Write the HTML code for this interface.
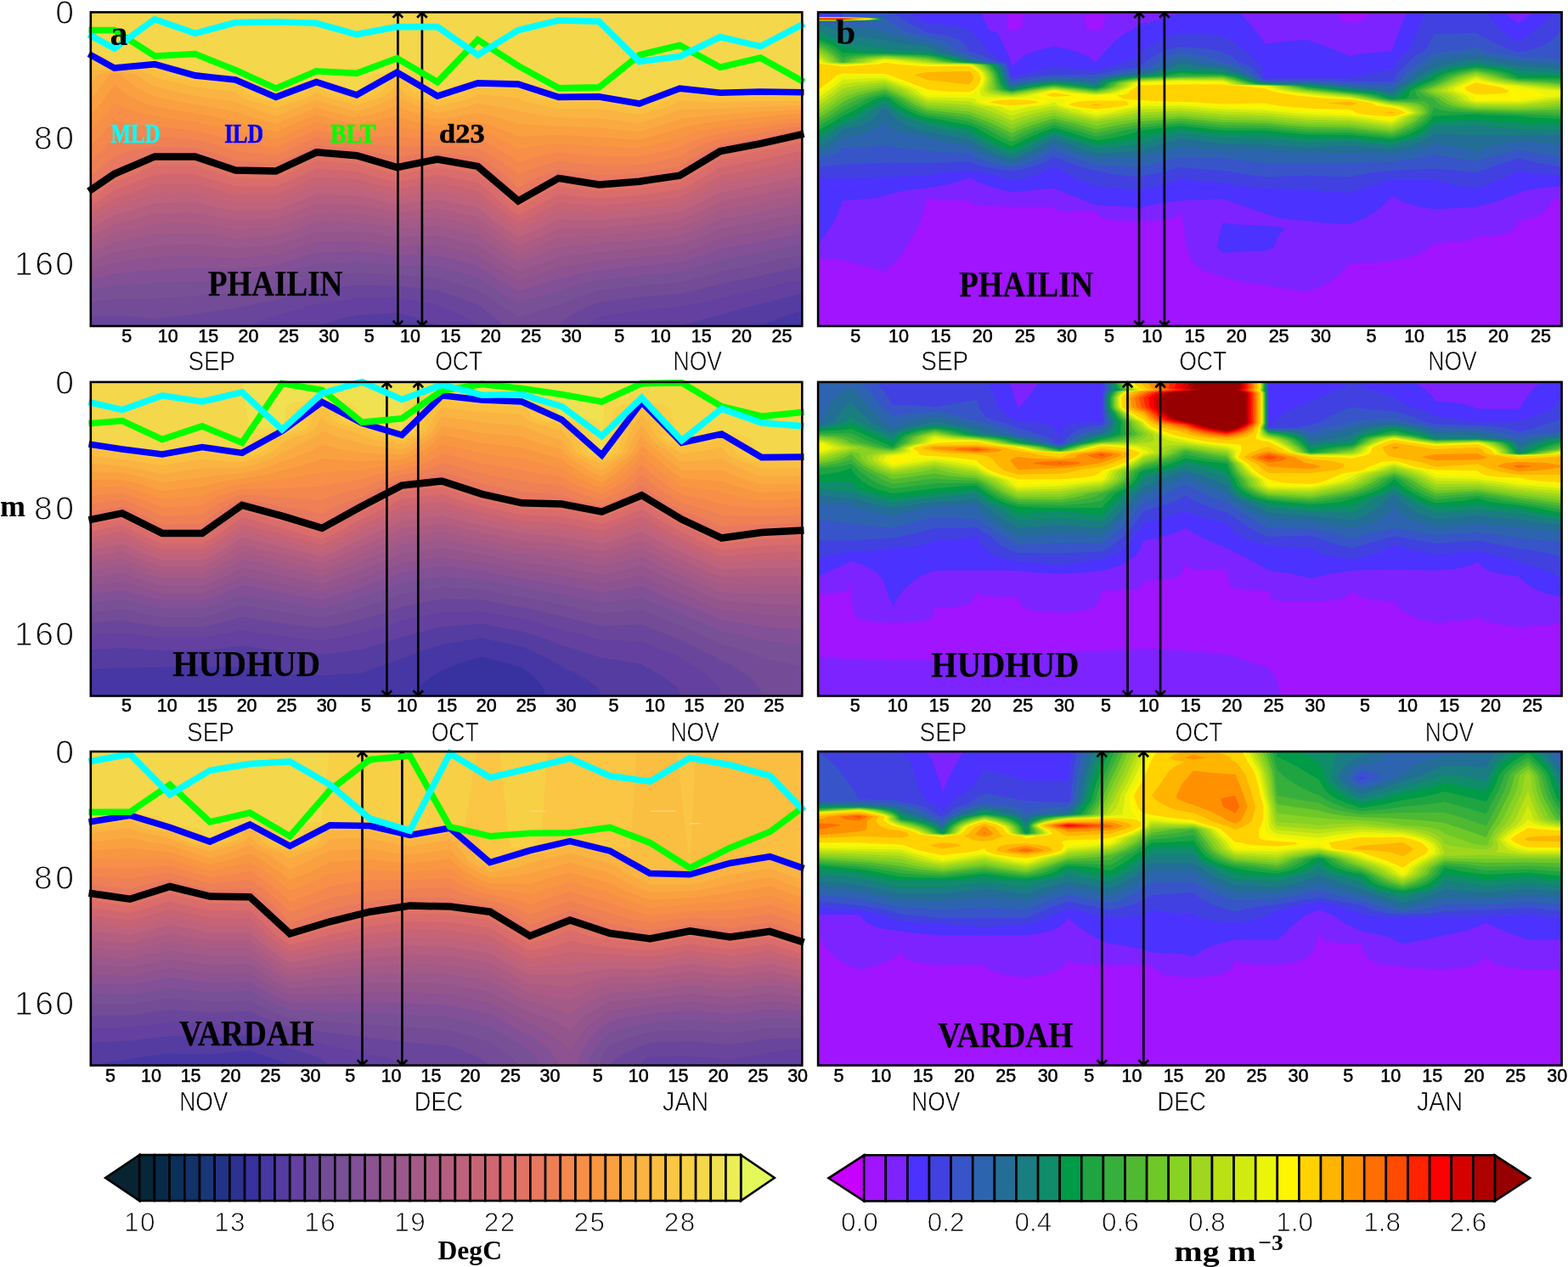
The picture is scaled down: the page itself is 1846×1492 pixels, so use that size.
<!DOCTYPE html>
<html><head><meta charset="utf-8"><title>Figure</title>
<style>html,body{margin:0;padding:0;background:#fff;}body{width:1846px;height:1492px;overflow:hidden;}svg{display:block;}</style>
</head><body><svg width="1846" height="1492" viewBox="0 0 1846 1492"><defs><clipPath id="ct0"><rect x="106.8" y="14.4" width="837.5" height="369.6"/></clipPath><clipPath id="cc0"><rect x="963.1" y="14.4" width="875.5" height="369.6"/></clipPath><clipPath id="ct1"><rect x="106.8" y="449.9" width="837.5" height="369.6"/></clipPath><clipPath id="cc1"><rect x="963.1" y="449.9" width="875.5" height="369.6"/></clipPath><clipPath id="ct2"><rect x="106.8" y="885" width="837.5" height="369.6"/></clipPath><clipPath id="cc2"><rect x="963.1" y="885" width="875.5" height="369.6"/></clipPath></defs><g clip-path="url(#ct0)"><rect x="106.8" y="14.4" width="837.5" height="369.6" fill="#4637a5"/><path fill="#553ca0" d="M106.8 14.4 944.3 14.4 944.3 365.8 920.5 372.9 895.4 384 106.8 384Z"/><path fill="#6441a0" d="M106.8 14.4 944.3 14.4 944.3 345.8 919.8 351.7 876.1 362.7 847.8 371.1 835.8 373.8 800.3 384 515 384 493.2 374.8 467.4 368.3 419.9 371.4 406.7 373.8 372.4 384 106.8 384Z"/><path fill="#69469b" d="M106.8 14.4 944.3 14.4 944.3 329.2 888.7 341.5 828.7 355.4 800.3 361.4 752.8 365.4 705.2 373.1 700.7 375.7 691.6 384 562.5 384 550.2 374.8 548.5 373.8 529.1 364.6 515 359 495.6 355.4 467.4 351.1 419.9 351.6 372.4 357.9 314.7 374.8 293.1 384 106.8 384Z"/><path fill="#734b96" d="M106.8 14.4 944.3 14.4 944.3 314.2 847.9 334.5 824.3 340.6 800.3 346.1 752.8 349.9 705.2 355.9 697 359.1 679.2 367.4 665.8 375.7 657.6 384 592.3 384 583.7 374.8 562.5 358.8 546 352.6 515 342 467.4 336.7 419.9 335.7 372.4 340.2 324.8 353.2 303.7 357.2 277.2 363 257.5 365.5 229.7 370.2 195.7 373.8 182.1 376 164.5 373.8 134.6 371.7 106.8 373.1Z"/><path fill="#785096" d="M106.8 14.4 944.3 14.4 944.3 300.3 895.4 310.5 847.9 319.9 824.2 326.7 800.3 332.7 752.8 336.8 705.2 342 678.4 350.7 657.6 359.4 610.1 373.3 604.5 369.2 562.5 341.8 515 327.2 467.4 323.9 419.9 321.5 372.3 324.8 324.8 338 277.2 345.5 251.5 347 182.1 352.1 134.6 352.2 106.8 355.8Z"/><path fill="#825096" d="M106.8 14.4 944.3 14.4 944.3 287.2 895.4 297.3 847.9 306.4 821.4 314.7 800.3 320.5 752.8 324.7 705.2 329.7 680.2 336 640.9 348 610.1 356.4 584.9 341.5 562.5 326.9 515 313.7 467.4 311.8 419.9 308.3 372.4 310.7 350 317.5 324.8 324.5 277.2 330.6 229.7 331.1 134.6 336.5 106.8 341.9Z"/><path fill="#8c5291" d="M106.8 14.4 944.3 14.4 944.3 274.6 895.4 284.7 847.9 293.6 827.3 300.8 800.3 309.1 705.2 318.2 685 322.1 657.6 328.4 634.3 336 610.1 342.8 587.1 329.5 562.5 313.4 515 301 467.4 300.5 419.9 295.9 372.4 297.6 347.2 305.5 324.8 311.9 277.2 317 229.7 315.5 182.1 317.9 134.6 322.5 122.7 325.8 106.8 329.5Z"/><path fill="#94558c" d="M106.8 14.4 944.3 14.4 944.3 262.5 895.4 272.7 847.9 281.5 826.1 289.8 800.3 298.2 705.2 307.4 675.7 311.9 657.6 315.2 638 322.1 610.1 330.7 583.1 314.7 562.5 300.7 541 295.3 515 289 467.4 289.7 419.9 284 372.4 285.1 346.7 293.4 324.8 300.1 277.2 304.4 229.7 301.1 182.1 303.1 134.6 309.6 118.7 314.7 106.8 318.1Z"/><path fill="#9b588c" d="M106.8 14.4 944.3 14.4 944.3 250.9 895.4 261.1 847.9 269.8 826.3 278.7 800.3 287.9 752.8 292.8 696.3 298.1 657.6 302.8 633.2 311.9 610.1 319.4 585.3 304.5 573 296.2 562.5 288.6 515 277.5 467.4 279.3 419.9 272.6 372.4 273.1 350.9 280.5 324.8 288.8 277.2 292.3 229.7 287.5 182.1 289.2 159 293.4 134.6 297.4 123.2 301.8 106.8 307.2Z"/><path fill="#a35a87" d="M106.8 14.4 944.3 14.4 944.3 239.6 895.4 249.9 847.9 258.6 827.4 267.6 800.3 277.8 752.8 283.1 657.6 291.1 635.7 299.9 610.1 308.8 585.2 293.4 573.2 285.1 562.5 277.1 515 266.4 467.4 269.3 419.9 261.7 372.4 261.5 350.6 269.4 324.8 278 277.2 280.9 229.7 274.5 182.1 276 157.3 281.4 134.6 285.7 121.1 291.6 106.8 296.9Z"/><path fill="#ac5c84" d="M106.8 14.4 944.3 14.4 944.3 228.6 895.4 239 847.9 247.7 827 257.4 800.3 268.2 752.8 273.6 705.2 277.7 657.6 279.8 634.5 289.8 610.1 298.8 585.8 283.3 574.1 275 562.5 266 515 255.7 467.4 259.5 419.9 251.1 372.4 250.3 348.8 259.3 324.8 267.5 277.2 269.9 229.7 262.1 182.1 263.3 158.1 269.4 134.6 274.6 120.3 281.4 106.8 287Z"/><path fill="#b45f80" d="M106.8 14.4 944.3 14.4 944.3 217.9 895.4 228.4 847.9 237.1 825.3 248.2 800.3 258.8 752.8 264.5 705.2 268.5 657.6 269 636.5 278.7 610.1 289.1 599.4 282.4 585.8 273.1 574.5 264.8 562.5 255.2 546.9 251.9 515 245.3 467.4 250 419.9 240.7 372.4 239.5 348 249.1 324.8 257.4 277.2 259.2 252 254.6 229.7 250.1 182.1 251.1 160.3 257.4 134.6 263.8 122.3 270.3 106.8 277.5Z"/><path fill="#be627d" d="M106.8 14.4 944.3 14.4 944.3 207.4 895.4 218.1 847.9 226.7 826.2 238 800.3 249.6 752.8 255.5 705.2 259.5 657.6 258.5 635 269.4 610.1 279.7 597.1 271.3 585.4 263 574.5 254.6 562.5 244.7 515 235.1 467.4 240.8 419.9 230.6 372.4 228.9 347.9 238.9 324.8 247.6 277.2 248.8 251.5 243.6 229.7 238.5 182.1 239.3 160.1 246.3 134.6 253.4 121.1 261.1 106.8 268.2Z"/><path fill="#c66476" d="M106.8 14.4 944.3 14.4 944.3 197.1 895.4 207.9 847.9 216.6 825.6 228.8 800.3 240.7 752.8 246.8 705.2 250.8 657.6 248.3 634.2 260.2 610.1 270.7 598.6 263 585.8 253.7 575.2 245.4 562.5 234.5 515 225.2 467.4 231.7 445.4 226.9 419.9 220.8 372.4 218.6 350.8 227.8 324.8 237.9 277.2 238.7 253.8 233.4 229.7 227.2 182.2 227.8 158 236.2 134.6 243.2 120.6 251.9 106.8 259.2Z"/><path fill="#d06770" d="M106.8 14.4 944.3 14.4 944.3 187 895.4 198 847.9 206.7 823.7 220.5 800.3 231.9 752.8 238.3 705.2 242.2 657.6 238.4 635.9 250 610.1 261.8 598.3 253.7 585.9 244.5 576.8 237.1 562.5 224.6 515 215.5 467.4 222.9 445.3 217.7 419.9 211.1 372.4 208.5 351.7 217.7 324.8 228.6 277.2 228.9 251.2 222.3 229.7 216.1 182.2 216.6 157 226 134.6 233.3 120.5 242.6 106.8 250.4Z"/><path fill="#da6c6c" d="M106.8 14.4 944.3 14.4 944.3 177.1 895.4 188.2 847.9 197 824 211.2 800.3 223.3 752.8 230 705.2 233.8 657.6 228.7 636 240.8 610.1 253.2 588.1 237.1 574.6 224.1 562.5 214.8 515 206 467.4 214.2 444.5 208.4 419.9 201.7 372.4 198.6 351 208.4 324.8 219.4 277.2 219.2 251.5 212.1 229.7 205.3 182.1 205.6 156.8 215.8 134.6 223.6 120.7 233.4 106.8 241.9Z"/><path fill="#e17364" d="M106.8 14.4 944.3 14.4 944.3 167.3 895.4 178.6 847.9 187.5 830.7 197.4 816.2 206.6 800.3 214.9 752.8 221.8 705.2 225.6 657.6 219.2 641.9 226.9 626 237.1 610.1 244.8 599.4 237.1 589.1 226 579.9 217.7 571.5 211.2 562.5 205.3 515 196.7 467.4 205.6 443.3 199.2 419.9 192.4 372.4 188.9 344.5 202 324.8 210.4 277.2 209.8 253.9 202.9 229.7 194.8 182.1 194.9 170.7 199.2 157.2 205.7 134.6 214.1 126.2 219.5 118.5 226 106.8 233.4Z"/><path fill="#e8785f" d="M106.8 14.4 944.3 14.4 944.3 157.8 933.1 161.3 918.3 165 893.6 169.6 871.7 174.3 847.9 178.1 824.6 190.9 812.7 198.3 800.3 206.6 773.6 210.3 752.8 213.7 722.3 215.8 705.2 217.4 679.6 213.1 657.6 209.9 642.6 215.8 631.5 221.4 621.2 227.8 610.1 236.5 599.8 224.1 588.2 213.1 575.9 203.8 562.5 195.9 535.8 190.9 515 187.5 490.5 191.8 467.4 197.1 446.2 190 432.8 186.3 419.9 183.2 372.4 179.3 324.8 201.5 277.2 200.5 252.8 191.8 229.7 184.4 182.1 184.4 170.7 187.2 161.8 190 154.6 192.7 146.9 196.4 140.8 200.1 134.7 204.7 126.4 208.4 118.8 213.1 112.3 218.6 106.8 225.1Z"/><path fill="#ee8055" d="M106.8 14.4 944.3 14.4 944.3 152.9 918.1 157.6 895.4 162.9 870.6 166.9 847.9 171 829.8 177.9 815 186.3 800.3 195.6 752.8 203.9 705.2 206.3 657.6 199.7 642.9 204.7 629.8 210.3 618.9 215.8 610.1 221.5 600.3 211.2 590.5 202.9 575.3 192.7 562.5 185.4 542.6 182.6 515 179.7 492.5 181.6 467.4 185 451 180.7 435.8 177.9 419.9 175.8 372.4 170.5 353.4 178.9 324.8 192.2 277.2 189 255.1 181.6 229.7 174.2 182.1 172.6 171.1 174.3 156.7 177 146 179.8 134.6 183.8 120.7 196.4 106.8 207.3Z"/><path fill="#f3874e" d="M106.8 14.4 944.3 14.4 944.3 148 918.3 152.1 895.4 156.7 847.9 163.8 832.5 168.7 820.8 173.3 811.3 177.9 800.3 184.5 779.2 189 752.8 194.1 705.2 195.1 657.6 189.4 645.1 192.7 630.7 197.4 619.2 202 610.1 206.3 601 198.3 588.3 189 576 181.6 562.5 174.8 515 171.9 467.4 172.8 449.1 170.6 419.9 168.3 393.8 165 372.4 161.8 347.8 172.4 324.8 183 302.9 180.7 277.2 177.5 254.4 170.6 229.7 163.9 182.1 160.8 134.6 162.9 120.8 177 106.8 189.3Z"/><path fill="#f78f48" d="M106.8 14.4 944.3 14.4 944.3 143.2 918.7 146.5 895.4 150.4 847.9 156.7 833.3 160.4 821.7 164.1 810 168.7 800.3 173.5 778 178.9 752.8 184.3 705.2 183.9 657.6 179.2 632.3 184.4 622.2 187.2 610.1 191.2 599.7 183.5 587.7 176.1 575 169.6 562.5 164.3 515 164.1 484 162.2 467.4 160.7 419.9 160.9 392.6 156.7 372.4 153 348.4 163.2 324.8 173.7 297.4 169.6 277.2 165.9 253.6 159.5 229.7 153.7 166 147.5 147.1 144.7 134.6 141.9 120.9 157.6 106.8 171.4Z"/><path fill="#f89641" d="M106.8 14.4 944.3 14.4 944.3 138.4 919.2 141 895.4 144.2 864.8 147.5 844 150.2 823.1 154.8 813.5 157.6 800.3 162.4 794.3 164.1 773.2 169.6 752.8 174.5 705.2 172.8 657.6 168.9 629.9 172.4 610.1 176.1 599.6 169.6 588.8 164.1 575.9 158.5 562.5 153.8 515 156.3 489.5 153 479.2 151.2 467.4 148.5 447.9 151.2 419.9 153.5 396.4 149.3 372.4 144.3 348.9 153.9 324.8 164.4 294.4 158.5 256.6 149.3 229.7 143.4 188.6 138.2 173.4 135.4 162.6 132.7 151.4 129 142.6 125.3 134.6 120.9 120.9 138.2 106.8 153.4Z"/><path fill="#faa041" d="M106.8 14.4 944.3 14.4 944.3 133.6 920 135.4 861.5 141 847.9 142.4 831.4 144.7 808 149.3 776.1 158.5 752.8 164.7 657.6 158.7 610.1 161 599.5 155.8 588.1 151.2 577.3 147.5 562.5 143.2 536.4 146.5 515 148.5 499.3 145.6 487.5 142.8 477.9 140.1 467.4 136.3 458 139.1 445.9 141.9 419.9 146 395.1 141 372.4 135.5 347.2 145.6 324.8 155.2 299.5 149.3 277.2 142.9 255.8 138.2 229.7 133.2 207.8 129.9 182.1 125.5 168.2 120.7 154.3 114.2 144 107.7 134.6 100 120.9 118.8 106.8 135.5Z"/><path fill="#faaa41" d="M106.8 14.4 944.3 14.4 944.3 128.7 907 130.8 868.3 133.6 833.4 136.4 808.1 139.1 800.3 140.3 778.4 147.5 752.8 154.9 705.2 150.4 635.4 147.5 610.1 145.8 599.3 141.9 586.8 138.2 562.5 132.7 539 137.3 515 140.8 501.1 137.3 489.2 133.6 477.3 129 467.4 124.1 456.3 129 445.3 132.7 434.9 135.4 419.9 138.6 394.1 132.7 372.4 126.8 347.8 136.4 324.8 145.9 300.1 139.1 277.2 131.4 211.7 119.7 182.1 113.7 171 108.6 159.8 102.2 149.8 94.8 141.8 87.4 134.6 86.7 129.3 87.4 118.2 103.1 106.8 117.5Z"/><path fill="#fab441" d="M106.8 14.4 944.3 14.4 944.3 123.9 895.4 125.4 847.9 128.1 800.3 129.3 777.6 137.3 752.8 145.1 705.2 139.2 657.7 138.2 649.7 137.3 624.3 133.6 589.4 126.2 562.5 122.1 540.2 128.1 515 133 497.1 127.1 477.6 118.8 472.4 116 467.4 112 463.4 115.1 460.1 117 447.2 122.5 434.4 127.1 419.9 131.2 396.7 125.3 372.4 118 324.8 136.6 300.6 129 277.2 119.8 229.7 112.7 206.1 107.7 182.1 101.9 169.9 94.8 159.9 87.4 144.9 85.5 134.6 84.8 125.4 85.5 119.3 86.5 115.9 87.4 106.8 99.6Z"/><path fill="#fabe41" d="M106.8 14.4 944.3 14.4 944.3 119.1 895.4 119.1 847.9 121 821.3 119.7 800.3 118.2 794 122.5 787.6 125.3 781.5 127.1 769 129.9 752.8 135.3 705.2 128 657.6 127.9 644 125.3 619.1 119.7 614.1 117.9 610.1 115.6 586.7 113.3 562.5 111.6 556.1 115.1 547.8 117.9 534.1 120.7 515 125.2 503 120.7 489.8 117 481.6 113.3 476 109.6 471.5 104 467.4 99.8 459.4 108.6 451.9 113.3 445.1 116 431.7 119.7 419.9 123.8 405.1 119.7 392 117 385.4 115.1 378.2 112.3 372.4 109.2 366 113.3 360 116 351.8 118.8 337 122.5 324.8 127.4 310.6 122.5 299 119.7 290.5 117 283.2 113.3 277.2 108.3 229.7 102.4 205.6 96.6 191.5 93.9 183.9 91.1 177.9 87.4 171.7 85.5 165.6 84.6 153.7 83.7 115.4 82.8 106.8 81.7Z"/><path fill="#fac644" d="M106.8 14.4 944.3 14.4 944.3 114.8 895.4 114 847.9 115.3 824 113.3 812 111.4 800.3 110.2 794.8 111.4 793.3 112.3 786.4 118.8 780.2 121.6 767.7 125.3 752.8 128 743.2 127.1 729.1 125.3 720.3 123.4 714.4 121.6 705.2 119.9 657.6 120.4 645.1 118.8 635.5 117 626.5 114.2 622.5 112.3 619.5 110.5 616.5 106.8 610.1 105.1 562.5 103.9 557.7 105 555.7 105.9 551.5 109.6 542.7 113.3 536.5 115.1 528.3 117 515 119.1 499.4 115.1 492.2 112.3 486.7 109.6 480.7 100.3 475 93.9 474 92.9 471.7 92 467.4 91.1 460.9 92.9 454.9 99.4 449.4 107.7 448.4 108.6 437.9 113.3 424.4 117 419.9 117.9 409.3 116 397.6 113.3 391.8 111.4 385 108.6 378.5 104 372.4 102.6 366.2 104 362.3 106.8 358.2 110.5 349.7 114.2 337.1 117.9 324.8 120.4 308.1 117 297.2 113.3 291.8 110.5 288 105.9 284.3 102.2 282.9 101.3 277.2 100 258.1 98.5 221.4 93.9 210.3 92 202.7 90.2 197.2 88.3 191.2 85.5 189 83.7 187.1 82.8 182.1 81.7 134.6 81.2 122.9 80 115.8 78.2 112.5 76.3 110.1 70.8 106.8 69.5Z"/><path fill="#f8d046" d="M106.8 14.4 944.3 14.4 944.3 111.2 895.4 110.4 847.9 111.7 800.3 106.6 788.3 108.6 781.7 110.5 779.3 111.4 778.3 112.3 774.8 117.9 773.3 118.8 764.8 121.6 752.8 124.4 705.2 116.3 657.6 116.8 644.6 114.2 635.5 111.4 633.6 110.5 631.7 106.8 627.3 105 620.1 103.1 610.1 101.5 562.5 100.3 551.3 102.2 544.5 104 541.9 105 540.6 105.9 537.7 109.6 529.2 112.3 515 115.5 504.3 112.3 497.4 109.6 491.9 97.6 489.1 92.9 487.6 92 478 89.2 467.4 87.5 456.9 89.2 447.3 92 445.8 92.9 443.5 96.6 440.7 102.2 438.5 107.7 437.3 108.6 432.7 110.5 419.9 114.3 407.4 111.4 398.5 108.6 397 107.7 393.8 104 388.7 102.2 380.9 100.3 372.4 99 359.5 101.3 353.2 103.1 350.9 104 345.8 110.5 338.4 113.3 324.8 116.8 314.1 114.2 305.9 111.4 304 110.5 301 105 298.3 101.3 293 99.4 284.9 97.6 277.2 96.4 229.7 91.3 223.3 90.2 215 88.3 206 85.5 202.8 82.8 197.3 80.9 188.8 79.1 182.1 78.1 134.6 79.4 127 78.2 120.7 76.3 119.1 70.8 113.9 68 106.8 65.9Z"/><path fill="#f5d74b" d="M106.8 14.4 944.3 14.4 944.3 107.6 895.4 106.8 847.9 108.1 827 105.9 814 104 798.6 103.1 779.7 105 775.1 105.9 769.4 107.7 766 109.6 763.7 111.4 761.8 117.9 760.1 118.8 752.8 120.8 741 118.8 728.5 115.1 713.8 113.3 705.2 112.7 657.6 113.2 647.8 110.5 646.9 106.8 645.1 105 642.1 103.1 637.1 101.3 627.7 99.4 610.1 97.9 562.5 96.7 543 98.5 534.6 100.3 530 102.2 527.2 104 525.6 105.9 524.7 108.6 524 109.6 515 111.9 508 109.6 507.5 108.6 506 100.3 504.2 92.9 503.6 92 501.1 90.2 497.4 88.3 491.1 86.5 477.7 84.6 467.4 83.9 449 85.5 440.1 87.4 435.4 89.2 432.4 91.1 430.7 92.9 427.6 107.7 426.3 108.6 419.9 110.7 412.1 108.6 410.5 107.7 409.1 104 408.2 103.1 405.5 101.3 401.4 99.4 394.1 97.6 387.8 96.6 372.4 95.4 356.9 96.6 350.6 97.6 343.3 99.4 339.2 101.3 335.6 104 333.5 110.5 324.8 113.2 316.2 110.5 313.8 101.3 310.1 98.5 305.8 96.6 298 94.8 291.1 93.9 277.2 92.8 253.3 90.2 247.8 89.2 229.7 87.7 220.8 85.5 219.4 84.6 218.6 82.8 217.6 81.9 212.7 79.1 206.7 77.2 201.8 76.3 182.1 74.5 162.2 76.3 134.6 77.6 128.9 76.3 128.2 70.8 126 68 123.5 66.1 118.9 64.3 114.9 63.4 106.8 62.3Z"/></g><g clip-path="url(#cc0)"><rect x="963.1" y="14.4" width="875.5" height="369.6" fill="#a014ff"/><path fill="#7d23ff" d="M963.1 14.4 1576.2 14.4 1577.8 23.6 1588.7 26.7 1606.4 23.6 1609.4 19 1613.5 14.4 1838.6 14.4 1838.6 232.5 1827.5 236.2 1824.7 241.7 1821.3 246.3 1817.3 250 1813 252.8 1806.9 255.6 1801.1 257.4 1787.5 260.2 1785.7 264.8 1783.3 268.5 1780.3 271.3 1774.9 274 1768 275.9 1762.4 276.8 1753.5 277.7 1737.8 278.7 1735.4 280.5 1731.3 282.4 1722.3 284.2 1712.3 285.1 1688.1 286.1 1684.9 289.8 1681.8 292.5 1674.6 297.1 1668.2 299.9 1662.6 301.8 1650.5 304.5 1628.8 308.2 1617.6 309.2 1588.7 310.1 1584.5 315.6 1579.5 321.2 1574.4 325.8 1568.1 330.4 1561.9 334.1 1554.2 337.8 1538.9 343.3 1509.6 339.6 1489.2 336 1473.2 334.1 1458 331.3 1448.2 328.6 1439.5 324.9 1430.3 323 1423.7 321.2 1416.7 318.4 1411.7 315.6 1407.1 311.9 1404 308.2 1400.4 301.8 1397.5 294.4 1396.6 291.6 1394.6 275 1391.8 257.4 1389.8 249.1 1388.2 252.8 1385.6 255.6 1381.6 257.4 1377.5 258.3 1369 259.3 1340.1 260.2 1311.3 259.3 1302.7 258.3 1296.2 256.5 1292.6 253.7 1290.4 249.1 1247.5 248.2 1243.7 247.2 1242.2 246.3 1240.7 243.6 1191 243.6 1157.6 242.6 1149.9 241.7 1146.5 240.8 1143.3 238.9 1141.3 236.2 1103.9 235.2 1096.5 234.3 1091.6 232.5 1088 247.2 1084.1 259.3 1080.4 267.6 1071.6 284.2 1065.2 294.4 1058.1 303.6 1050.3 311.9 1041.9 319.3 1015.6 312.9 992.2 306.4 967.7 305.5 963.1 304.5Z M1191 16.2 1185.1 17.2 1186.5 34.7 1191 36 1202 34.7 1204 25.5 1206.5 17.2Z M1290.4 16.2 1275.2 18.1 1277.4 25.5 1279.4 34.7 1290.4 36 1297.7 34.7 1299.4 26.4 1301.4 21.8 1303.6 18.1Z"/><path fill="#4b32ff" d="M963.1 14.4 1161.2 14.4 1158.6 15.3 1155.5 17.2 1160 25.5 1163.9 34.7 1173.9 38.4 1177.3 44 1181.5 52.3 1185 60.6 1186.9 63.4 1188.2 66.1 1190.7 74.5 1191 79.1 1194.8 74.5 1198.8 70.8 1203.9 67.1 1208.7 64.3 1214.9 61.5 1222.9 58.8 1240.7 54.5 1260.5 58.8 1271.9 62.4 1281.5 67.1 1285.8 69.8 1290.4 73.5 1292.9 69.8 1300.9 60.6 1312.9 48.6 1325.5 38.4 1331 36.6 1334.5 34.7 1340.1 28.9 1355.8 25.5 1366.5 22.7 1378.2 19 1389.8 14.4 1459.4 14.4 1467.1 22.7 1474.9 32 1485.7 45.8 1489.2 51.4 1515.3 48.6 1538.9 46.7 1565.1 56 1588.7 66.1 1596.5 64.3 1610 62.4 1638.4 60.6 1647.2 36.6 1656.4 14.4 1770.9 14.4 1778.4 20.9 1787.5 26.9 1797.4 20.9 1806.1 14.4 1838.6 14.4 1838.6 218.9 1813.9 221.4 1802.3 223.2 1793.9 225.1 1787.5 226.9 1777.3 231.5 1764.9 236.2 1752.7 239.9 1737.8 243.6 1688.1 246.5 1671.6 243.6 1657.8 239.9 1646.3 235.2 1638.4 230.6 1633.9 236.2 1629.6 240.8 1624.4 245.4 1618.2 250 1612.2 253.7 1605.1 257.4 1596.5 261.1 1588.7 263.9 1554.2 262 1538.9 260.2 1517.6 258.3 1505.8 256.5 1495.4 253.7 1489.2 250.9 1481.7 249.1 1477.4 247.2 1439.5 234.3 1389.8 236.2 1363.3 239.9 1350.1 242.6 1340.1 245.4 1327.7 243.6 1315.3 242.6 1290.4 241.7 1240.7 221.4 1216.4 224.1 1191 226.4 1174.9 222.3 1157.1 216.8 1148.6 213.1 1141.3 208.4 1135 211.2 1127.1 214 1112.9 217.7 1097.8 220.5 1075 223.2 1063.2 225.1 1050.6 227.8 1041.9 230.6 1034.2 232.5 1020.9 234.3 992.2 236.2 986.2 251.9 979.7 264.8 972.2 275.9 967.6 281.4 963.1 286.1Z M1439.2 263 1439.5 262 1449.5 263.9 1460.8 264.8 1489.2 265.7 1501.3 266.7 1507.1 267.6 1512.8 269.4 1508.7 273.1 1505.8 276.8 1502.4 283.3 1499.6 291.6 1497.3 292.5 1489.2 295.3 1439.5 297.8 1432.4 291.6 1435.7 275.9Z"/><path fill="#4141e1" d="M963.1 14.4 1070.9 14.4 1091.6 27.3 1116.7 29.2 1129 31 1136.4 32.9 1141.3 34.7 1148.2 41.2 1156.2 50.4 1163.2 60.6 1170.9 64.3 1174.6 67.1 1177.3 69.8 1179.5 70.8 1183.4 73.5 1185.9 74.5 1187.2 75.4 1188 76.3 1191 90.2 1213.6 84.6 1240.7 79.1 1290.4 82.8 1295.9 80.9 1304.6 79.1 1317.1 75.4 1322.9 73.5 1331.6 69.8 1340.1 67.1 1342.9 62.4 1346.2 58.8 1357.5 51.4 1368.2 45.8 1381.2 41.2 1389.8 38.9 1423.7 40.3 1433.4 41.2 1439.5 42.1 1450 47.7 1460.4 55.1 1473.5 66.1 1480 73.5 1483.3 76.3 1485.3 79.1 1487.6 84.6 1489.2 92 1588.7 92 1611.9 86.5 1638.4 81.4 1642.9 74.5 1647.4 68.9 1659.8 56.9 1669.3 34.7 1679 14.4 1750.2 14.4 1756.1 22.7 1768.1 35.7 1772.5 39.3 1787.5 49 1796.9 43 1807.9 34.7 1822.5 21.8 1829.3 14.4 1838.6 14.4 1838.6 206.6 1810 204.7 1795.9 202.9 1787.5 201 1777.3 206.6 1765 212.1 1752.6 216.8 1737.8 221.4 1722.4 219.5 1711.1 217.7 1698.8 214.9 1688.1 211.6 1638.4 211.5 1588.7 226.9 1555.5 225.1 1538.9 223.2 1507.1 222.3 1478.2 220.5 1460 218.6 1439.5 215.8 1407.9 213.1 1389.8 210.3 1380.6 214 1368.3 217.7 1356.2 220.5 1340.1 223.2 1299.4 220.5 1290.4 219.5 1273.5 213.1 1256 204.7 1245.8 199.2 1240.7 195.5 1238.8 197.4 1236.1 199.2 1221 205.7 1208.1 209.4 1191 212.6 1177.8 208.4 1170.6 206.6 1157.7 203.8 1141.3 201 1127.3 202 1108.3 203.8 1091.6 206.6 992.2 210.3 968.2 209.4 963.1 208.4Z"/><path fill="#3755c8" d="M992.2 14.4 1050.2 14.4 1070.3 27.3 1091.6 38.4 1111.6 41.2 1119.2 43 1124.4 44.9 1129.9 47.7 1134.8 51.4 1138.7 56 1141.3 60.6 1148.8 62.4 1154.5 64.3 1160.7 67.1 1165.3 69.8 1172.3 71.7 1176.4 73.5 1181.1 74.5 1183.5 75.4 1185 76.3 1187.8 85.5 1188.8 90.2 1191 93.9 1210 91.1 1227.2 89.2 1240.7 88.3 1290.4 87.4 1317.7 81.9 1340.1 79.1 1348.4 72.6 1364.8 62.4 1371.2 59.7 1377.1 57.8 1389.8 55.1 1406.1 56 1423.8 57.8 1433.2 59.7 1439.5 61.6 1450.4 67.1 1459.8 73.5 1468 76.3 1473 79.1 1476.3 81.9 1480 86.5 1482.4 88.3 1484.9 92 1489.2 93.9 1538.9 93.9 1572.1 94.8 1588.7 95.7 1638.4 96 1641.5 93.9 1643.9 89.2 1646.5 85.5 1659.4 71.7 1668.3 64.3 1680 56.9 1688.1 39.9 1737.8 38.9 1759.6 50.4 1774.7 56.9 1787.5 61.6 1797.5 59.7 1804.6 57.8 1812.9 55.1 1819.2 52.3 1825.5 48.6 1832.6 42.1 1838.6 35.9 1838.6 196.4 1810.6 191.8 1798 189 1787.5 186.3 1771.9 191.8 1756.1 196.4 1737.8 203.6 1717.2 201 1688.1 198.4 1638.4 200.7 1612.9 203.8 1601.8 205.7 1588.7 208.4 1538.9 206.6 1489.2 208.4 1439.5 201 1389.8 197.1 1366.6 202.9 1340.1 208.4 1322.4 206.6 1309 204.7 1281.5 199.2 1274.6 197.4 1258 191.8 1248.7 188.1 1240.7 184.4 1232.1 190 1221 194.6 1208.5 198.3 1191 201 1174.8 199.2 1159.2 196.4 1149.1 193.7 1141.3 190.5 1091.6 192.1 1041.9 191.8 992.2 193.7 976.2 195.5 963.1 196.4 963.1 20 992.2 19.9Z"/><path fill="#2d64af" d="M963.1 20.9 963.1 20 992.2 20 1041.5 20.9 1041.9 22.7 1049 27.3 1061.5 34.7 1068.7 38.4 1078.9 41.2 1096.7 44.9 1107.3 47.7 1112.4 49.5 1118.3 52.3 1124 56 1129 60.6 1133.8 62.4 1146.8 67.1 1153.3 69.8 1163.4 71.7 1169.4 73.5 1176.3 74.5 1182.1 76.3 1185.6 85.5 1186.7 90.2 1191 97.6 1199.4 95.7 1211.4 93.9 1240.7 90.6 1290.4 92 1294.6 90.2 1298.3 89.2 1323.5 84.6 1340.1 82.2 1353.5 79.1 1360.5 74.5 1369 69.8 1379 65.2 1389.8 61.5 1402.2 63.4 1416.3 66.1 1429.8 69.8 1439.5 73.5 1449.1 75.4 1455.7 77.2 1464.5 80.9 1468.7 83.7 1471.9 86.5 1477.5 89.2 1480.6 92 1489.2 95.7 1538.9 95.7 1572.1 97.6 1588.7 99.4 1624.2 100.3 1638.4 101.4 1643.3 97.6 1649.2 93.9 1652.1 90.2 1655.7 86.5 1659.1 83.7 1663.3 80.9 1672.5 72.6 1680.3 67.1 1688.1 62.4 1714.1 59.7 1725.8 57.8 1737.8 55.3 1751.5 61.5 1787.5 67 1819.8 68 1829.3 68.9 1834 69.8 1838.6 71.7 1838.6 186.3 1828.3 183.5 1815.7 180.7 1787.5 176.1 1763.1 182.6 1737.8 189.8 1712.4 186.3 1698.6 183.5 1688.1 180.7 1679.2 183.5 1667.3 186.3 1656.9 188.1 1638.4 190.5 1588.7 191.8 1489.2 191.8 1439.5 186.3 1389.8 184.8 1340.1 197.4 1320.2 195.5 1290.4 193.7 1275.2 189 1251 180.7 1240.7 176.7 1233.8 180.7 1223.1 186.3 1214.8 190 1203.2 193.7 1191 196.4 1175.3 193.7 1164.5 190.9 1154.3 187.2 1146.3 183.5 1141.3 180.7 1123.7 179.8 1100.2 177.9 1063.6 174.3 1041.9 171.5 1015.9 173.3 992.2 174.3 987.2 178.9 982.1 181.6 973.4 184.4 963.1 186.3 963.1 25.8 985.1 26.4 992.2 27 1016.2 26.4 1030.4 25.5 963.1 25.3Z"/><path fill="#236e96" d="M963.1 20.9 963.1 20.1 992.2 20 1038.7 20.9 1040.4 21.8 1040.6 22.7 1039.7 23.6 1025 24.6 963.1 25Z M963.1 27.3 963.1 26.6 979 27.3 1019.8 32.9 1041.9 36.6 1050.6 40.3 1062.6 44 1075.2 46.7 1091.6 49.3 1098.3 51.4 1109.4 56 1116.8 60.6 1121.4 62.4 1132.2 65.2 1136.7 67.1 1141.3 69.8 1154.6 71.7 1162.3 73.5 1171.6 74.5 1179.2 76.3 1183.4 85.5 1184.5 90.2 1188.5 97.6 1191 100 1208.9 96.6 1240.7 92.9 1290.4 95.4 1295.2 92.9 1300.9 91.1 1305.1 90.2 1322.4 88.3 1340.1 85.2 1360.6 80.9 1366.9 79.1 1377 73.5 1389.8 68 1402.6 70.8 1412.8 73.5 1426 75.4 1439.5 76.8 1445.2 78.2 1455.7 81.9 1463.8 86.5 1471.9 89.2 1476.2 92 1485.4 95.7 1489.2 96.6 1538.9 97.6 1557.6 98.5 1588.7 101.3 1618.1 103.1 1631.1 105 1638.4 106.8 1642.5 103.1 1647.4 99.4 1657 93.9 1664.2 87.4 1670 83.7 1675.7 80.9 1681.4 76.3 1688.1 71.7 1696.2 69.8 1706.8 68 1721.6 66.1 1737.8 64.7 1787.5 72.4 1838.6 76.6 1838.6 171.2 1819 168.7 1787.5 165.9 1770.2 168.7 1758 171.5 1746.2 175.2 1737.8 178.9 1728.3 176.1 1715.7 173.3 1704.7 171.5 1688.1 169.3 1678.7 173.3 1668.8 176.1 1653.7 178.9 1638.4 180.7 1588.7 180.3 1538.9 180.7 1504.3 178.9 1489.2 177 1439.5 177 1389.8 173 1378.4 177 1365.6 180.7 1340.1 186.3 1290.4 186.3 1276.8 182.6 1262.4 177.9 1250.3 173.3 1240.7 169 1229.6 176.1 1218.7 181.6 1205.6 187.2 1191 191.8 1176.2 188.1 1162.9 183.5 1151.2 177.9 1141.3 171.5 1124.3 169.6 1112.8 167.8 1101.1 165 1091.6 161.7 1074.5 159.5 1065.4 157.6 1059.2 155.8 1052.9 153 1048.7 150.2 1044.8 146.5 1041.9 142.4 1039.6 145.6 1037.7 147.5 1035.3 149.3 1031.8 151.2 1021.6 155.8 1013.5 158.5 1002.3 161.3 992.2 163.2 985.3 168.7 978.3 173.3 971 177 963.1 179.8Z"/><path fill="#197d82" d="M963.1 20.9 963.1 20.1 992.2 20.1 1035.8 20.9 1039 21.8 1039.4 22.7 1037.3 23.6 1005.6 24.6 963.1 24.7Z M963.1 28.3 963.1 27.3 975.5 32 983.6 35.7 992.2 40.3 1041.9 47 1051.6 49.5 1067.7 52.3 1091.6 54.8 1097 56.9 1109 62.4 1123.1 65.2 1128.9 67.1 1135 69.8 1155.3 73.5 1166.8 74.5 1176.3 76.3 1181.2 85.5 1182.3 90.2 1185.9 97.6 1191 102.5 1199.5 100.3 1209.6 98.5 1223.3 96.6 1240.7 95 1273.3 96.6 1282.7 97.6 1290.4 98.8 1293.2 96.6 1296.6 94.8 1305.3 92 1315.6 90.2 1340.1 88.3 1355.8 84.6 1375.2 80.9 1380.3 79.1 1389.8 74.5 1399.8 76.3 1414.7 78.2 1439.5 80 1447.9 82.8 1455.7 86.5 1466.2 89.2 1471.9 92 1481.6 95.7 1489.2 97.6 1538.9 98.8 1561.5 100.3 1609.9 105 1629 107.7 1638.4 109.9 1642.5 107.7 1654 99.4 1664.8 93.9 1669.4 90.2 1673.8 87.4 1681 83.7 1688.1 80.9 1691.3 79.1 1693.7 78.2 1709.1 74.5 1729.7 70.8 1737.8 69.7 1787.5 77.7 1838.6 81.5 1838.6 159.6 1787.5 159 1737.8 159.1 1688.1 158 1685.7 160.4 1681.7 163.2 1668.4 168.7 1655.8 172.4 1638.4 175.8 1588.7 171.4 1538.9 174.3 1489.2 170.2 1439.5 169 1389.8 163.5 1379.6 165.9 1370 169.6 1358.7 173.3 1340.1 178.3 1290.4 180.7 1272.7 175.2 1249.3 165.9 1240.7 163.2 1234.5 165.9 1224.3 172.4 1213.7 177.9 1203 182.6 1191 186.9 1179.6 183.5 1167.4 178.9 1159.8 175.2 1141.3 164.7 1087.1 153.9 1079.7 152.1 1071.6 149.3 1063.9 145.6 1053.8 139.1 1049.7 135.4 1046.7 130.8 1041.9 127.4 1035.5 130.8 1033.1 134.5 1029.9 138.2 1026.7 141 1022.5 143.8 1016.5 146.5 1010.9 148.4 1003.2 150.2 992.2 152.1 987.8 156.7 978.7 164.1 971.6 168.7 963.1 173.3Z"/><path fill="#0f8c69" d="M963.1 20.9 963.1 20.2 992.2 20.1 1033 20.9 1037.6 21.8 1038.1 22.7 1035 23.6 992.2 24.5 963.1 24.5Z M963.1 36.6 963.1 35.7 965.3 36.6 980.5 44 985.5 45.8 989.7 48.6 992.2 51.4 1022.3 54.1 1044.9 57.8 1056.7 58.8 1091.6 60.3 1096.5 62.4 1114 65.2 1121.2 67.1 1128.7 69.8 1133.4 70.8 1148.3 73.5 1162 74.5 1173.4 76.3 1179 85.5 1180.2 90.2 1183.4 97.6 1186.5 101.3 1191 105 1199.9 102.2 1209.2 100.3 1221 98.5 1240.7 96.4 1271.2 98.5 1283.2 100.3 1290.4 102.2 1295.9 97.6 1297.5 96.6 1301.9 94.8 1308.3 92.9 1318.3 91.1 1326.1 90.2 1351.9 88.3 1368.9 84.6 1389.8 80.9 1439.5 83.2 1447.6 86.5 1460.6 89.2 1477.8 95.7 1489.2 98.5 1538.9 100 1566.7 102.2 1622.5 108.6 1631.5 110.5 1638.4 113 1642.5 111.4 1646 109.6 1653.2 104 1660.7 99.4 1672.5 93.9 1681.5 88.3 1691.5 83.7 1696.9 81.9 1707.3 79.1 1728.9 76.3 1737.8 74.7 1748 76.3 1773.5 79.1 1781.7 80.9 1787.5 82.8 1838.6 86.5 1838.6 153.1 1787.5 152.1 1737.8 147.3 1688.1 148.7 1680.2 156.7 1676.2 159.5 1672.6 161.3 1664.8 164.1 1638.4 170.9 1588.7 166.4 1538.9 167.9 1489.2 163.5 1439.5 162.9 1389.8 157.3 1364.1 163.2 1340.1 170.2 1313.5 173.3 1290.4 175.2 1263.7 165.9 1240.7 158.7 1224.2 165.9 1216.3 170.6 1207.3 175.2 1191 182 1179.5 177.9 1171 174.3 1154.7 165.9 1141.3 157.9 1091.6 148.2 1083.8 145.6 1075.5 141.9 1067.3 139.1 1060.1 135.4 1054.7 130.8 1047.5 126.2 1041.9 121.7 1024.8 130.8 1019.8 135.4 1012.6 140.1 1004 143.8 992.2 147 983.5 152.1 978.8 155.8 963.1 165.9Z"/><path fill="#009b46" d="M963.1 20.9 963.1 20.2 992.2 20.2 1030.2 20.9 1036.3 21.8 1036.8 22.7 1032.6 23.6 992.2 24.5 963.1 24.5Z M963.1 44.9 963.1 44 968.2 44.9 977.6 47.7 981.5 49.5 987.3 53.2 992.2 56.9 1005.8 58.8 1020.7 61.5 1091.6 63.3 1109.6 66.1 1116.9 68 1122.4 69.8 1141.3 73.5 1157.2 74.5 1170.5 76.3 1176.8 85.5 1178 90.2 1179.1 92 1180.9 97.6 1182.1 99.4 1184.4 102.2 1187.3 105 1191 105.9 1196.7 105 1207.8 102.2 1225.1 99.4 1240.7 97.6 1263 99.4 1280.8 102.2 1290.4 103.3 1294.4 102.2 1299.9 97.6 1301.9 96.6 1307.2 94.8 1314.9 92.9 1327 91.1 1336.6 90.2 1363.8 88.3 1389.8 83.2 1428.5 85.5 1446 87.4 1454.9 89.2 1474 95.7 1489.2 99.4 1532.5 100.3 1538.9 101.3 1570.8 104 1588.7 106.8 1611.2 108.6 1626.9 111.4 1632.7 113.3 1638.4 116 1642.5 115.1 1647.7 113.3 1651.9 110.5 1654.9 106.8 1663.8 101.3 1671.2 97.6 1680.3 93.9 1693.8 86.5 1701.2 83.7 1717.2 80 1731.6 78.2 1737.8 77.6 1754.7 79.1 1767.4 80.9 1775.7 82.8 1781.5 84.6 1787.5 87.4 1838.6 89.2 1838.6 146.6 1787.5 144.5 1737.8 140.9 1688.1 142.5 1683.2 147.5 1675.4 153.9 1667.7 158.5 1660.6 161.3 1653.8 163.2 1638.4 165.9 1609.3 164.1 1588.7 161.6 1538.9 161.6 1518.8 160.4 1499.9 158.5 1489.2 156.7 1439.5 156.7 1425.5 155.8 1406.6 153.9 1389.8 151.2 1361.5 156.7 1336.6 163.2 1328 165 1309.4 167.8 1290.4 169.6 1240.7 154.1 1215.8 165 1203.4 171.5 1191 177 1179.6 172.4 1164.2 165 1152.6 158.5 1141.3 151.2 1121.1 148.4 1106.7 145.6 1080.8 139.1 1072.6 136.4 1066.9 133.6 1053.3 125.3 1047.1 120.7 1041.9 116 1014.2 130.8 1005.6 136.4 999.7 139.1 992.2 141.9 970.5 154.8 963.1 158.5Z"/><path fill="#1ea541" d="M963.1 20.9 963.1 20.3 992.2 20.2 1027.4 20.9 1034.9 21.8 1035.6 22.7 1030.2 23.6 992.2 24.4 963.1 24.4Z M963.1 47.7 963.1 46.7 966.7 47.7 972.3 49.5 978.3 52.3 985.9 56.9 992.2 62.4 1041.9 63.1 1091.6 64.6 1105.8 67.1 1116.1 69.8 1134.8 73.5 1152.4 74.5 1167.5 76.3 1172.1 81.9 1174.5 85.5 1175.9 90.2 1176.9 92 1178.4 97.6 1181.2 102.2 1183.7 105 1191 106.8 1202.5 105 1215.7 102.2 1240.7 98.8 1257 100.3 1290.4 104.3 1298.4 102.2 1303.9 97.6 1309.1 95.7 1316.6 93.9 1335.8 91.1 1366.7 89.2 1375.6 88.3 1389.8 85.5 1404 86.5 1439.5 87.5 1453.1 90.2 1470.3 95.7 1484.8 99.4 1523.8 100.3 1534 101.3 1538.9 102.3 1566.9 105 1579.4 106.8 1608.1 109.6 1623.2 112.3 1629.1 114.2 1633.4 116 1638.4 117 1654.9 116 1657.3 114.2 1658.6 112.3 1660.5 106.8 1663.4 105 1673.9 99.4 1688.1 93.9 1692 91.1 1697.2 88.3 1704.4 85.5 1714.8 82.8 1731.1 80 1737.8 79.2 1745.6 80 1759 81.9 1771.5 84.6 1781.4 88.3 1787.5 92 1838.6 92 1838.6 140.1 1803.5 138.2 1787.5 136.4 1749.9 135.4 1737.8 134.5 1688.1 136.4 1684.2 141 1679.4 145.6 1674.6 149.3 1666.1 154.8 1660.2 157.6 1655.1 159.5 1648.6 161.3 1638.4 163.4 1588.7 158.7 1538.9 158.5 1489.2 153.7 1439.5 153.6 1389.8 148.2 1362.5 151.2 1341.8 153.9 1330.4 157.6 1320.1 160.4 1305.8 163.2 1290.4 165.3 1253.8 153.9 1240.7 150.5 1230.3 153.9 1225.9 155.8 1207.4 164.1 1191 172 1179.2 166.9 1169.9 162.2 1159.8 156.7 1150.9 151.2 1141.3 147.2 1126.3 144.7 1108.6 141 1091.6 138.5 1083.6 136.4 1078.4 134.5 1061.9 126.2 1054.7 121.6 1047.7 116 1041.9 113.4 1031.6 116 998.6 133.6 992.2 136.6 982.2 142.8 963.1 153.7Z"/><path fill="#37af3c" d="M963.1 20.9 963.1 20.3 992.2 20.3 1024.5 20.9 1033.5 21.8 1034.3 22.7 1027.9 23.6 992.2 24.4 963.1 24.4Z M963.1 50.4 963.1 49.5 968.4 51.4 974.7 54.1 979.7 56.9 986 61.5 992.2 68 997.8 66.1 1004.5 65.2 1022.4 64.3 1041.9 63.9 1078.6 65.2 1092.9 66.1 1128.3 73.5 1147.7 74.5 1164.6 76.3 1168.9 80.9 1172.3 85.5 1173.7 90.2 1174.7 92 1175.8 97.6 1178.1 102.2 1180 105 1191 107.7 1217.3 103.1 1240.7 100 1290.4 105.4 1302.3 102.2 1308 97.6 1310.6 96.6 1322.5 93.9 1335.1 92 1340.1 91.5 1371.2 90.2 1381.1 89.2 1389.8 87.9 1439.5 88.5 1451.5 91.1 1466.5 95.7 1480.3 99.4 1515.2 100.3 1529 101.3 1538.9 103.3 1605.8 110.5 1616.3 112.3 1623.3 114.2 1628.4 116 1638.4 117.9 1664.4 117 1671.5 116 1669.1 114.2 1667.8 112.3 1666 106.8 1674.4 102.2 1693.8 93.9 1700.1 90.2 1706.9 87.4 1720.5 83.7 1737.8 80.8 1752.1 82.8 1761.5 84.6 1773.7 88.3 1781.3 92 1787.5 93.2 1820.3 93.9 1838.6 94.8 1838.6 136.4 1822.6 135.4 1714 131.7 1703.6 130.8 1697.8 129.9 1691.4 128.1 1688.1 126.2 1686.9 129 1685.9 132.7 1684.3 135.4 1679.1 141 1672.4 146.5 1661.8 153 1655.9 155.8 1647.9 158.5 1638.4 160.9 1588.7 155.9 1538.9 155.6 1489.2 150.8 1439.5 150.4 1389.8 145.2 1366.4 147.5 1340.1 150.5 1321.9 153.9 1308 157.6 1290.4 161 1267.7 153.9 1240.7 146.9 1219.4 153.9 1191 167 1175.2 159.5 1160.6 151.2 1141.3 143.2 1118.2 139.1 1091.6 135.6 1085.5 133.6 1069.1 126.2 1061.2 121.6 1053.5 116 1041.9 110.7 1030.7 113.3 1021.3 116 992.2 131.2 978.4 140.1 963.1 148.9Z"/><path fill="#50b932" d="M963.1 20.9 963.1 20.4 992.2 20.3 1021.7 20.9 1032.1 21.8 1033.1 22.7 1025.5 23.6 992.2 24.3 963.1 24.3Z M963.1 53.2 963.1 52.3 969.8 55.1 979.4 60.6 986 66.1 992.2 73.5 995.5 70.8 997.2 69.8 1002.6 68 1007.3 67.1 1014.8 66.1 1041.9 64.8 1074.3 66.1 1091.6 67.3 1121.8 73.5 1142.9 74.5 1161.7 76.3 1166.3 80.9 1170.1 85.5 1171.5 90.2 1172.5 92 1173.3 97.6 1176.4 105 1181.8 106.8 1191 108.6 1224.3 103.1 1240.7 101.3 1270.8 104 1290.4 106.5 1306.3 102.2 1312 97.6 1315 96.6 1323 94.8 1340.1 92.3 1389.8 90.2 1439.5 89.5 1453.6 92.9 1475.8 99.4 1506.5 100.3 1524 101.3 1538.9 104.4 1603.9 111.4 1613.8 113.3 1623.4 116 1638.4 118.8 1674.8 119.7 1678.9 120.7 1681.2 122.5 1682.4 125.3 1682.5 132.7 1680.1 135.4 1677.5 137.3 1672.9 141.9 1663.5 148.4 1652.3 153.9 1644.6 156.7 1638.4 158.5 1588.7 153.1 1538.9 152.6 1489.2 147.8 1439.5 147.3 1389.8 142.3 1340.1 146.9 1316.3 151.2 1290.4 156.7 1265.2 149.3 1240.7 143.3 1226.6 147.5 1213.3 152.1 1206.4 154.8 1191 162 1168.2 150.2 1155.4 144.7 1141.3 139.3 1116.3 135.4 1091.6 132.6 1089.3 131.7 1074.4 125.3 1066.2 120.7 1059.4 116 1041.9 108 1025.9 111.4 1011 116 992.2 125.8 977.7 135.4 963.1 144.1Z M1735.5 82.8 1737.8 82.4 1740.3 82.8 1755.9 85.5 1766 88.3 1775.1 92 1787.5 94.3 1820.3 95.7 1838.6 97.6 1838.6 132.7 1787.5 132.3 1737.8 130.8 1724.4 129.9 1710 128.1 1702.3 126.2 1697.5 124.4 1691.9 120.7 1688.1 116 1681 114.2 1677 112.3 1673.6 109.6 1671.5 106.8 1678.6 103.1 1699.5 93.9 1702.4 92 1708.9 89.2 1721.3 85.5Z"/><path fill="#6ec828" d="M963.1 20.9 963.1 20.4 992.2 20.4 1018.9 20.9 1030.7 21.8 1031.8 22.7 1023.2 23.6 992.2 24.3 963.1 24.3Z M963.1 56 963.1 55.1 969.1 57.8 974 60.6 981.5 66.1 988.4 73.5 992.2 73.9 998.4 73.5 1002.1 70.8 1008.2 68.9 1013.1 68 1020.2 67.1 1041.9 65.6 1071.2 67.1 1091.6 68.6 1115.3 73.5 1141.3 74.6 1158.8 76.3 1163.8 80.9 1167.9 85.5 1169.4 90.2 1170.4 92 1170.8 97.6 1172.7 105 1180.4 107.7 1191 109.6 1224.9 104 1240.7 102 1270.6 105 1290.4 107.6 1301.6 105 1310.3 102.2 1316 97.6 1328.3 94.8 1340.1 93.1 1389.8 91 1439.5 90.5 1452.8 93.9 1471.3 99.4 1519.1 101.3 1526.5 103.1 1538.9 105.4 1588.7 110.5 1602.5 112.3 1611.8 114.2 1618.5 116 1638.4 119.7 1658.6 120.7 1666.4 121.6 1673.1 123.4 1676.1 125.3 1677.7 128.1 1679.1 132.7 1675.9 135.4 1672.6 137.3 1667.7 141.9 1660.6 146.5 1649.3 152.1 1638.4 156 1588.7 150.3 1538.9 149.6 1489.2 144.9 1439.5 144.1 1389.8 139.3 1340.1 143.3 1315.1 147.5 1290.4 152.4 1266 145.6 1240.7 139.7 1225.9 143.8 1214.3 147.5 1202 152.1 1191 157 1179.8 151.2 1167.9 145.6 1154.4 140.1 1141.3 135.3 1121.7 132.7 1091.6 129.6 1077.7 123.4 1065.2 116 1049.9 108.6 1041.9 105.3 1020.1 109.6 1010.4 112.3 1000.7 116 992.2 120.5 978.4 129.9 963.1 139.3Z M1734.4 84.6 1737.8 84 1746.6 85.5 1758.4 88.3 1768.8 92 1787.5 95.5 1809.4 96.6 1838.6 99.1 1838.6 129 1787.5 130.2 1737.8 129 1728.5 128.1 1716.5 126.2 1709 124.4 1703.9 122.5 1697.4 118.8 1696.2 117.9 1695 116 1682 110.5 1677 106.8 1705.2 93.9 1710.5 91.1 1721.9 87.4Z"/><path fill="#87d223" d="M963.1 20.9 963.1 20.5 992.2 20.4 1016.1 20.9 1029.3 21.8 1030.6 22.7 1020.8 23.6 992.2 24.2 963.1 24.2Z M963.1 58.8 963.1 57.8 973.1 63.4 979.1 68 984.7 73.5 992.2 74.3 1004.7 73.5 1008.7 70.8 1017 68.9 1023.5 68 1041.9 66.5 1068.9 68 1090.4 69.8 1108.8 73.5 1141.3 74.9 1155.9 76.3 1161.3 80.9 1165.7 85.5 1168.2 92 1168.3 97.6 1169.1 105 1172.6 106.8 1178.6 108.6 1191 110.5 1203.6 108.6 1213.1 106.8 1240.7 102.8 1270.4 105.9 1290.4 108.6 1302.9 105.9 1311.8 103.1 1314.3 102.2 1320 97.6 1328.2 95.7 1340.1 93.9 1389.8 91.8 1439.5 91.6 1458.6 96.6 1466.8 99.4 1514.1 101.3 1524.9 104 1538.9 106.4 1588.7 111.4 1601.2 113.3 1613.5 116 1638.4 120.7 1652.4 121.6 1659.8 122.5 1664.4 123.4 1669.8 125.3 1672.9 128.1 1675.7 132.7 1671.8 135.4 1667.7 137.3 1663.8 141 1656.5 145.6 1646.9 150.2 1638.4 153.5 1588.7 147.5 1538.9 146.6 1489.2 141.9 1439.5 141 1389.8 136.4 1340.1 139.7 1313.7 143.8 1290.4 148.1 1274.5 143.8 1256.5 140.1 1240.7 136.2 1228.3 139.1 1212.6 143.8 1202 147.5 1191 151.9 1180.1 146.5 1165.4 140.1 1153.5 135.4 1141.3 131.4 1119.9 129 1091.6 126.6 1080.7 121.6 1071 116 1054.5 107.7 1041.9 102.6 1026.3 105 1017 106.8 1006.4 109.6 998.4 112.3 992.2 115.1 977.7 125.3 963.1 134.5Z M1733.6 86.5 1737.8 85.6 1742.4 86.5 1754.2 89.2 1766.4 92.9 1787.5 96.6 1814.7 98.5 1838.6 100.6 1838.6 125.3 1813 127.1 1787.5 128.2 1737.8 127.1 1720.5 124.4 1710.9 121.6 1703.2 117.9 1701.9 116 1700.1 115.1 1687.4 109.6 1682.5 106.8 1710.9 93.9 1714.2 92 1722.4 89.2Z"/><path fill="#a0d71e" d="M963.1 20.9 963.1 20.5 992.2 20.5 1013.2 20.9 1028 21.8 1029.3 22.7 1018.5 23.6 992.2 24.2 963.1 24.2Z M963.1 61.5 963.1 60.6 971 65.2 975.9 68.9 980.9 73.5 992.2 74.7 1011 73.5 1015.4 70.8 1019.8 69.8 1025.8 68.9 1041.9 67.3 1078 69.8 1091.6 71.3 1102.3 73.5 1114.9 74.5 1141.3 75.2 1153 76.3 1158.8 80.9 1163.5 85.5 1166 92 1165.4 105 1168 106.8 1172.4 108.6 1181.7 110.5 1191 111.4 1204.6 109.6 1218.6 106.8 1240.7 103.6 1262.7 105.9 1282 108.6 1290.4 109.4 1296.9 108.6 1301 107.7 1313.5 104 1318.2 102.2 1324 97.6 1340.1 94.6 1389.8 92.5 1439.5 92.6 1454.8 96.6 1462.3 99.4 1509.1 101.3 1518.9 104 1534 106.8 1588.7 112.3 1600.2 114.2 1638.4 121.6 1655.7 123.4 1663.5 125.3 1665.3 126.2 1669.2 129 1672.3 132.7 1667.6 135.4 1662.8 137.3 1658.8 141 1652.5 144.7 1644.8 148.4 1638.4 151 1588.7 144.8 1538.9 143.6 1489.2 139 1439.5 137.8 1389.8 133.4 1340.1 136 1317.5 140.1 1290.4 143.8 1262.6 138.2 1240.7 132.6 1227.3 135.4 1216.6 138.2 1202 142.8 1191 146.9 1176.4 140.1 1165.3 135.4 1155.1 131.7 1141.3 127.4 1117 125.3 1091.6 123.6 1067.5 111.4 1057.4 105.9 1041.9 100 1023.5 102.2 1012.7 104 1001 106.8 992.6 109.6 977.1 120.7 963.1 129.7Z M1737 87.4 1737.8 87.2 1746.9 89.2 1763.7 93.9 1778.9 96.6 1787.5 97.8 1809.8 99.4 1838.6 102.2 1838.6 121.6 1814.6 124.4 1787.5 126.1 1737.8 125.3 1727.3 123.4 1716.9 120.7 1710.1 117.9 1708.8 116 1702 112.3 1688.1 106.8 1692.7 105 1720.1 92 1729.2 89.2Z"/><path fill="#b9e114" d="M963.1 20.9 963.1 20.6 992.2 20.5 1010.4 20.9 1026.6 21.8 1028.1 22.7 1016.1 23.6 992.2 24.1 963.1 24.1Z M963.1 64.3 963.1 63.4 967.7 66.1 977.2 73.5 992.2 75.1 1017.2 73.5 1022 70.8 1041.9 68.2 1075.7 70.8 1104.9 74.5 1141.3 75.5 1150 76.3 1156.3 80.9 1161.2 85.5 1163.9 92 1163.2 98.5 1161.8 105 1162.5 105.9 1164.6 107.7 1168.7 109.6 1178.8 111.4 1191 112.3 1205.7 110.5 1216.2 108.6 1224.1 106.8 1240.7 104.4 1262.9 106.8 1273.5 108.6 1290.4 110.1 1303.4 108.6 1306.7 107.7 1315.3 105 1322.2 102.2 1328.1 97.6 1340.1 95.3 1389.8 93.3 1439.5 93.6 1451 96.6 1457.9 99.4 1473.8 100.3 1504.1 101.3 1516.6 105 1532.6 107.7 1588.7 113.3 1594.4 114.2 1638.4 122.5 1647 123.4 1657.2 125.3 1663.4 128.1 1666.1 129.9 1668.9 132.7 1663.4 135.4 1657.9 137.3 1652.1 141.9 1645 145.6 1638.4 148.5 1588.7 142 1538.9 140.7 1489.2 136 1439.5 134.7 1389.8 130.5 1340.1 132.4 1315.1 137.3 1290.4 141 1264.3 135.4 1240.7 129 1226 131.7 1214 134.5 1201.2 138.2 1191 141.9 1179.3 136.4 1167.8 131.7 1154.1 127.1 1141.3 123.5 1091.6 120.6 1073.5 111.4 1067.8 107.7 1062.6 105 1041.9 97.3 1027.5 98.5 1012 100.3 1001.3 102.2 992.2 104.4 977.8 115.1 963.1 124.9Z M1736 89.2 1737.8 88.8 1760.6 94.8 1776.4 97.6 1787.5 98.9 1815.9 101.3 1838.6 103.7 1838.6 117.9 1828.8 119.7 1815.4 121.6 1787.5 124 1737.8 123.4 1725.3 120.7 1717 117.9 1715.7 116 1709.8 112.3 1695.8 106.8 1701.7 103.1 1726 92Z"/><path fill="#d2eb0f" d="M963.1 20.9 963.1 20.6 992.2 20.6 1007.6 20.9 1025.2 21.8 1026.8 22.7 1013.7 23.6 992.2 24.1 963.1 24.1Z M963.1 66.1 973.5 73.5 978.9 74.5 989.7 75.4 996.4 75.4 1014.6 74.5 1023.5 73.5 1028.6 70.8 1041.9 69.1 1064.4 70.8 1077.6 72.6 1095 74.5 1113.3 75.4 1141.3 75.8 1147.1 76.3 1153.8 80.9 1159 85.5 1161.7 92 1160.6 98.5 1158.1 105 1159.9 108.6 1163.2 110.5 1166.5 111.4 1173.3 112.3 1191 113.6 1194.5 113.3 1213.1 110.5 1222.5 108.6 1229.7 106.8 1240.7 105.2 1255.5 106.8 1265 108.6 1290.4 110.9 1304.3 109.6 1309.9 108.6 1319.9 105 1326.2 102.2 1332.1 97.6 1340.1 96.1 1389.8 94.1 1439.5 94.6 1447.2 96.6 1453.4 99.4 1466.1 100.3 1499.2 101.3 1510.1 105 1524.1 107.7 1565.9 112.3 1588.7 114.2 1619.7 119.7 1633 122.5 1650.9 125.3 1658.6 128.1 1662 129.9 1665.5 132.7 1659.2 135.4 1653.1 137.3 1648.6 141 1638.4 146 1588.7 139.2 1538.9 137.7 1489.2 133 1439.5 131.6 1389.8 127.5 1340.1 128.8 1318.1 133.6 1290.4 138.2 1265.7 132.7 1254.5 129 1246.4 127.1 1240.7 124.7 1210.8 130.8 1199.9 133.6 1191 136.4 1180.4 131.7 1167.9 127.1 1162.2 125.3 1155.7 124.4 1147.8 122.5 1141.3 119.5 1091.6 117.6 1079.4 111.4 1074.4 107.7 1069.8 105 1041.9 94.6 1010.6 96.6 992.2 99 978.4 109.6 963.1 120.1Z M1735.2 91.1 1737.8 90.4 1757 95.7 1773.6 98.5 1801.7 101.3 1822.9 104 1838.6 105.3 1838.6 115.8 1809.1 119.7 1787.5 122 1737.8 121.6 1733.6 120.7 1723.9 117.9 1722.6 116 1717.6 112.3 1703.4 106.8 1707.4 103.1 1731.9 92Z"/><path fill="#ebf50a" d="M963.1 20.9 1004.8 20.9 1023.8 21.8 1025.6 22.7 1011.4 23.6 992.2 24 963.1 24Z M963.1 69.8 963.1 68.9 969.7 73.5 973.9 74.5 982.2 75.4 992.2 75.9 1009.2 75.4 1023 74.5 1029.8 73.5 1035.2 70.8 1041.9 69.9 1053.2 70.8 1071.2 73.5 1092.3 75.4 1144.2 76.3 1151.3 80.9 1156.8 85.5 1159.5 92 1158 98.5 1156.3 102.2 1154.4 105 1153.8 109.6 1154.3 111.4 1157 113.3 1161.6 114.2 1191 114.8 1201.4 114.2 1208.4 113.3 1215 111.4 1228.8 108.6 1235.2 106.8 1240.7 106 1248.1 106.8 1256.6 108.6 1263.4 109.6 1286.8 111.4 1294 111.4 1305.8 110.5 1316.3 108.6 1319.6 106.8 1324.5 105 1330.2 102.2 1336.1 97.6 1340.1 96.8 1389.8 94.9 1439.5 95.6 1443.4 96.6 1448.9 99.4 1458.4 100.3 1494.2 101.3 1500.7 104 1506.9 105.9 1521.4 108.6 1562.6 113.3 1588.7 115.1 1624.8 121.6 1631.7 123.4 1644.6 125.3 1653.8 128.1 1657.9 129.9 1662.1 132.7 1655.1 135.4 1648.2 137.3 1643.5 141 1638.4 143.5 1588.7 136.4 1538.9 134.7 1489.2 130.1 1439.5 128.4 1389.8 124.5 1340.1 125.2 1333.4 127.1 1320.5 129 1306.6 132.7 1290.4 135.4 1278.1 132.7 1268.3 129 1261.4 128.1 1252.6 126.2 1245.3 123.4 1243.3 121.6 1240.7 120.4 1235.2 122.5 1231.1 123.4 1214.2 125.3 1191 130.8 1176.6 125.3 1161.1 123.4 1150.1 120.7 1149.4 117.9 1148.8 117 1146.7 116 1141.3 115.6 1091.6 114.6 1085.4 111.4 1077.1 105 1041.9 91.9 1005.4 92.9 992.2 93.7 977.8 105 963.1 115.3Z M1735.7 92.9 1737.8 92 1745.6 94.8 1758 97.6 1770.2 99.4 1787.5 101.3 1803.2 104 1822.7 105.9 1838.6 106.8 1838.6 113.6 1821.6 115.1 1804.5 117.9 1787.5 119.9 1737.8 119.7 1730.9 117.9 1729.5 116 1725.3 112.3 1711.1 106.8 1713 103.1Z"/><path fill="#fff500" d="M963.1 20.9 1001.9 20.9 1022.4 21.8 1024.3 22.7 1009 23.6 992.2 24 963.1 24Z M1039.9 71.7 1041.9 70.8 1050.3 72.6 1063.1 74.5 1091.6 76.7 1141.3 76.3 1148.8 80.9 1154.6 85.5 1157.3 92 1155.4 98.5 1153.1 102.2 1149.6 106.8 1146.4 109.6 1141.3 111.7 1091.6 111.5 1084.3 105 1041.9 89.2 992.2 88.3 978.4 99.4 963.1 110.5 963.1 71.7 966 73.5 968.9 74.5 974.7 75.4 992.2 76.3 1022.1 75.4 1031.5 74.5 1036.1 73.5Z M1737.5 94.8 1753.7 98.5 1774 101.3 1787.5 104.7 1806.7 106.8 1813 109.6 1821.6 112.3 1802.6 114.2 1793.2 116 1787.5 117.9 1737.8 117.9 1733.1 112.3 1722.7 108.6 1718.8 106.8 1718.6 103.1Z M1381.5 96.6 1389.8 95.7 1439.5 96.6 1444.4 99.4 1450.7 100.3 1489.2 101.3 1494.7 104 1499.8 105.9 1511.9 108.6 1558.3 114.2 1588.7 116 1615.4 120.7 1620.3 121.6 1625.1 123.4 1629.7 124.4 1638.4 125.3 1646.1 127.1 1653.7 129.9 1658.7 132.7 1650.9 135.4 1643.3 137.3 1638.4 141 1617 137.3 1597.6 135.4 1588.7 133.6 1538.9 131.7 1524.1 129.9 1503.2 128.1 1471.3 126.2 1439.5 125.3 1389.8 121.6 1340.1 121.6 1336.2 123.4 1330.4 125.3 1320.7 127.1 1301.7 129 1290.4 132.7 1282.1 129 1266.4 127.1 1257.5 125.3 1251.7 123.4 1252.3 121.6 1253.8 119.7 1255.6 118.8 1261.4 117.9 1255.6 117 1222.3 115.1 1222.3 112.3 1223.1 111.4 1231.7 109.6 1240.7 106.8 1253.6 109.6 1272.4 111.4 1290.4 112.3 1308.6 111.4 1316.1 110.5 1322.8 108.6 1324.8 106.8 1329.1 105 1334.1 102.2 1340.1 97.6Z M1169.9 117 1191 116 1231.9 117 1231.9 120.7 1224.1 122.5 1217.8 123.4 1191 125.3 1171.1 123.4 1156.9 120.7 1160.1 118.8 1163.3 117.9Z"/><path fill="#ffd200" d="M963.1 20.9 999.1 20.9 1021.1 21.8 1023 22.7 1006.7 23.6 992.2 23.9 963.1 23.9Z M963.1 74.5 963.1 74.1 967.2 75.4 977.1 76.3 992.2 78.5 1034.9 75.4 1041.9 73.8 1061.8 76.3 1091.6 78.3 1141.3 77.8 1147.6 81.9 1152.4 85.5 1155.2 92 1152.8 98.5 1150.8 101.3 1146.2 105.9 1141.3 108.6 1116.9 107.7 1104.4 106.8 1091.6 105 1057 92 1041.9 86.8 992.2 86.5 985.9 88.3 974.3 97.6 963.1 105.7Z M1736.6 97.6 1737.8 97.1 1748.6 99.4 1764.7 102.2 1768.6 103.1 1771.3 105 1776.8 106.8 1775.1 108.6 1771.8 109.6 1764.1 110.5 1737.8 111.3 1730.2 108.6 1726.5 106.8 1724.3 103.1Z M1389.8 99.4 1439.5 99.2 1443 100.3 1461.9 101.3 1489.2 104.3 1495.4 106.8 1502.5 108.6 1525.2 112.3 1552.2 115.1 1565.9 116 1588.7 116.8 1600.5 118.8 1615.8 121.6 1618.5 123.4 1621.1 124.4 1625.9 125.3 1638.4 126.5 1641 127.1 1649.6 129.9 1655.3 132.7 1646.7 135.4 1638.4 137.3 1621.8 136.4 1603.9 134.5 1595.5 132.7 1593.7 130.8 1592 129.9 1588.7 129 1549.4 128.1 1523.5 126.2 1504.5 124.4 1489.2 121.6 1439.5 122.5 1411.1 120.7 1356.7 118.8 1327.7 117 1322.4 116 1319.4 115.1 1317.5 114.2 1315.3 112.3 1323.1 111.4 1326.4 110.5 1329.3 108.6 1329.9 106.8 1335.3 104 1340.1 100.6Z M1238.5 109.6 1240.7 108.9 1249.6 110.5 1258 111.4 1262.2 112.3 1253.7 113.3 1240.7 113.9 1236.2 113.3 1232.8 112.3 1231.1 111.4Z M1177.1 117.9 1191 117 1211.5 117.9 1218.3 118.8 1223.7 120.7 1213.1 122.5 1191 124.4 1173.7 122.5 1163.7 120.7 1170.4 118.8Z M1278.8 118.8 1290.4 118.3 1323.5 118.8 1327 119.7 1328.3 121.6 1328.6 123.4 1320.9 125.3 1308.1 127.1 1290.4 128.6 1284.6 128.1 1270.2 126.2 1258.2 123.4 1261.4 121.6 1264.3 120.7 1269 119.7Z"/><path fill="#ffb400" d="M963.1 21.8 963.1 21 992.2 20.9 1015.5 21.8 1018 22.7 992.2 23.7 963.1 23.7Z M963.1 83.7 966.5 84.6 963.1 86.5Z M1109.3 84.6 1141.3 84 1143.5 85.5 1146.5 92 1143.7 96.6 1141.3 99.4 1091.6 93.9 1076.6 88.3 1082.3 86.5 1091.6 85Z M1569.9 120.7 1588.7 120 1597.7 121.6 1595.4 122.5 1588.7 124 1562.1 121.6Z M1289.7 122.5 1298 123.4 1290.4 124.5 1284 123.4Z M1635.8 131.7 1638.4 131.4 1641.8 132.7 1638.4 133.6 1629.8 132.7Z"/><path fill="#ff9100" d="M963.1 21.8 963.1 21.2 992.2 21.1 1010 21.8 1013 22.7 992.2 23.5 963.1 23.5Z"/><path fill="#ff6e00" d="M963.1 21.8 963.1 21.4 992.2 21.3 1004.5 21.8 1008 22.7 992.2 23.3 963.1 23.3Z"/><path fill="#ff4b00" d="M963.1 21.8 992.2 21.5 999 21.8 1003 22.7 992.2 23.1 963.1 23.1Z"/><path fill="#ff2300" d="M963.1 21.8 992.2 21.7 998 22.7 963.1 22.9Z"/></g><path d="M468.4 14.4V384 M462.6 20.7L468.4 15L474.2 20.7 M462.6 377.7L468.4 383.4L474.2 377.7" fill="none" stroke="#000" stroke-width="2.7" stroke-linejoin="miter"/><path d="M496.9 14.4V384 M491.1 20.7L496.9 15L502.7 20.7 M491.1 377.7L496.9 383.4L502.7 377.7" fill="none" stroke="#000" stroke-width="2.7" stroke-linejoin="miter"/><path d="M1341.1 14.4V384 M1335.3 20.7L1341.1 15L1346.9 20.7 M1335.3 377.7L1341.1 383.4L1346.9 377.7" fill="none" stroke="#000" stroke-width="2.7" stroke-linejoin="miter"/><path d="M1370.9 14.4V384 M1365.1 20.7L1370.9 15L1376.7 20.7 M1365.1 377.7L1370.9 383.4L1376.7 377.7" fill="none" stroke="#000" stroke-width="2.7" stroke-linejoin="miter"/><polyline points="104.5,225.2 134.6,204.8 182.1,184.4 229.7,184.4 277.2,200.5 324.8,201.5 372.4,179.3 419.9,183.2 467.4,197.2 515,187.5 562.5,195.9 610.1,236.6 657.6,209.9 705.2,217.5 752.8,213.7 800.3,206.6 847.9,178.1 895.4,169.2 946.5,157.7" fill="none" stroke="#000000" stroke-width="8.5" stroke-linejoin="miter" stroke-miterlimit="10" stroke-linecap="butt"/><polyline points="104.5,63.5 134.6,80 182.1,75.7 229.7,88.9 277.2,94 324.8,114.4 372.4,96.6 419.9,111.9 467.4,85.1 515,113.1 562.5,97.9 610.1,99.1 657.6,114.4 705.2,113.9 752.8,122 800.3,104.2 847.9,109.3 895.4,108 946.5,108.8" fill="none" stroke="#0000ff" stroke-width="7.6" stroke-linejoin="miter" stroke-miterlimit="10" stroke-linecap="butt"/><polyline points="104.5,35.5 134.6,35.5 182.1,66 229.7,63.5 277.2,82.6 324.8,104.2 372.4,83.8 419.9,86.4 467.4,68.6 515,96.6 562.5,46.9 610.1,77.5 657.6,103.7 705.2,102.9 752.8,64.7 800.3,53.3 847.9,79.3 895.4,68.1 946.5,96.6" fill="none" stroke="#00ff00" stroke-width="7.6" stroke-linejoin="miter" stroke-miterlimit="10" stroke-linecap="butt"/><polyline points="104.5,40.6 134.6,57.1 182.1,22.7 229.7,39.3 277.2,26.6 324.8,25.8 372.4,27.3 419.9,40.6 467.4,31.6 515,31.6 562.5,64.7 610.1,35.5 657.6,24 705.2,25.3 752.8,72.4 800.3,66.5 847.9,43.6 895.4,54.6 946.5,27.8" fill="none" stroke="#00ffff" stroke-width="7.6" stroke-linejoin="miter" stroke-miterlimit="10" stroke-linecap="butt"/><rect x="106.8" y="14.4" width="837.5" height="369.6" fill="none" stroke="#000" stroke-width="2.6"/><rect x="963.1" y="14.4" width="875.5" height="369.6" fill="none" stroke="#000" stroke-width="2.6"/><text x="87" y="28.4" font-family="'Liberation Sans', Arial, Helvetica, sans-serif" font-size="39" font-weight="normal" text-anchor="end" fill="#000" letter-spacing="0" stroke="#fff" stroke-width="1.1" paint-order="fill stroke">0</text><text x="90.6" y="176.2" font-family="'Liberation Sans', Arial, Helvetica, sans-serif" font-size="39" font-weight="normal" text-anchor="end" fill="#000" letter-spacing="3.6" stroke="#fff" stroke-width="1.1" paint-order="fill stroke">80</text><text x="89.4" y="324.1" font-family="'Liberation Sans', Arial, Helvetica, sans-serif" font-size="39" font-weight="normal" text-anchor="end" fill="#000" letter-spacing="2.4" stroke="#fff" stroke-width="1.1" paint-order="fill stroke">160</text><text x="244.9" y="348.4" font-family="'Liberation Serif', 'Times New Roman', serif" font-size="43" font-weight="bold" text-anchor="start" fill="#000" textLength="158.5" lengthAdjust="spacingAndGlyphs" stroke="#000" stroke-width="0.25">PHAILIN</text><text x="1129.3" y="349.2" font-family="'Liberation Serif', 'Times New Roman', serif" font-size="43" font-weight="bold" text-anchor="start" fill="#000" textLength="157.9" lengthAdjust="spacingAndGlyphs" stroke="#000" stroke-width="0.25">PHAILIN</text><text x="149.3" y="403.2" font-family="'Liberation Sans', Arial, Helvetica, sans-serif" font-size="21.5" font-weight="normal" text-anchor="middle" fill="#000" stroke="#000" stroke-width="0.55">5</text><text x="197.7" y="403.2" font-family="'Liberation Sans', Arial, Helvetica, sans-serif" font-size="21.5" font-weight="normal" text-anchor="middle" fill="#000" stroke="#000" stroke-width="0.55">10</text><text x="245.3" y="403.2" font-family="'Liberation Sans', Arial, Helvetica, sans-serif" font-size="21.5" font-weight="normal" text-anchor="middle" fill="#000" stroke="#000" stroke-width="0.55">15</text><text x="292.4" y="403.2" font-family="'Liberation Sans', Arial, Helvetica, sans-serif" font-size="21.5" font-weight="normal" text-anchor="middle" fill="#000" stroke="#000" stroke-width="0.55">20</text><text x="340" y="403.2" font-family="'Liberation Sans', Arial, Helvetica, sans-serif" font-size="21.5" font-weight="normal" text-anchor="middle" fill="#000" stroke="#000" stroke-width="0.55">25</text><text x="387.3" y="403.2" font-family="'Liberation Sans', Arial, Helvetica, sans-serif" font-size="21.5" font-weight="normal" text-anchor="middle" fill="#000" stroke="#000" stroke-width="0.55">30</text><text x="434.7" y="403.2" font-family="'Liberation Sans', Arial, Helvetica, sans-serif" font-size="21.5" font-weight="normal" text-anchor="middle" fill="#000" stroke="#000" stroke-width="0.55">5</text><text x="483" y="403.2" font-family="'Liberation Sans', Arial, Helvetica, sans-serif" font-size="21.5" font-weight="normal" text-anchor="middle" fill="#000" stroke="#000" stroke-width="0.55">10</text><text x="530.5" y="403.2" font-family="'Liberation Sans', Arial, Helvetica, sans-serif" font-size="21.5" font-weight="normal" text-anchor="middle" fill="#000" stroke="#000" stroke-width="0.55">15</text><text x="577.7" y="403.2" font-family="'Liberation Sans', Arial, Helvetica, sans-serif" font-size="21.5" font-weight="normal" text-anchor="middle" fill="#000" stroke="#000" stroke-width="0.55">20</text><text x="625.3" y="403.2" font-family="'Liberation Sans', Arial, Helvetica, sans-serif" font-size="21.5" font-weight="normal" text-anchor="middle" fill="#000" stroke="#000" stroke-width="0.55">25</text><text x="672.7" y="403.2" font-family="'Liberation Sans', Arial, Helvetica, sans-serif" font-size="21.5" font-weight="normal" text-anchor="middle" fill="#000" stroke="#000" stroke-width="0.55">30</text><text x="729.3" y="403.2" font-family="'Liberation Sans', Arial, Helvetica, sans-serif" font-size="21.5" font-weight="normal" text-anchor="middle" fill="#000" stroke="#000" stroke-width="0.55">5</text><text x="777.8" y="403.2" font-family="'Liberation Sans', Arial, Helvetica, sans-serif" font-size="21.5" font-weight="normal" text-anchor="middle" fill="#000" stroke="#000" stroke-width="0.55">10</text><text x="825.7" y="403.2" font-family="'Liberation Sans', Arial, Helvetica, sans-serif" font-size="21.5" font-weight="normal" text-anchor="middle" fill="#000" stroke="#000" stroke-width="0.55">15</text><text x="873" y="403.2" font-family="'Liberation Sans', Arial, Helvetica, sans-serif" font-size="21.5" font-weight="normal" text-anchor="middle" fill="#000" stroke="#000" stroke-width="0.55">20</text><text x="920.4" y="403.2" font-family="'Liberation Sans', Arial, Helvetica, sans-serif" font-size="21.5" font-weight="normal" text-anchor="middle" fill="#000" stroke="#000" stroke-width="0.55">25</text><text x="1007.3" y="403.2" font-family="'Liberation Sans', Arial, Helvetica, sans-serif" font-size="21.5" font-weight="normal" text-anchor="middle" fill="#000" stroke="#000" stroke-width="0.55">5</text><text x="1057.9" y="403.2" font-family="'Liberation Sans', Arial, Helvetica, sans-serif" font-size="21.5" font-weight="normal" text-anchor="middle" fill="#000" stroke="#000" stroke-width="0.55">10</text><text x="1107.5" y="403.2" font-family="'Liberation Sans', Arial, Helvetica, sans-serif" font-size="21.5" font-weight="normal" text-anchor="middle" fill="#000" stroke="#000" stroke-width="0.55">15</text><text x="1156.8" y="403.2" font-family="'Liberation Sans', Arial, Helvetica, sans-serif" font-size="21.5" font-weight="normal" text-anchor="middle" fill="#000" stroke="#000" stroke-width="0.55">20</text><text x="1206.7" y="403.2" font-family="'Liberation Sans', Arial, Helvetica, sans-serif" font-size="21.5" font-weight="normal" text-anchor="middle" fill="#000" stroke="#000" stroke-width="0.55">25</text><text x="1256" y="403.2" font-family="'Liberation Sans', Arial, Helvetica, sans-serif" font-size="21.5" font-weight="normal" text-anchor="middle" fill="#000" stroke="#000" stroke-width="0.55">30</text><text x="1305.9" y="403.2" font-family="'Liberation Sans', Arial, Helvetica, sans-serif" font-size="21.5" font-weight="normal" text-anchor="middle" fill="#000" stroke="#000" stroke-width="0.55">5</text><text x="1356.2" y="403.2" font-family="'Liberation Sans', Arial, Helvetica, sans-serif" font-size="21.5" font-weight="normal" text-anchor="middle" fill="#000" stroke="#000" stroke-width="0.55">10</text><text x="1406.4" y="403.2" font-family="'Liberation Sans', Arial, Helvetica, sans-serif" font-size="21.5" font-weight="normal" text-anchor="middle" fill="#000" stroke="#000" stroke-width="0.55">15</text><text x="1455.8" y="403.2" font-family="'Liberation Sans', Arial, Helvetica, sans-serif" font-size="21.5" font-weight="normal" text-anchor="middle" fill="#000" stroke="#000" stroke-width="0.55">20</text><text x="1505.6" y="403.2" font-family="'Liberation Sans', Arial, Helvetica, sans-serif" font-size="21.5" font-weight="normal" text-anchor="middle" fill="#000" stroke="#000" stroke-width="0.55">25</text><text x="1555" y="403.2" font-family="'Liberation Sans', Arial, Helvetica, sans-serif" font-size="21.5" font-weight="normal" text-anchor="middle" fill="#000" stroke="#000" stroke-width="0.55">30</text><text x="1614.5" y="403.2" font-family="'Liberation Sans', Arial, Helvetica, sans-serif" font-size="21.5" font-weight="normal" text-anchor="middle" fill="#000" stroke="#000" stroke-width="0.55">5</text><text x="1665.1" y="403.2" font-family="'Liberation Sans', Arial, Helvetica, sans-serif" font-size="21.5" font-weight="normal" text-anchor="middle" fill="#000" stroke="#000" stroke-width="0.55">10</text><text x="1714.4" y="403.2" font-family="'Liberation Sans', Arial, Helvetica, sans-serif" font-size="21.5" font-weight="normal" text-anchor="middle" fill="#000" stroke="#000" stroke-width="0.55">15</text><text x="1764" y="403.2" font-family="'Liberation Sans', Arial, Helvetica, sans-serif" font-size="21.5" font-weight="normal" text-anchor="middle" fill="#000" stroke="#000" stroke-width="0.55">20</text><text x="1813.9" y="403.2" font-family="'Liberation Sans', Arial, Helvetica, sans-serif" font-size="21.5" font-weight="normal" text-anchor="middle" fill="#000" stroke="#000" stroke-width="0.55">25</text><text x="221.4" y="436.2" font-family="'Liberation Sans', Arial, Helvetica, sans-serif" font-size="30.5" font-weight="normal" text-anchor="start" fill="#000" textLength="55.8" lengthAdjust="spacingAndGlyphs" stroke="#fff" stroke-width="0.6" paint-order="fill stroke">SEP</text><text x="512.2" y="436.2" font-family="'Liberation Sans', Arial, Helvetica, sans-serif" font-size="30.5" font-weight="normal" text-anchor="start" fill="#000" textLength="56.1" lengthAdjust="spacingAndGlyphs" stroke="#fff" stroke-width="0.6" paint-order="fill stroke">OCT</text><text x="792.6" y="436.2" font-family="'Liberation Sans', Arial, Helvetica, sans-serif" font-size="30.5" font-weight="normal" text-anchor="start" fill="#000" textLength="57.3" lengthAdjust="spacingAndGlyphs" stroke="#fff" stroke-width="0.6" paint-order="fill stroke">NOV</text><text x="1084.3" y="436.2" font-family="'Liberation Sans', Arial, Helvetica, sans-serif" font-size="30.5" font-weight="normal" text-anchor="start" fill="#000" textLength="55.8" lengthAdjust="spacingAndGlyphs" stroke="#fff" stroke-width="0.6" paint-order="fill stroke">SEP</text><text x="1388.2" y="436.2" font-family="'Liberation Sans', Arial, Helvetica, sans-serif" font-size="30.5" font-weight="normal" text-anchor="start" fill="#000" textLength="56.1" lengthAdjust="spacingAndGlyphs" stroke="#fff" stroke-width="0.6" paint-order="fill stroke">OCT</text><text x="1681.3" y="436.2" font-family="'Liberation Sans', Arial, Helvetica, sans-serif" font-size="30.5" font-weight="normal" text-anchor="start" fill="#000" textLength="57.3" lengthAdjust="spacingAndGlyphs" stroke="#fff" stroke-width="0.6" paint-order="fill stroke">NOV</text><g clip-path="url(#ct1)"><rect x="106.8" y="449.9" width="837.5" height="369.6" fill="#3732a0"/><path fill="#4637a5" d="M106.8 449.9 944.3 449.9 944.3 819.5 642.6 819.5 638.8 808.4 638.2 807.5 628.4 796.4 614.4 785.9 567.4 773.3 537 782.5 520.3 789.8 511.3 794.6 495.9 806.6 495.1 807.5 488.9 819.5 106.8 819.5Z"/><path fill="#553ca0" d="M106.8 449.9 944.3 449.9 944.3 819.5 708.5 819.5 702.1 808.4 688.2 798.2 661.5 785 643 774.2 614.4 761.4 567.3 751.6 539.2 755.7 520.3 759.2 488.5 769.6 473.2 775.6 442.6 786.2 426.2 792.5 379.1 795.6 332.1 793.9 285 785.2 190.9 785.6 106.8 787.9Z"/><path fill="#6441a0" d="M106.8 449.9 944.3 449.9 944.3 819.5 802.6 819.5 797.1 809.3 795 807.5 784.4 799.2 780.2 796.4 755.5 782.3 725.3 777 708.5 774.7 672.4 763.1 661.4 760 638.2 751.1 614.4 743.5 567.4 734.4 520.3 738.1 497.3 743.7 473.2 750.3 443.9 759.4 426.2 764.5 404.8 767.8 379.1 770.8 332.1 767.3 285 760.4 256.5 764.1 238 766 190.9 766 143.9 762.9 106.8 765Z"/><path fill="#69469b" d="M106.8 449.9 944.3 449.9 944.3 819.5 849.6 819.5 846.5 810.3 838.8 801 827.8 791.8 822.8 788.1 807.4 777.9 802.6 775.1 755.5 755.3 708.5 753.5 661.4 741.4 614.4 728.3 567.4 719.7 520.3 720.6 473.2 730.9 453.7 737.3 426.2 745.3 406.3 749.3 379.1 753.9 332.1 749.2 285 741.9 264.6 746.5 238 751 190.9 751 166.6 748.4 143.9 745.2 106.8 748Z"/><path fill="#734b96" d="M106.8 449.9 944.3 449.9 944.3 819.5 896.7 819.5 893.8 810.3 890.3 805.6 885.7 800.1 873.8 790.9 859.1 782.5 849.6 778.4 840.5 773.3 802.6 754.2 773.2 742.8 755.5 735.2 708.5 736.9 623.5 716.9 567.3 706.5 520.3 705.3 473.2 714.5 446.4 723.4 426.2 729.3 401.2 735.4 379.1 739.8 332.1 734 285 726.6 263.5 732.6 238 738.4 190.9 738.4 171.4 735.4 143.9 730.5 106.8 733.8Z"/><path fill="#785096" d="M106.8 449.9 944.3 449.9 944.3 785.3 925.1 780.7 896.7 775.3 888.1 771.5 872.8 765.9 864.5 763.1 849.6 758.9 802.6 737.5 782.3 729.9 755.5 718.6 708.5 722.4 634.7 706.8 567.3 694.4 520.3 691.5 512.1 692.9 473.2 699.9 442.5 710.5 424.6 716 400.9 722.5 379.1 727.5 332.1 720.9 285 713 262.3 720.6 238 727.1 190.9 727.1 161.9 721.6 143.9 717.5 106.8 721.3Z"/><path fill="#825096" d="M106.8 449.9 944.3 449.9 944.3 760.2 896.7 754.3 876.8 749.3 849.6 743.5 802.6 723.3 772.6 711.4 755.5 703.7 733.7 706.8 708.5 709.6 661.4 700 567.4 683.2 520.3 678.8 473.2 686.6 453.7 693.8 420.3 704.9 398.6 711.4 379.1 716.4 335.1 709.5 285 700.7 262 709.5 238 716.8 190.9 716.8 166 711.4 143.9 705.7 106.8 710Z"/><path fill="#8c5291" d="M106.8 449.9 944.3 449.9 944.3 741.7 896.7 737.9 872.1 733.6 849.7 730.3 781.5 702.2 755.5 690.3 730.3 694.8 708.5 697.9 661.4 688.5 614.4 681.4 567.4 672.6 520.3 667 473.2 674.3 453.9 681.8 416.9 694.8 399.8 700.3 379.1 706.2 339.1 699.4 285 689.3 275.1 693.8 261.5 699.4 238 707.3 190.9 707.3 169.5 702.2 143.9 694.9 106.8 699.5Z"/><path fill="#94558c" d="M106.8 449.9 944.3 449.9 944.3 726.4 896.7 723.6 849.6 718.5 829.4 710.5 785.5 692 767 683.7 755.5 678 732.9 682.7 708.5 687.1 661.4 677.8 614.4 671.5 567.4 662.7 544.6 659.6 520.3 655.9 473.2 662.8 448.8 672.6 408.4 687.4 379.1 696.7 343.5 690.1 285 678.7 262.7 689.2 238 698.4 190.9 698.4 166.9 692 143.9 684.7 106.8 689.7Z"/><path fill="#9b588c" d="M106.8 449.9 944.3 449.9 944.3 712.7 896.7 711 849.6 707.7 824.2 697.5 787.4 681.8 767.5 672.6 755.5 666.4 733.9 671.7 708.5 676.9 661.4 667.8 614.4 662.2 567.4 653.2 543.4 649.5 520.3 645.4 473.2 652 452.7 660.6 426.2 670.5 407.3 678.1 379.1 687.7 285 668.6 274.3 674.4 262.9 680 238 690 190.9 690 166 682.7 143.9 675.1 106.8 680.5Z"/><path fill="#a35a87" d="M106.8 449.9 944.3 449.9 944.3 700.4 896.7 699.4 849.6 697.7 823.9 687.4 787.8 671.7 768.5 662.4 755.5 655.6 733.5 661.5 708.5 667.2 661.4 658.2 614.4 653.3 520.3 635.3 473.2 641.6 453.2 650.4 426.2 660.9 407.6 668.9 379.1 679.2 285 659.1 274.6 665.2 264 670.7 249.8 677.2 238 682 190.9 682 164 673.5 143.9 666 106.8 671.7Z"/><path fill="#ac5c84" d="M106.8 449.9 944.3 449.9 944.3 689.1 849.6 688.4 822.2 677.2 789 662.4 775.6 656 755.5 645.2 734.9 651.3 708.5 658 661.4 649 614.4 644.8 553.5 632.9 520.3 625.7 473.2 631.7 450.3 642.1 426.2 651.7 408.9 659.6 392.9 666.1 379.1 671.1 285 650 274 656.9 262.1 663.3 250.7 668.9 238 674.4 190.9 674.4 163.7 665.2 143.9 657.2 106.8 663.3Z"/><path fill="#b45f80" d="M106.8 449.9 944.3 449.9 944.3 678.4 896.7 678.6 849.6 679.5 821.6 668 795 656 776.1 646.7 755.5 635.4 731.3 643 708.5 649.3 661.4 640.3 614.4 636.5 554.9 624.5 520.3 616.3 473.2 622.2 450.5 632.9 426.2 642.9 402.4 654.1 379.1 663.3 285 641.3 275.4 647.6 262.8 655 250.2 661.5 238 667 190.9 667 169.7 659.6 155.7 654.1 143.9 648.9 106.8 655.2Z"/><path fill="#be627d" d="M106.8 449.9 944.3 449.9 944.3 668.4 896.7 669 849.6 671 820.2 658.7 796 647.6 774.1 636.5 755.5 625.9 732.4 633.8 708.5 640.8 661.4 631.9 614.4 628.6 563.2 618.1 539.5 612.5 520.3 607.4 473.2 613.2 449.6 624.5 426.2 634.5 403.3 645.8 379.1 655.9 332.1 644.1 285 632.9 273 641.2 263.9 646.7 252.1 653.2 238 660 190.9 660 167.5 651.3 143.9 640.9 106.8 647.6Z"/><path fill="#c66476" d="M106.8 449.9 944.3 449.9 944.3 658.9 896.7 660 849.6 663 817.9 649.5 794.4 638.4 773.3 627.3 755.5 616.8 731.6 625.5 708.5 632.7 661.4 623.7 614.4 621 565.1 610.7 543.1 605.1 520.3 598.8 473.2 604.4 451.3 615.3 426.2 626.3 404.7 637.5 379.1 648.6 356.5 643 332.1 636.4 285 624.8 273.9 632.9 262.2 640.2 252.5 645.8 238 653.2 190.9 653.2 165 643 143.9 633.2 106.8 640.1Z"/><path fill="#d06770" d="M106.8 449.9 944.3 449.9 944.3 649.8 896.7 651.3 849.6 655.2 817.2 641.2 794.1 630.1 775.3 619.9 755.5 608 734.3 616.2 708.5 624.8 661.4 615.8 614.4 613.5 567.4 603.6 545.1 597.7 520.3 590.3 473.2 595.8 453.3 606.1 426.2 618.4 415.4 624.5 402.7 631 379.1 641.6 355.7 635.6 332.1 628.8 306.7 622.7 285 617 269.7 628.2 262.6 632.9 248.4 641.2 238 646.6 190.9 646.6 177.1 641.2 164.3 635.6 143.9 625.6 106.8 632.8Z"/><path fill="#da6c6c" d="M106.8 449.9 944.3 449.9 944.3 641 896.7 642.9 849.6 647.8 823.8 636.5 798.7 624.5 776.6 612.5 755.5 599.5 732.5 608.8 708.5 617.2 661.4 608.2 614.4 606.3 567.4 596.2 543.2 589.4 520.3 582.2 473.2 587.5 448.4 600.5 418.7 614.4 412.1 618.1 406.7 621.8 401.4 624.5 379.1 634.9 354.4 628.2 332.1 621.6 285 609.4 273 617.1 258.9 628.2 249.8 633.8 238 640.2 190.9 640.2 167.1 630.1 143.9 618.4 106.8 625.9Z"/><path fill="#e17364" d="M106.8 449.9 944.3 449.9 944.3 632.6 896.7 634.9 849.7 640.5 834 633.8 826.3 629.2 817.1 624.5 802.6 619 799.1 617.1 788.8 611.6 771.6 600.5 755.5 591.3 733.8 600.5 708.5 609.8 661.4 600.8 614.4 599.2 567.4 589 546.7 583 533.7 578.3 520.3 574.3 473.2 579.5 458.2 586.7 438.3 597.7 426.2 603.4 416.5 607 410.6 609.8 401.2 615.3 393 621.8 379.1 628.3 358.7 622.7 342.6 617.1 316.7 610.7 285 602 277.7 606.1 269 611.6 260.1 618.1 248.2 628.2 238 634 190.9 634 177.4 628.2 161 619 153.4 615.3 143.9 611.3 106.8 619.1Z"/><path fill="#e8785f" d="M106.8 449.9 944.3 449.9 944.3 624.5 896.7 627.1 884 628.2 868.5 630.1 849.6 633.4 839.7 626.4 829.4 620.8 818 616.2 802.6 611.6 790.3 603.3 777.1 595 755.5 583.1 733.4 593.1 708.5 602.6 661.4 593.4 614.4 592.3 606.3 589.4 595.9 586.7 581.5 583.9 567.4 581.8 557.5 577.4 547.4 573.7 535.1 570 520.3 566.5 499.3 569.1 472.6 571.9 459.5 577.4 448.1 583 436.6 589.4 426.2 596 411.3 600.5 404.3 603.3 398.6 606.1 392.5 609.8 387.6 613.4 383.5 617.1 379.1 621.8 374.5 619 368.8 616.2 358 612.5 345.6 609.8 332.1 607.6 319.9 603.3 310.6 600.5 299.4 597.7 285 594.8 272.1 601.4 260.4 608.8 249.6 617.1 238 627.8 190.9 627.8 180 620.8 169.9 615.3 157.9 609.8 143.9 604.4 124.7 607.9 106.8 612.4Z"/><path fill="#ee8055" d="M106.8 449.9 944.3 449.9 944.3 615.3 849.6 620.1 842.5 616.2 833.9 612.5 818.9 607 802.6 602 787.4 592.2 771.2 583 755.5 571.3 747.9 577.4 739.3 583 724.5 589.4 708.5 595.7 695.3 593.1 683.8 590.3 671.5 586.7 661.4 582.8 614.4 579.3 567.4 569.9 544.6 562.6 520.3 555.7 510.1 558.9 498.4 561.7 488 563.6 473.2 565.6 454.8 570.9 440.7 577.4 426.2 585.6 408.1 591.3 392.3 597.7 385 601.4 379.1 605.5 370.4 603.3 356.7 600.5 332.1 596.9 321.2 594 312 592.2 285 588.5 271.1 594 261 599.6 250 607 238 617 190.9 618 181.5 612.5 172 607.9 156.8 601.4 143.9 596.5 124.2 599.6 106.8 602.9Z"/><path fill="#f3874e" d="M106.8 449.9 944.3 449.9 944.3 606.1 896.7 608.2 849.6 606.7 838.4 602.4 827.2 598.7 802.6 592.3 787.1 583 777.5 576.5 766.2 568.2 755.5 559.4 746.3 568.2 734.6 576.5 722.7 583 708.5 588.8 693 584.8 681.6 581.1 670.2 576.5 661.4 572.1 634.8 569.1 614.4 566.3 567.4 557.8 545.9 551.5 520.3 544.8 510.1 549.7 499.7 553.4 485.6 557.1 467 560.8 452.1 564.5 438.5 569.1 426.2 575 411 578.3 400.7 581.1 389.5 584.8 379.1 589.1 359.8 587.6 332.1 586.1 311.1 583.9 285 582.2 271.7 586.7 258.9 592.2 249.3 597.7 238 606 190.9 608 179.4 602.4 168.8 597.7 143.9 588.6 106.8 593.4Z"/><path fill="#f78f48" d="M106.8 449.9 944.3 449.9 944.3 596.9 896.7 598.8 884.6 597.7 867.6 595.9 849.7 593.3 828.1 587.6 802.6 582.7 790 574.6 778.2 566.3 766.5 557.1 755.5 547.5 746 558 735 567.2 723.4 574.6 708.5 581.9 694.1 577.4 682.3 572.8 671 567.2 661.4 561.4 639.4 558 604.2 551.5 567.4 545.8 543.7 539.5 520.3 534 513.3 538.6 506.5 542.3 498.1 546 490.4 548.8 473.2 553.5 456.4 556.2 443.6 558.9 433.9 561.7 426.2 564.5 400 568.2 378.2 572.8 332.1 575.4 285 576 272.5 579.3 259.1 583.9 247.2 589.4 238 595.1 190.9 598.1 179.6 593.1 167.7 588.5 143.9 580.7 106.8 583.8Z"/><path fill="#f89641" d="M106.8 449.9 944.3 449.9 944.3 587.8 896.7 589.4 869.8 584.8 849.6 580 841.1 578.3 823.5 575.6 802.6 573 790 564.5 777.7 555.2 766.7 546 755.5 535.6 752.3 540.5 745.8 547.8 735.2 558 729.3 562.6 722.6 567.2 708.5 575.1 694.9 570 682.9 564.5 671.6 558 661.4 550.8 637.8 546 614.4 540.2 567.4 533.8 545.1 528.4 520.3 523.1 511.4 530.3 500.8 536.8 488.6 542.3 473.2 547.5 443.9 550.6 426.2 554 379.1 556.3 358.6 560.8 321.2 566.3 304.8 568.2 285 569.7 269.9 572.8 259.5 575.6 248.7 579.3 238 584.2 190.9 588.1 169.3 580.2 143.9 572.8 106.8 574.3Z"/><path fill="#faa041" d="M106.8 449.9 944.3 449.9 944.3 578.6 896.7 579.9 885 577.4 870.7 573.7 858.9 570 849.6 566.6 802.6 563.4 790 554.3 777.3 544.1 765.9 534 758.1 526.6 755.5 523.7 750.7 533.1 745.4 539.5 741 543.2 733.4 550.6 726.9 556.2 717.8 562.6 708.5 568.2 693.6 561.7 681.7 555.2 670.8 547.8 661.4 540.1 636.8 534 614.4 527.2 567.4 521.7 520.3 512.3 517.6 515.5 514.6 518.3 506.5 524.7 499.5 529.4 487.3 535.8 473.2 541.4 446.1 542.3 426.2 543.4 406.3 542.3 379.1 539.9 368.6 544.1 357.2 547.8 346.8 550.6 332.1 553.8 324.6 556.2 313.2 558.9 297.7 561.7 276.8 564.5 260.2 567.2 248.3 570 238 573.2 190.9 578.2 168.1 570.9 143.9 564.9 106.8 564.8Z"/><path fill="#faaa41" d="M106.8 449.9 944.3 449.9 944.3 569.4 896.7 570.5 882 566.3 871.2 562.6 859.7 558 849.6 553.2 802.6 553.8 787.7 542.3 772.9 529.4 767.3 525.7 763.9 522.9 759.6 518.3 755.5 511.8 750.3 521 745.3 532.1 742.9 534.9 737.7 539.5 732.1 543.2 720.1 553.4 708.5 561.3 699.5 557.1 691 552.5 672.1 540.5 666.5 535.8 661.4 529.4 636.1 522 614.4 514.2 567.4 509.7 520.3 501.4 515.3 509 511.9 512.7 508.6 515.5 489.8 527.5 482.7 531.2 473.2 535.4 440.8 534 426.2 532.9 398.7 528.4 379.1 523.5 367 530.3 354.2 535.8 343.8 539.5 332.1 543 318.6 548.8 303 553.4 285 557.1 254 559.9 228.9 563.6 190.9 568.2 170.2 562.6 143.9 557 106.8 555.3Z"/><path fill="#fab441" d="M106.8 449.9 944.3 449.9 944.3 560.2 896.7 561.1 882.6 556.2 871.5 551.5 855.9 544.1 852.8 542.3 849.6 539.8 826.3 542.3 802.6 544.1 784.6 529.4 774.2 523.8 767.2 518.3 760.7 507.2 755.5 499.9 750.5 507.2 746.4 514.6 742.6 522.9 739.2 532.1 732.8 537.7 728.5 540.5 723.2 543.2 715.1 549.7 708.5 554.4 699.5 549.7 688.8 543.2 680.7 539.5 674.9 535.8 670.8 532.1 666.1 524.7 661.4 518.7 635.6 510 614.4 501.2 567.4 497.6 520.3 490.6 514.2 498.9 509 508.1 506.2 510.9 499.6 515.5 490.2 520.1 482.4 524.7 473.2 529.3 455.3 527.5 442.2 525.7 416.3 520.1 397.1 514.6 387.3 510.9 379.1 507.1 376.8 510 373.2 512.7 350.6 524.7 342.1 528.4 332.1 532.2 328.9 534.9 324.3 537.7 308.2 544.1 293.4 548.8 285 550.8 238 551.4 190.9 558.3 168.7 553.4 143.9 549 106.8 545.7Z"/><path fill="#fabe41" d="M106.8 449.9 944.3 449.9 944.3 551 896.7 551.7 883 546 872.1 543.2 863.3 539.5 856.5 534.9 849.6 526.4 845.9 527.5 825.5 531.2 802.6 534.5 796.4 529.4 781.8 522.9 777.3 520.1 773.8 517.4 769.7 508.1 765.6 500.7 761.1 494.3 755.5 488 748.9 496.1 742.8 506.3 737.6 518.3 733.2 532.1 725.7 537.7 720.6 540.5 714.3 543.2 708.5 547.5 700.7 543.2 688.5 538.6 683.4 535.8 679.2 533.1 678.2 532.1 674.4 524.7 670.4 518.3 666 512.7 661.4 508 644.3 501.6 634.2 499.8 625.5 497 619.2 493.3 616.2 490.6 614.4 488.2 567.3 485.6 520.3 479.7 514.6 485.9 509.9 492.4 506.2 498.9 502 508.1 501.2 509 492.4 514.6 479.1 520.1 473.2 523.3 439.5 517.4 431.2 514.6 426.2 511.8 409.4 506.3 393.6 502.6 389.1 500.7 384.8 497.9 382 495.2 379.1 490.7 375.3 497 371.9 503.5 370.3 505.3 366.5 508.1 358.6 511.8 344.7 515.5 332.1 521.5 324.7 529.4 320.9 532.1 313.7 535.8 305.8 538.6 295.2 541.4 285 544.6 263.6 543.2 238 540.5 190.9 548.4 159.8 543.2 106.8 536.2Z"/><path fill="#fac644" d="M106.8 449.9 944.3 449.9 944.3 544 896.7 544.6 882.8 541.4 874.8 538.6 867.4 534.9 862.4 526.6 856.5 519.2 855.2 518.3 849.7 517 844 518.3 838.3 521 832.8 522.9 824.7 524.7 802.6 527.3 800.2 526.6 788.8 522 783.7 519.2 781.2 517.4 778.8 510 775.9 502.6 772.7 496.1 769.3 490.6 765.8 485.9 761.6 481.3 755.5 479.5 749.9 481.3 744.4 487.8 739.2 496.1 735.6 503.5 732.5 511.8 729.8 521 727.2 532.1 723.3 534.9 718.5 537.7 708.5 542.1 695.8 537.7 690 534.9 685.6 532.1 681.9 522.9 677.5 514.6 672.2 507.2 666.8 501.6 645.7 497.9 638.5 496.1 631.2 493.3 626.3 490.6 619.2 480.4 614.4 479.3 567.4 477.2 547.3 475.8 520.3 471.8 515.7 473 514.2 473.9 509.9 478.5 506.4 483.2 500.6 493.3 497.5 500.7 495 508.1 494.2 509 489.5 511.8 483.8 514.6 473.2 518.4 458.9 516.4 450.2 514.6 443.9 512.7 437.3 510 435.6 509 430.9 505.3 409.1 501.6 399.7 498.9 395.6 497 391.3 494.3 388.1 487.8 384.2 481.3 379.1 479.8 373.8 481.3 368.4 490.6 362.7 503.5 361.8 504.4 356.7 507.2 349.5 510 342.7 511.8 328.2 514.6 325.8 515.5 319.6 522 314.5 529.4 307.5 533.1 299.9 535.8 285 539.4 274.1 538.6 259.3 536.8 247.4 534 238 532.5 229.3 534 223.6 535.8 215.8 537.7 203.9 539.5 190.9 540.9 176.6 539.5 143.9 534.6 131.1 533.1 116.6 530.3 106.8 528.8Z"/><path fill="#f8d046" d="M106.8 449.9 944.3 449.9 944.3 540.1 896.7 541 891 539.5 885.2 537.7 878.3 534.9 874.2 524.7 870.5 518.3 860.9 515.5 849.6 513.7 839.2 515.5 815 522 802.6 524 793.3 520.1 788.6 517.4 786.1 506.3 782.9 496.1 779.3 487.8 775.5 481.3 773.9 480.4 768 478.5 755.5 476.2 744 478.5 738.3 480.4 736.8 481.3 731.7 490.6 727.5 501.6 724 515.5 721.2 532.1 715.1 535.8 708.5 539 700.2 535.8 693 532.1 690.5 522.9 687.4 514.6 683.8 507.2 680.1 501.6 669.5 498.9 658.1 497 649.6 495.2 638.4 491.5 636.4 490.6 631.2 480.4 625.2 478.5 614.4 476.4 567.4 474.2 520.3 468.5 507.7 471.2 502.3 473 501.3 473.9 497.2 480.4 493.5 488.7 490.4 497.9 488 508.1 487.1 509 483.6 510.9 473.2 515.3 460.2 512.7 450.7 510 446.9 508.1 444.6 505.3 441.6 504.4 433.2 502.6 417.2 499.8 410.2 497.9 405 496.1 401.3 494.3 396.1 481.3 394.5 480.4 391.5 479.5 379.1 476.9 366.1 479.5 363 480.4 361.3 481.3 357.1 491.5 353.4 503.5 352.3 504.4 345.6 507.2 339.6 509 332.1 510.8 320.3 512.7 313.4 514.6 311.9 515.5 309.4 519.2 306.8 523.8 304.3 529.4 300.7 531.2 292.8 534 285 536.1 238 528.9 228.3 530.3 190.9 537 168.2 534 106.8 524.7Z"/><path fill="#f5d74b" d="M106.8 449.9 944.3 449.9 944.3 536.3 896.7 537.4 894.5 536.8 889.1 534.9 887.4 524.7 885.7 518.3 883.3 516.4 879.6 514.6 873 512.7 867.4 511.8 849.6 510.3 834.3 511.8 825.1 513.7 820 515.5 816.8 517.4 802.6 520.6 795.9 517.4 794.4 504.4 792.7 494.3 790.3 484.1 789.4 481.3 788.6 480.4 783.7 477.6 778 475.8 767.4 473.9 755.5 472.8 745.3 473.9 735.4 475.8 727.6 478.5 724.5 480.4 723.7 481.3 720.9 490.6 718.6 501.6 716.7 515.5 715.1 532.1 708.5 535.8 700.4 532.1 697.4 514.6 695.4 507.2 693.4 501.6 690.1 499.8 684.7 497.9 675.1 496.1 661.4 494.8 652 492.4 646.5 490.6 643.2 480.4 637.1 477.6 630.2 475.8 617.9 473.9 567.4 471.2 520.3 465.1 507.9 466.5 499 468.4 493.7 470.2 488.8 473 486.6 478.5 484.4 486.9 482.5 497 481 508.1 480.1 509 473.2 512.1 461 509 459.4 508.1 458.2 505.3 454.7 503.5 449 501.6 438.5 499.8 426.2 498.7 413.4 495.2 411.2 494.3 408 481.3 407 480.4 403 478.5 396.8 476.7 386.2 474.8 379.1 474.1 371.2 474.8 360 476.7 353.8 478.5 349.8 480.4 348.9 481.3 347.4 486.9 344.1 503.5 342.8 504.4 340.3 505.3 332.1 507.8 317.6 509 311.5 510 307.3 510.9 301.9 512.7 298.6 514.6 297.9 515.5 295.9 522 294.2 529.4 292.6 530.3 287 532.1 285 532.7 268.9 530.3 257.1 527.5 251.4 526.6 238 525.3 218.5 526.6 212.1 527.5 205.4 529.4 201.9 531.2 190.9 533.2 177.4 531.2 173 529.4 164.7 527.5 143.4 525.7 140.5 524.7 138 522.9 134.9 522 124.9 521 106.8 520.6Z"/><path fill="#f0e150" d="M285 449.9 520.3 449.9 511.2 455.4 503.6 461.9 490.1 462.8 484 463.8 479.4 465.6 477.5 467.5 476.1 470.2 475.4 473 474 508.1 473.2 508.8 472 508.1 471.6 504.4 470.3 500.7 468.6 498.9 466.8 497.9 462.8 497 447.1 496.1 426.2 495.8 421.2 494.3 419.5 480.4 418.1 478.5 415.9 476.7 412.1 474.8 404.2 473 395.7 472.1 379.1 471.2 357.8 472.1 349.2 473 344.9 473.9 340.6 475.8 337.7 478.5 336.4 481.3 334.9 503.5 333.3 504.4 332.1 504.8 301.3 504.4 293.6 503.5Z M520.3 449.9 755.5 449.9 750.5 454.5 746.3 459.1 738.8 469.3 720.6 471.2 717.1 472.1 715.1 473 712.4 475.8 711.2 478.5 710.6 481.3 709.7 501.6 709.1 532.1 708.5 532.5 707.8 532.1 706.7 501.6 705 497 703.2 495.2 701.4 494.3 697.7 493.3 686.5 492.4 661.4 491.9 656.6 490.6 655.2 480.4 653.9 478.5 651.9 476.7 648.7 474.8 642.4 473 636.3 472.1 624.5 471.2 567.4 468.2 561.3 467.5 554.8 464.7 550.8 463.8 531.1 461.9Z"/></g><g clip-path="url(#cc1)"><rect x="963.1" y="449.9" width="875.5" height="369.6" fill="#a014ff"/><path fill="#7d23ff" d="M963.1 449.9 1838.6 449.9 1838.6 733.6 1827.9 735.4 1819.6 736.3 1788.8 738.2 1772 736.3 1756.9 733.6 1747.6 730.8 1739.7 727.1 1732.8 728.9 1722.5 730.8 1704.9 732.6 1690.5 733.6 1673.7 729.9 1665.3 727.1 1659.1 724.3 1654.3 721.6 1649.4 717.9 1644.8 713.2 1641.3 708.6 1620.3 706.8 1614.3 705.8 1606.2 704 1601.1 702.2 1597.5 700.3 1594.7 698.5 1592.1 695.7 1590.4 698.5 1588.7 700.3 1584.6 703.1 1579.7 704.9 1570.2 706.8 1560.8 707.7 1542.9 708.6 1509.1 707.7 1502.2 706.8 1497.7 704.9 1495.9 703.1 1494.7 700.3 1493.7 695.7 1464.4 694.8 1456.6 693.8 1450.9 692 1447.9 689.2 1446.3 685.5 1445.2 680 1444.5 671.7 1407.9 670.7 1402.1 669.8 1399.7 668.9 1397.6 667 1396.3 664.3 1395.4 658.7 1394.2 667 1392.6 672.6 1390.3 676.3 1386.8 679.1 1381.7 680.9 1376.9 681.8 1368 682.7 1346.2 683.7 1345.2 688.3 1343.7 691.1 1341.2 692.9 1338.5 693.8 1332 694.8 1297 695.7 1296 701.2 1294.7 705.8 1293 709.5 1291.1 712.3 1289.2 714.2 1286.3 716 1281.6 717.9 1278 718.8 1264 720.6 1247.8 721.6 1228.4 720.6 1214 718.8 1208.2 716.9 1203.9 714.2 1202.3 712.3 1200.7 709.5 1198.6 703.1 1161.4 702.2 1155.4 701.2 1152.9 700.3 1150.8 698.5 1149.4 695.7 1148.3 701.2 1146.9 704.9 1145.2 707.7 1142.2 710.5 1138.3 712.3 1130.1 714.2 1121.1 715.1 1100.3 716 1099.2 722.5 1097.8 726.2 1095.4 728.9 1091.8 730.8 1088 731.7 1080 732.6 1051.1 733.6 1029.2 732.6 1020.6 731.7 1013.1 729.9 1009.7 728 1007.8 726.2 1006 723.4 1004.5 718.8 1003.6 714.2 1001.9 683.7 1001.3 689.2 1000.4 692.9 999.4 694.8 996.8 696.6 993 697.5 963.1 699.3Z M1328.3 765 1346.2 764.1 1395.4 765.9 1444.5 770.4 1452.7 772.4 1493.7 786.9 1499.2 793.6 1503.3 801 1505.6 809.3 1507.8 819.5 963.1 819.5 963.1 774.1 1051.1 777.8 1149.4 774.1 1198.6 770.4 1297 766.7Z"/><path fill="#4b32ff" d="M963.1 449.9 1188.8 449.9 1198.6 481.3 1211.4 466.5 1223.2 449.9 1665.9 449.9 1672.6 454.5 1679.4 460.1 1685 465.6 1690.5 472.1 1710.7 473.9 1722.2 475.8 1732.5 478.5 1739.7 481.6 1788.8 481.5 1794.6 471.2 1799.8 463.8 1806.3 456.4 1813.7 449.9 1838.6 449.9 1838.6 703.1 1822.4 699.4 1813.9 696.6 1807.5 693.8 1802.4 691.1 1797.1 687.4 1792.9 683.7 1788.8 679.1 1768 676.3 1760.2 674.4 1754.7 672.6 1750.6 670.7 1746.1 668 1742.9 665.2 1739.7 661.5 1732.6 665.2 1723.1 668 1711.9 669.8 1690.5 671.7 1641.3 670.7 1641.3 664.3 1641.3 670.7 1592.1 671.7 1562.9 676.3 1542.9 680.9 1522.9 676.3 1493.7 671.7 1479.3 663.3 1463.6 655 1444.5 645.8 1431.1 640.2 1419.1 634.7 1406.6 628.2 1395.4 621.8 1385.5 626.4 1375 630.1 1360.7 633.8 1346.2 636.5 1343.8 643 1340.9 648.6 1337.3 653.2 1333.2 656.9 1324.8 662.4 1317 666.1 1308.7 668.9 1297 671.7 1283.3 673.5 1270.6 674.4 1247.8 675.4 1221.7 674.4 1209.8 673.5 1198.6 671.7 1100.3 671.7 1091.1 675.4 1083.8 679.1 1076.4 683.7 1070.4 688.3 1064.7 693.8 1060 699.4 1055 706.8 1051.1 714.2 1045.2 699.4 1040.1 683.7 1038.2 680.9 1034.2 676.3 1028.7 671.7 1015 665.2 1001.9 660.6 983.7 669.8 963.1 679.1Z"/><path fill="#4141e1" d="M963.1 449.9 1164.2 449.9 1170.5 465.6 1176.3 481.3 1179.3 484.1 1188.1 490.6 1198.6 496.1 1216.5 497 1225.3 497.9 1234.1 499.8 1238.4 501.6 1241.9 504.4 1244.4 508.1 1247 514.6 1247.8 521.1 1248.4 513.7 1249.9 507.2 1251.7 503.5 1254.9 500.7 1260.6 498.9 1267.5 497.9 1297 496.2 1297.5 466.5 1297.8 461 1298.4 459.1 1298.2 449.9 1493.4 449.9 1493.7 503.5 1495.1 500.7 1496.6 498.9 1503.7 492.4 1509.6 487.8 1517.2 483.2 1529.5 477.6 1542.9 473.4 1566.2 461.9 1592.1 449.9 1615 459.1 1641.3 467.6 1650.7 473.9 1661.3 479.5 1669.3 481.3 1678.4 484.1 1685.1 486.9 1690.5 489.8 1733.7 496.1 1739.7 496.6 1788.8 496.1 1822.7 484.1 1825.7 482.2 1832.4 475.8 1838.6 470.5 1838.6 680.9 1825.5 674.4 1808.4 668 1788.8 662.4 1778.1 658.7 1765.5 655 1739.7 648.9 1717.9 650.4 1690.5 653.2 1652.9 644.9 1641.3 641.5 1631.4 646.7 1620 651.3 1608 655 1592.1 658.7 1576.8 656.9 1562.5 654.1 1551.3 650.4 1547.4 648.6 1542.9 645.8 1510.1 643.9 1493.7 642.1 1477.7 638.4 1469.5 635.6 1463.3 632.9 1457.1 629.2 1452.4 625.5 1448 620.8 1444.5 616.2 1431 613.4 1417 609.8 1406 606.1 1395.4 601.4 1383.6 606.1 1372.2 609.8 1358.4 613.4 1346.2 616.2 1343 621.8 1338.5 628.2 1326.4 643 1323.5 645.8 1318.6 649.5 1310.1 654.1 1303 656.9 1297 658.7 1247.8 666.1 1223.6 663.3 1198.6 661.3 1185.1 658.7 1175.7 656 1167.4 652.3 1163.1 649.5 1159.7 646.7 1156.3 643 1153.6 639.3 1149.4 631 1142 632.9 1128.9 634.7 1100.3 636.5 1094 639.3 1087.7 641.2 1071.8 643.9 1051.1 645.8 1039.7 647.6 1027.8 648.6 1001.9 649.5 994.8 650.4 984 652.3 976 654.1 969.9 656 963.1 658.7Z"/><path fill="#3755c8" d="M963.1 449.9 1032.2 449.9 1042.2 462.8 1051.1 476.8 1080.1 477.6 1093.7 478.5 1100.3 479.5 1149.4 470.9 1154.4 482.2 1157.2 486.9 1160.8 491.5 1184.9 498.9 1198.6 504 1211.8 507.2 1216.8 509 1222.2 511.8 1230.4 513.7 1236.1 516.4 1238.3 518.3 1240.5 521 1243 522 1247.8 523 1252.5 521 1255.3 516.4 1256.9 514.6 1260.8 511.8 1264 509 1266.9 507.2 1271 505.3 1277.2 503.5 1287.4 501.6 1297 500.6 1300.1 497 1298.7 479.5 1298.8 468.4 1299.5 461.9 1299.6 461 1301.4 459.1 1300.8 457.3 1300.3 449.9 1492.7 449.9 1493 503.5 1493.7 504.3 1528.5 503.5 1535.2 501.6 1556.1 497 1565.8 490.6 1572.5 486.9 1580.7 483.2 1592.1 479.2 1598.3 480.4 1612.4 482.2 1641.3 484.2 1652.3 486.9 1661.2 489.6 1668.3 492.4 1678.2 497 1690.5 499.4 1739.7 500.8 1763.3 502.6 1770.1 503.5 1779.2 505.3 1784.9 507.2 1788.8 509 1814.8 501.6 1838.6 493.6 1838.6 655.8 1825.3 652.3 1812.1 649.5 1788.8 645.8 1739.7 636.5 1690.5 639.9 1641.3 631.6 1615.1 638.4 1592.1 645.8 1565 638.4 1542.9 631 1493.7 631.9 1483.6 628.2 1474.3 623.6 1468.6 619.9 1464 616.2 1444.5 603.8 1430.9 599.6 1418.5 595 1403.9 588.5 1395.4 583.6 1386.7 588.5 1377.8 592.2 1346.2 602.1 1341 609.8 1332.3 620.8 1322 631.9 1313.8 639.3 1308.9 643 1304.6 645.8 1297 649.5 1247.8 651.6 1198.6 651.3 1188.4 647.6 1179.4 643 1171.7 637.5 1165.5 631 1149.4 621.2 1100.3 622 1076.6 628.2 1051.1 633.8 1028.5 634.7 1001.9 636.5 963.1 636.5Z"/><path fill="#2d64af" d="M963.1 449.9 1013.2 449.9 1025.3 462.8 1035.7 476.7 1051.1 490.6 1059.4 488.7 1073.1 486.9 1100.3 485 1116.2 486.9 1125 488.7 1136 492.4 1149.4 495.2 1166.8 499.8 1183.4 505.3 1198.6 511.8 1214 513.7 1222.2 515.5 1229.1 518.3 1233.1 521 1247.8 524.3 1257.1 521 1258.8 520.1 1262.5 516.4 1265.5 514.6 1272.9 511.8 1278.6 509 1287.4 506.3 1297 504.3 1302.2 498.9 1303.4 497 1300.1 479.5 1300.1 468.4 1301.4 461 1304.4 459.1 1303.3 457.3 1302.4 449.9 1492.1 449.9 1491.9 459.1 1492.5 462.8 1492.7 497.9 1492.3 503.5 1493.7 505.1 1517.4 505.3 1536 506.3 1540.6 507.2 1542.9 508.3 1592.1 496.7 1609.3 494.3 1641.3 492.1 1656.2 497 1674.4 499.8 1690.5 503.7 1739.7 504.7 1745.4 505.3 1761.8 508.1 1777.3 511.8 1788.8 515.3 1794.5 513.7 1804.4 511.8 1822.5 510 1838.6 509 1838.6 638.6 1788.8 633.5 1767 630.1 1739.7 626.7 1690.5 630 1641.3 621.8 1616.1 627.3 1592.1 633.8 1571.9 628.2 1558.5 625.5 1542.9 622.8 1493.7 621.8 1486.6 618.1 1467.8 607 1457.2 601.4 1450.6 596.8 1444.5 591.5 1435 588.5 1425.3 584.8 1417.3 581.1 1409.1 576.5 1395.4 570.6 1381.9 576.5 1375.5 580.2 1367.6 583.9 1357.8 587.6 1346.2 591 1340.8 596.8 1332.1 608.8 1321.9 619.9 1308.3 631.9 1297 640 1247.8 639.2 1198.6 641.4 1189.3 636.5 1181.5 631 1149.4 611.3 1100.3 608.6 1073.6 615.3 1051.1 621.8 1022.4 619 963.1 611.4Z"/><path fill="#236e96" d="M1304.5 449.9 1491.4 449.9 1491.5 457.3 1491.2 459.1 1492 462.8 1492.2 497.9 1491.6 503.5 1492.3 504.4 1493.7 505.9 1523 507.2 1533.8 509 1539.1 511.8 1541 513.7 1542.9 516.4 1567.4 510 1592.1 504.1 1600.5 501.6 1612.1 499.8 1641.3 497.8 1656.6 499.8 1667.3 501.6 1679.4 504.4 1690.5 507.9 1739.7 508.6 1756.6 511.8 1774.5 516.4 1781.7 517.4 1786.6 519.2 1788.8 521.6 1796.1 518.3 1805.9 515.5 1823.1 512.7 1838.6 511.3 1838.6 626.6 1776.9 619.9 1739.7 616.8 1690.5 620.2 1680.7 618.1 1670.2 615.3 1664.4 613.4 1657.7 610.7 1652.8 607.9 1647.9 604.2 1644.2 600.5 1641.3 596.7 1637.5 601.4 1633.6 605.1 1628.6 608.8 1622.2 612.5 1616 615.3 1607.8 618.1 1592.1 621.8 1542.9 614.7 1493.7 611.2 1486.3 607 1474.8 602.4 1466 597.7 1456.4 591.3 1452.6 589.4 1449.8 587.6 1446.8 584.8 1444.5 581.8 1395.4 560.8 1375.4 570 1346.2 581.9 1333.1 595.9 1325.1 606.1 1319.9 611.6 1309.7 620.8 1297 630.3 1247.8 628.3 1198.6 631.7 1165.2 611.6 1156.8 604.2 1149.4 595.9 1100.3 595.9 1090.5 598.7 1074.6 601.4 1051.1 607.2 1014.5 599.6 1006.5 596.8 1001.9 594 978.5 593.1 963.1 591.6 963.1 497.7 968.6 496.1 971.3 487.8 974.5 480.4 977.8 474.8 982.2 469.3 986.1 465.6 989.8 462.8 994.3 460.1 1000.1 457.3 1001.9 456.6 1010.1 464.7 1020.5 476.7 1025.1 481.3 1039.2 494.3 1046.4 499.8 1051.1 504.1 1053.2 502.6 1059.1 499.8 1069.4 496.1 1081.3 493.3 1100.3 490.6 1149.4 500.7 1167.6 506.3 1182.2 511.8 1192 512.7 1209.7 515.5 1219.9 518.3 1225.8 521 1240.6 523.8 1247.8 525.7 1264.2 520.1 1268.1 517.4 1274.1 514.6 1284.9 511.8 1297 508.1 1300.5 505.3 1303.8 501.6 1306.7 497 1304.8 491.5 1301.5 479.5 1301.4 468.4 1303.2 461 1307.4 459.1 1305.8 457.3Z"/><path fill="#197d82" d="M1306.6 449.9 1490.8 449.9 1490.9 457.3 1490.5 459.1 1491.5 462.8 1491.7 497.9 1490.9 503.5 1491.6 504.4 1493.7 506.7 1517.1 508.1 1523.8 509 1527.4 510 1532.3 511.8 1535.5 513.7 1542.9 520.6 1561.1 518.3 1572 516.4 1592.1 511.4 1596 509 1600 507.2 1605.5 505.3 1613.2 503.5 1625.2 501.6 1641.3 500.1 1656.9 502.6 1669.9 505.3 1679.8 508.1 1690.5 512.2 1739.7 512.5 1757.1 516.4 1771.1 517.4 1777.2 518.3 1780.6 519.2 1784.3 521 1786.7 523.8 1788.8 527.9 1791.9 525.7 1796.9 522.9 1806.6 519.2 1818.1 516.4 1838.6 513.6 1838.6 618.4 1812.1 615.3 1788.8 612 1763.1 609.8 1739.7 607 1712.5 609.8 1690.5 611.5 1676.1 607 1666.4 602.4 1653 593.1 1649.9 590.3 1647.1 586.7 1641.3 582.9 1633.1 586.7 1629.4 591.3 1625.8 595 1621.3 598.7 1615.9 602.4 1604.7 607.9 1592.1 612.5 1568 609.8 1542.2 607.9 1493.7 603.4 1482.2 598.7 1468.5 591.3 1460.6 588.5 1455.5 585.7 1451.9 583 1449.3 580.2 1446.7 576.5 1444.5 572.1 1417.2 560.8 1395.4 554.6 1375.6 560.8 1360.9 567.2 1346.2 573.2 1342.7 577.4 1338.6 581.1 1324.6 595.9 1315 607 1306.8 614.4 1297 621.8 1247.8 618.4 1198.6 622 1177.8 609.8 1169.4 603.3 1162.4 596.8 1154.7 592.2 1149.4 587.8 1130.2 589.4 1100.3 591 1051.1 598 1034.3 595 1015.1 590.3 1001.9 586.7 963.1 583.3 963.1 501.6 982.5 496.1 986.2 489.6 991 483.2 996.3 477.6 1001.9 473.1 1013.3 485 1024.9 496.1 1031.9 499.8 1038.8 504.4 1051.1 509.8 1055.1 507.2 1062.6 504.4 1070.5 502.6 1077.8 501.6 1087.3 498.9 1100.3 496.1 1127.1 501.6 1141 503.5 1144.7 504.4 1165.8 511.8 1179.4 512.7 1193.6 514.6 1210.6 518.3 1218.5 521 1235.4 523.8 1247.8 526.6 1256.3 523.8 1269.7 520.1 1274.7 517.4 1279.6 515.5 1286.4 513.7 1297 511.8 1302.5 508.1 1306 504.4 1308.3 500.7 1310 497 1307.3 491.5 1302.9 479.5 1302.7 468.4 1304.6 461.9 1305 461 1310.4 459.1 1308.4 457.3Z"/><path fill="#0f8c69" d="M1308.7 449.9 1490.2 449.9 1490.2 457.3 1489.7 459.1 1491 462.8 1491.2 497.9 1490.2 503.5 1490.8 504.4 1493.7 507.5 1513.8 509 1522.6 510.9 1527.9 512.7 1531.5 514.6 1536.8 518.3 1542.9 524.7 1556.4 522.9 1579 521 1592.1 518.7 1594.2 515.5 1596.6 513.7 1610.5 508.1 1621.5 505.3 1641.3 502.5 1657.1 505.3 1668.5 508.1 1686.2 513.7 1690.5 516.4 1739.7 516.4 1760.5 517.4 1769.6 518.3 1774.7 519.2 1777.9 520.1 1781.6 522 1785.8 527.5 1788.8 534 1792.7 530.3 1800.6 525.7 1806.9 522.9 1819.4 519.2 1838.6 515.8 1838.6 612.7 1811.4 608.8 1788.8 604.8 1739.7 600.2 1690.5 603.7 1682.6 600.5 1673.9 595.9 1668.7 594 1663 591.3 1656.7 586.7 1648.8 582 1641.3 576.6 1631.8 582 1619.4 586.7 1614.2 591.3 1607.6 595.9 1601.1 599.6 1592.1 603.6 1542.9 602.2 1493.7 597.4 1480.5 591.3 1473 589.4 1467.5 587.6 1463.2 585.7 1458.5 583 1454.1 579.3 1450.3 574.6 1448.5 571.9 1444.5 562.9 1433.8 558.9 1422.3 555.2 1408.7 551.5 1395.4 548.5 1388.2 551.5 1382.4 553.4 1365.9 557.1 1346.2 564.8 1342.8 570 1338.8 574.6 1334.5 578.3 1330.3 581.1 1306.6 606.1 1297 614.1 1247.8 609.9 1198.6 612.9 1185.5 605.1 1174.7 596.8 1166.2 593.1 1159.7 589.4 1149.4 581 1094.8 586.7 1051.1 592.3 1022.8 585.7 1001.9 579.4 963.1 575.1 963.1 503.7 979.3 501.6 993.8 497 996.3 496.1 1001.9 489.5 1008.5 496.1 1015.3 498.9 1026.1 504.4 1051.1 515.4 1053.7 512.7 1057.5 510 1061.3 508.1 1066.5 506.3 1080.1 503.5 1100.3 501.6 1115 502.6 1130.6 504.4 1141.4 507.2 1145.5 509 1149.4 511.8 1166.8 512.7 1185 514.6 1194.4 516.4 1211.2 521 1230.1 523.8 1247.8 527.5 1259.9 523.8 1275.2 520.1 1281.4 517.4 1287.4 515.5 1303.9 511.8 1305.5 510.9 1308.1 508.1 1311 503.5 1313.3 497 1309.9 491.5 1307.9 486.9 1305.7 483.2 1304.3 479.5 1304.1 468.4 1306.3 461.9 1306.8 461 1313.4 459.1 1310.9 457.3Z"/><path fill="#009b46" d="M1310.7 449.9 1489.5 449.9 1489.6 457.3 1489 459.1 1490.5 462.8 1490.7 497.9 1489.5 503.5 1490.7 505.3 1493.7 508.2 1503.8 509 1515 510.9 1521.8 512.7 1526.4 514.6 1534 519.2 1539.6 524.7 1542.9 528.9 1552.1 526.6 1564.3 524.7 1592.1 522.6 1594.3 521 1597.8 516.4 1603.2 513.7 1611.4 511.8 1623.3 508.1 1641.3 504.8 1653.3 507.2 1670.3 511.8 1679.6 513.7 1686 516.4 1690.5 517.1 1739.7 516.9 1762 518.3 1768.7 519.2 1773.1 520.1 1777.9 522 1780.8 524.7 1783 527.5 1786.3 534 1788.8 534.3 1793 534 1797 531.2 1801.8 529.4 1809.3 525.7 1817 522.9 1827.7 520.1 1838.6 518.1 1838.6 607 1822 605.1 1810.1 603.3 1797.6 600.5 1788.8 597.7 1757.7 595.9 1739.7 593.4 1716.2 595 1690.5 595.9 1680.2 593.1 1671.2 589.4 1653.1 579.3 1646.5 574.6 1641.3 570.4 1635.5 574.6 1629.1 578.3 1618.2 583 1605.8 586.7 1599 591.3 1592.1 595.1 1578 595.9 1542.9 596.6 1518 595 1502.1 593.1 1483.2 589.4 1476.3 587.6 1468.8 584.8 1462.1 581.1 1456.5 576.5 1452.7 571.9 1449.3 564.5 1446.8 559.9 1444.5 554.5 1428.8 549.7 1413.8 546 1395.4 543.5 1382.7 548.8 1374 551.5 1361.3 554.3 1346.2 556.8 1341.8 564.5 1336.6 570.9 1330 576.5 1322 581.1 1297 606.4 1247.8 601.4 1198.6 604.7 1186.9 596.8 1174.1 592.2 1166.7 588.5 1149.4 576.3 1116.6 579.3 1051.1 586.7 1032.4 582 1014 576.5 1006.9 571.9 1001.9 567.1 963.1 567.2 963.1 505.7 986.3 503.5 995.4 501.6 1001.9 499.4 1051.1 521 1057.8 513.7 1062.3 510.9 1066.4 509 1072.2 507.2 1080.6 505.3 1100.3 502.9 1116.4 504.4 1127.9 506.3 1137.6 509 1143.2 511.8 1167.3 513.7 1182.9 515.5 1191.8 517.4 1203.9 521 1224.9 523.8 1247.8 528.4 1263.4 523.8 1280.6 520.1 1291.4 516.4 1310.7 511.8 1312.2 510.9 1314.1 507.2 1315.6 502.6 1316.6 497 1312.4 491.5 1310 486.9 1307.4 483.2 1305.7 479.5 1305.4 468.4 1308 461.9 1308.6 461 1316.3 459.1 1313.4 457.3Z"/><path fill="#1ea541" d="M1312.8 449.9 1488.9 449.9 1489 457.3 1488.3 459.1 1490 462.8 1490.2 497.9 1488.8 503.5 1489.8 505.3 1491.4 507.2 1493.7 509 1501.5 510 1512 511.8 1521.3 514.6 1527.3 517.4 1531.2 520.1 1537.2 525.7 1540.4 529.4 1542.9 533.1 1550.5 530.3 1562.7 527.5 1576.1 525.7 1592.1 524.2 1596.4 522 1602.1 516.4 1606.5 514.6 1614.4 512.7 1621.4 511.8 1631.6 509 1641.3 507.1 1660.6 511.8 1673 513.7 1681.5 516.4 1690.5 517.8 1739.7 517.4 1754.3 518.3 1768.2 520.1 1774.2 522 1776.6 523.8 1781.6 529.4 1783.9 534 1788.8 534.6 1797.1 534 1802.5 531.2 1809.2 529.4 1820.8 524.7 1830.8 522 1838.6 520.3 1838.6 603.4 1825.2 601.4 1807.9 597.7 1796.3 595.9 1788.8 594.8 1770.6 593.1 1757.6 591.3 1748.7 589.4 1739.7 586.7 1722.3 589.4 1690.5 592.2 1679.9 588.5 1663 580.2 1651.6 572.8 1641.3 564.3 1635.6 569.1 1630.2 572.8 1623.5 576.5 1617.3 579.3 1606.7 583 1592.1 586.7 1584.7 589.4 1575.9 591.3 1558.5 593.1 1542.9 594 1493.7 589.5 1481.7 586.7 1473.8 583.9 1466.5 580.2 1460.3 575.6 1456.8 571.9 1453.4 564.5 1449.2 558 1446.7 552.5 1444.5 546 1419 543.2 1395.4 539.4 1386.5 543.2 1370.7 548.8 1359.7 551.5 1346.2 554 1342.2 556.2 1341.3 557.1 1337.3 564.5 1332.1 570 1327.6 573.7 1323.3 576.5 1313.6 581.1 1297 598 1247.8 598.2 1224.4 597.7 1198.6 596.6 1183.8 592.2 1173.1 587.6 1158.3 578.3 1149.4 571.6 1129.8 572.8 1100.3 575.2 1051.1 581.1 1034.2 576.5 1027.3 573.7 1020.2 570 1014.8 566.3 1009.7 561.7 1004.6 556.2 1001.9 551.5 993.4 554.3 985.5 556.2 974.4 558 963.1 559.4 963.1 507.7 992.5 506.3 1001.9 505 1038.5 521 1045.8 523.8 1051.1 526.6 1052.8 523.8 1061.5 514.6 1066.4 511.8 1073.6 509 1080.7 507.2 1091.2 505.3 1100.3 504.2 1110.7 505.3 1122.2 507.2 1129.7 509 1136.9 511.8 1167.7 514.6 1181.3 516.4 1189.7 518.3 1198.6 521.3 1225.6 524.7 1247.8 529.4 1267 523.8 1286.1 520.1 1294.8 517.4 1308 514.6 1314.8 512.7 1317.6 511.8 1319 510.9 1319.9 497 1314.9 491.5 1312.2 486.9 1309.1 483.2 1307.1 479.5 1306.7 468.4 1308.2 464.7 1310.4 461 1319.3 459.1 1315.9 457.3Z"/><path fill="#37af3c" d="M1314.9 449.9 1488.3 449.9 1488.3 457.3 1487.5 459.1 1489.5 462.8 1489.6 497.9 1488.1 503.5 1489 505.3 1491.3 508.1 1493.7 510.1 1505.2 511.8 1513.2 513.7 1518.8 515.5 1525.1 518.3 1535 526.6 1540.6 533.1 1542.9 533.5 1552.1 533.1 1561.9 530.3 1571.4 528.4 1592.1 525.9 1599.5 522 1605 517.4 1608.9 515.5 1616.3 513.7 1631.3 511.8 1641.3 509.5 1651 511.8 1666.4 513.7 1677.1 516.4 1690.5 518.4 1739.7 517.8 1756.8 519.2 1763.3 520.1 1770.5 522 1773.2 523.8 1779 529.4 1781.4 534 1788.8 534.9 1801.2 534 1808.1 531.2 1816.5 529.4 1826.7 525.7 1838.6 522.6 1838.6 599.9 1810.4 595 1770.9 589.4 1757.5 586.7 1739.7 583.9 1716.5 585.7 1690.5 588.5 1679.1 583.9 1669.7 579.3 1657.6 571.9 1648.2 564.5 1641.3 561.7 1634.3 564.5 1629.7 568.2 1622.2 572.8 1609.9 578.3 1601.8 581.1 1592.1 583.7 1575.6 586.7 1567.7 588.5 1555.3 590.3 1542.9 591.5 1493.7 587.5 1483.5 584.8 1476.1 582 1469 578.3 1462.8 573.7 1460.9 571.9 1457.4 564.5 1452 557.1 1449.2 551.5 1447 546 1444.5 543.2 1416.7 539.5 1395.4 535.3 1386.5 539.5 1376.9 543.2 1362.1 547.8 1346.2 551.4 1340.7 554.3 1337.6 556.2 1336.7 557.1 1332.7 564.5 1326.8 570 1321.5 573.7 1316.5 576.5 1305.3 581.1 1297 589.5 1289.5 591.3 1276.1 593.1 1247.8 595 1198.6 593.7 1187.9 590.3 1177.3 585.7 1164.5 578.3 1153.9 570.9 1149.4 568.7 1100.3 569.3 1051.1 575.6 1037.8 570.9 1026.9 565.4 1018.1 558.9 1013.7 556.2 1008.9 551.5 1001.9 546 994.7 547.8 983.3 549.7 963.1 551.5 963.1 509.8 1001.9 510.5 1025.9 521 1035.1 523.8 1042.2 526.6 1051.1 527.7 1053.8 526.6 1056.4 523.8 1059.4 522 1066.3 514.6 1070 512.7 1077.5 510 1084.7 508.1 1100.3 505.5 1117.6 508.1 1125.2 510 1130.7 511.8 1174.8 516.4 1184.4 518.3 1193 521 1197.2 522 1220.8 524.7 1231.4 526.6 1247.8 530.3 1270.6 523.8 1291.5 520.1 1297 518.5 1308.6 516.4 1316.2 514.6 1324.5 511.8 1325.8 510.9 1324.3 505.3 1323.2 497 1317.5 491.5 1314.3 486.9 1310.8 483.2 1308.5 479.5 1308 468.4 1311.5 461.9 1312.1 461 1322.3 459.1 1318.4 457.3Z"/><path fill="#50b932" d="M1317 449.9 1487.6 449.9 1487.7 457.3 1486.8 459.1 1489 462.8 1489.1 497.9 1487.4 503.5 1488.7 506.3 1490.1 508.1 1493.7 511.1 1507.6 513.7 1514 515.5 1521.2 518.3 1531.9 526.6 1538.2 533.1 1542.9 533.9 1561.4 533.1 1573.3 530.3 1592.1 527.6 1602.6 522 1607.6 518.3 1610.8 516.4 1617.7 514.6 1622.9 513.7 1641.3 511.8 1659.8 513.7 1672.6 516.4 1690.5 519.1 1739.7 518.3 1758.5 520.1 1766.8 522 1769.9 523.8 1773.5 526.6 1776.4 529.4 1778.9 534 1788.8 535.1 1805.3 534 1810.2 532.1 1818 530.3 1823.9 529.4 1838.6 524.8 1838.6 596.3 1739.7 581.1 1711.4 583 1690.5 584.8 1679.9 580.2 1671 575.6 1662.1 570 1654.7 564.5 1641.3 559.3 1629.5 563.6 1627.7 564.5 1624.2 567.2 1617.9 570.9 1605.6 576.5 1592.1 580.8 1575.8 583.9 1542.9 589.1 1493.7 585.6 1484.9 583 1478 580.2 1471.1 576.5 1465 571.9 1461.4 564.5 1457.2 559.9 1454 555.2 1449.5 546 1444.5 540.5 1415.2 535.8 1402.1 533.1 1395.4 531.2 1388.9 534.9 1382.6 537.7 1364.3 544.1 1346.2 548.8 1335.8 554.3 1332.2 557.1 1328.8 563.6 1325.1 567.2 1317.1 572.8 1307.6 577.4 1297 581.1 1288.6 584.8 1282.5 586.7 1268.5 589.4 1247.8 591.7 1198.6 590.9 1189.1 587.6 1180.9 583.9 1169.1 577.4 1159.4 570.9 1149.4 566 1113 564.5 1100.3 563.4 1051.1 570 1040.1 565.4 1034.9 562.6 1029.1 558.9 1021.1 555.2 1009 546.9 1001.9 540.5 994.9 543.2 984.1 546 973 547.8 963.1 549 963.1 511.8 983.4 512.7 992.3 513.7 997.3 514.6 1001.9 516.1 1013.3 521 1024.5 523.8 1033.3 526.6 1051.1 528.9 1056.4 526.6 1059.9 523.8 1063.9 522 1071.2 514.6 1073.2 513.7 1084.1 510 1100.3 506.8 1113.8 509 1124.4 511.8 1140 513.7 1160.6 515.5 1174.3 517.4 1183.1 519.2 1188.7 521 1192.8 522 1216 524.7 1227.3 526.6 1247.8 531.2 1274.2 523.8 1289.6 521 1309.4 518.3 1321.5 515.5 1329.3 512.7 1332.6 510.9 1330.5 508.1 1329.1 505.3 1326.5 497 1320 491.5 1316.4 486.9 1312.5 483.2 1309.9 479.5 1309.3 468.4 1313.2 461.9 1313.9 461 1325.3 459.1 1321 457.3Z"/><path fill="#6ec828" d="M1319.1 449.9 1487 449.9 1487.1 457.3 1486.1 459.1 1488.5 462.8 1488.6 497.9 1486.7 503.5 1488.3 507.2 1490.6 510 1493.7 512.1 1506 514.6 1517.2 518.3 1528.7 526.6 1535.9 533.1 1542.9 534.3 1570.6 533.1 1579.3 531.2 1592.1 529.2 1598.2 525.7 1605.7 522 1611.4 518.3 1615.2 516.4 1623.3 514.6 1641.3 512.5 1659.5 514.6 1673.5 517.4 1690.5 519.8 1739.7 518.8 1759.6 521 1763.1 522 1770.6 526.6 1773.7 529.4 1776.5 534 1788.8 535.3 1809.4 534 1819.2 531.2 1831.2 529.4 1838.6 527.1 1838.6 592.8 1816.5 589.4 1788.8 585.9 1739.7 578.3 1690.5 581.1 1675.4 573.7 1659.4 563.6 1641.3 556.9 1632.2 559.9 1622.8 563.6 1618.9 566.3 1612.2 570 1599.2 575.6 1592.1 577.9 1571 582 1542.9 586.6 1493.7 583.6 1486 581.1 1479.5 578.3 1474.4 575.6 1469.1 571.9 1465.5 564.5 1461.5 560.8 1458.4 557.1 1454.7 551.5 1451.9 546 1448 542.3 1444.5 537.7 1422 534 1408.8 531.2 1395.4 529.4 1387.8 531.2 1385.8 533.1 1374.5 537.7 1360.7 542.3 1346.2 546.3 1339 550.6 1330.9 554.3 1328.4 556.2 1323.6 564.5 1318.9 568.2 1311.2 572.8 1303.1 576.5 1297 578.7 1282 581.1 1273.3 583.9 1265.3 585.7 1247.8 588.5 1198.6 588.1 1190 584.8 1180.3 580.2 1173.6 576.5 1160.2 568.2 1149.4 563.2 1119.6 560.8 1107.1 558.9 1100.3 557.5 1051.1 564.5 1040.1 558.9 1029.7 555.2 1018.1 548.8 1014 546 1009.8 542.3 1005.6 537.7 1001.9 534.9 995 538.6 987.6 541.4 976.8 544.1 963.1 546.5 963.1 513.2 980 514.6 986.3 515.5 990.7 516.4 996.4 518.3 1001.9 521.4 1013.9 523.8 1024.4 526.6 1041.5 529.4 1051.1 530 1059.1 526.6 1063.5 523.8 1068.5 522 1076 514.6 1087 510.9 1100.3 508.1 1110.6 510 1118.1 511.8 1124.7 512.7 1168.4 517.4 1178.3 519.2 1188.5 522 1211.3 524.7 1223.2 526.6 1243.7 531.2 1247.8 531.5 1250.9 531.2 1274.1 524.7 1282.5 522.9 1297 520.7 1310.7 520.1 1324.4 517.4 1332.7 514.6 1336.6 512.7 1339.4 510.9 1336.1 508.1 1333.9 505.3 1331.7 501.6 1329.8 497 1322.6 491.5 1318.5 486.9 1314.1 483.2 1311.3 479.5 1310.6 468.4 1314.9 461.9 1315.7 461 1328.3 459.1 1323.5 457.3Z"/><path fill="#87d223" d="M1321.2 449.9 1486.4 449.9 1486.4 457.3 1485.4 459.1 1488 462.8 1488.1 497.9 1486 503.5 1486.5 505.3 1487.8 508.1 1489.9 510.9 1493.7 513.1 1504.6 515.5 1513.3 518.3 1525.6 526.6 1533.5 533.1 1542.9 534.7 1566.6 534 1579.8 533.1 1592.1 530.9 1601.1 525.7 1608.8 522 1615.2 518.3 1619.5 516.4 1628.9 514.6 1641.3 513.1 1653.8 514.6 1674.6 518.3 1690.5 520.5 1739.7 519.3 1755.4 521 1759.4 522 1767.6 526.6 1771.1 529.4 1774 534 1788.8 535.6 1813.4 534 1824.7 531.2 1838.6 529.4 1838.6 589.2 1813 585.7 1788.8 583 1739.7 575.5 1690.5 577.4 1679.5 571.9 1665.9 563.6 1652.1 558 1641.3 554.5 1632.6 557.1 1622.4 560.8 1616.1 563.6 1612.2 566.3 1606.8 569.1 1592.1 575 1566.4 580.2 1542.9 584.2 1493.7 581.7 1482.7 577.4 1473.2 571.9 1469.5 564.5 1465.1 560.8 1461.6 557.1 1457.5 551.5 1454.4 546 1449.2 541.4 1444.5 534.9 1422.2 531.2 1395.4 527.5 1389.6 528.4 1382.6 530.3 1380.3 531.2 1379.2 533.1 1374.7 534.9 1346.2 543.7 1341.6 546.9 1336.7 549.7 1326.1 554.3 1323 557.1 1319.1 564.5 1313.8 568.2 1309 570.9 1298.8 575.6 1297 576.3 1267.1 581.1 1259.8 583 1247.8 585.3 1198.6 585.4 1184.8 579.3 1176.3 574.6 1162.8 566.3 1149.4 560.4 1134.7 558.9 1121.8 557.1 1108.9 554.3 1100.3 551.5 1090.4 554.3 1080 556.2 1063.6 558 1051.1 558.9 1043.9 557.1 1035.9 554.3 1021.3 546.9 1015.7 542.3 1012.2 536.8 1013.2 534.9 1011.6 534 1008.1 533.1 1001.9 532.4 993.4 534.9 987.2 537.7 978.8 540.5 963.1 543.9 963.1 514.6 972.2 515.5 983.5 517.4 990.1 519.2 996.5 522 1001.9 523.6 1020.9 527.5 1023.9 529.4 1028.7 530.3 1051.1 531.1 1056.3 529.4 1059.2 527.5 1061.8 526.6 1067.1 523.8 1073 522 1080.9 514.6 1089.5 511.8 1100.3 509.4 1111.9 511.8 1125 513.7 1162.6 517.4 1173.5 519.2 1184.2 522 1219.1 526.6 1239.6 531.2 1247.8 531.7 1254 531.2 1277.5 524.7 1292.1 522 1297 521.3 1324.3 520.1 1328.5 519.2 1334.7 517.4 1339.1 515.5 1342.5 513.7 1346.2 510.9 1341.8 508.1 1338.6 505.3 1335.7 501.6 1333.1 497 1325.1 491.5 1320.7 486.9 1315.8 483.2 1312.7 479.5 1312 468.4 1316.6 461.9 1317.5 461 1331.3 459.1 1326 457.3Z"/><path fill="#a0d71e" d="M1323.3 449.9 1485.7 449.9 1485.8 457.3 1484.6 459.1 1487.4 462.8 1487.6 497.9 1485.3 503.5 1486.3 507.2 1488.2 510.9 1490.6 512.7 1493.7 514.2 1499.9 515.5 1509.4 518.3 1522.5 526.6 1531.2 533.1 1542.9 535.1 1580.1 534 1592.1 532.5 1596.9 530.3 1602.1 526.6 1621.3 517.4 1623.9 516.4 1628.5 515.5 1641.3 513.8 1654.3 515.5 1675.7 519.2 1690.5 521.1 1739.7 519.7 1751.3 521 1755.7 522 1764.7 526.6 1768.5 529.4 1771.6 534 1777.8 534.9 1788.8 535.8 1807.7 534.9 1817.5 534 1825 532.1 1838.6 530.1 1838.6 585.7 1816.9 583 1788.8 580 1739.7 572.7 1690.5 573.7 1681.7 569.1 1674.2 564.5 1668.4 561.7 1654.7 556.2 1641.3 552.1 1635 554.3 1624.5 557.1 1619.6 558.9 1609.5 563.6 1603.6 567.2 1592.1 572.1 1562.2 578.3 1542.9 581.7 1493.7 579.7 1485.7 576.5 1477.3 571.9 1473.5 564.5 1468.7 560.8 1464 556.2 1460.3 551.5 1456.8 546 1453.2 543.2 1450.3 540.5 1448.7 538.6 1447 534.9 1444.5 532.7 1423.5 529.4 1395.4 525.7 1386.6 526.6 1378.1 528.4 1372.7 531.2 1372.6 533.1 1364.7 535.8 1346.2 541.2 1340.9 545.1 1334.5 548.8 1321.2 554.3 1318.5 557.1 1315.3 563.6 1314.5 564.5 1307.1 569.1 1297 573.8 1272 577.4 1247.8 582 1198.6 582.6 1189.2 578.3 1182.1 574.6 1165.8 564.5 1155.9 560.8 1149.4 557.6 1132.3 555.2 1115.6 551.5 1100.3 549 1083.8 551.5 1069.3 554.3 1051.1 556.5 1039.2 552.5 1027.4 546.9 1021.6 542.3 1020 536.8 1027.1 534 1033 533.1 1051.1 532.2 1055.6 531.2 1059.7 529.4 1061.8 527.5 1068.2 524.7 1077.5 522 1085.7 514.6 1100.3 510.7 1117.5 513.7 1133.9 515.5 1149.4 516.5 1163.3 518.3 1168.7 519.2 1179.8 522 1215 526.6 1235.5 531.2 1247.8 532 1257 531.2 1280.9 524.7 1297 521.9 1327.8 521 1338 520.1 1340.8 519.2 1348.2 515.5 1350 513.7 1351.5 510.9 1343.4 505.3 1339.7 501.6 1336.4 497 1327.6 491.5 1322.8 486.9 1317.5 483.2 1314.1 479.5 1313.3 468.4 1315.8 464.7 1318.3 461.9 1319.3 461 1334.2 459.1 1328.5 457.3Z M963.1 516.4 963.1 516 966.7 516.4 978 518.3 985 520.1 998.8 524.7 1011.4 527.5 1009.6 528.4 1006.3 529.4 1001.9 530 984.8 534.9 974.4 538.6 963.1 541.4Z"/><path fill="#b9e114" d="M1325.3 449.9 1485.1 449.9 1485.2 457.3 1483.9 459.1 1486.9 462.8 1487.1 497.9 1484.6 503.5 1485 506.3 1486.4 510.9 1488.3 512.7 1491.8 514.6 1505.5 518.3 1519.4 526.6 1528.9 533.1 1542.9 535.5 1577.5 534.9 1592.1 534.1 1598.9 531.2 1601.8 529.4 1604.9 526.6 1622.9 518.3 1628.2 516.4 1641.3 514.4 1670.6 519.2 1690.5 521.8 1739.7 520.2 1747.2 521 1752 522 1761.7 526.6 1765.9 529.4 1769.1 534 1775 534.9 1785.5 535.8 1788.8 536.1 1812.6 534.9 1821.6 534 1830 532.1 1838.6 530.8 1838.6 582.1 1788.8 577 1739.7 569.9 1690.5 570 1679 563.6 1662.7 556.2 1654.9 553.4 1646.9 551.5 1641.3 549.7 1631.2 553.4 1616.4 557.1 1608 560.8 1602.8 563.6 1598.8 566.3 1592.1 569.2 1558.2 576.5 1542.9 579.3 1493.7 577.7 1486.5 574.6 1481.4 571.9 1477.6 564.5 1472.3 560.8 1467.1 556.2 1463.1 551.5 1459.3 546 1454.2 542.3 1450.5 538.6 1449.5 534.9 1448.1 533.1 1444.5 530.5 1418.1 526.6 1395.4 523.8 1376.7 524.7 1371.5 525.7 1369 526.6 1366.7 528.4 1365.5 530.3 1365.2 531.2 1366 533.1 1357.3 535.8 1346.2 538.6 1340.3 543.2 1334.2 546.9 1326.4 550.6 1316.4 554.3 1313.9 557.1 1310.8 563.6 1310 564.5 1303.7 568.2 1297 571.4 1271.9 574.6 1247.8 578.8 1198.6 579.8 1189.6 575.6 1182.9 571.9 1172.4 564.5 1159.3 559.9 1149.4 554.9 1100.3 546.4 1051.1 554 1039.6 549.7 1032.1 546 1027.5 542.3 1027.8 536.8 1035.7 534.9 1053 533.1 1060.5 531.2 1063.1 529.4 1064.4 527.5 1074.2 523.8 1082.1 522 1090.6 514.6 1100.3 512 1123.6 515.5 1149.4 517.2 1158 518.3 1163.9 519.2 1175.5 522 1210.9 526.6 1231.4 531.2 1247.8 532.3 1260.1 531.2 1284.3 524.7 1297 522.4 1341.5 522 1352.2 521 1356.5 520.1 1358.1 518.3 1358.8 516.4 1357.8 514.6 1356.9 510.9 1347.7 505.3 1342.8 500.7 1339.7 497 1334.5 494.3 1330.2 491.5 1324.9 486.9 1319.2 483.2 1315.5 479.5 1314.6 468.4 1317.3 464.7 1320 461.9 1321.1 461 1337.2 459.1 1331 457.3Z M963.1 518.3 963.1 517.4 977.6 520.1 991.4 524.7 1001.9 527.5 963.1 538.8Z"/><path fill="#d2eb0f" d="M1327.4 449.9 1484.5 449.9 1484.5 457.3 1483.2 459.1 1486.4 462.8 1486.6 497.9 1483.9 503.5 1484.7 510.9 1485.3 511.8 1487.1 513.7 1490.9 515.5 1501.6 518.3 1516.3 526.6 1523.1 531.2 1526.5 533.1 1542.3 535.8 1592.1 535.3 1597.6 534 1599.6 533.1 1604 530.3 1607.7 526.6 1624.3 519.2 1632.6 516.4 1641.3 515.1 1671.6 520.1 1690.5 522.5 1739.7 520.7 1743 521 1748.3 522 1758.8 526.6 1763.2 529.4 1766.7 534 1772.1 534.9 1781.9 535.8 1788.8 536.3 1817.4 534.9 1825.7 534 1838.6 531.6 1838.6 578.6 1788.8 574.1 1739.7 567.1 1690.5 566.3 1672.6 557.1 1663.8 553.4 1654.1 551.5 1641.3 547.8 1633.7 549.7 1624.7 553.4 1608.3 557.1 1599.1 561.7 1592.1 566.3 1577.5 570 1549.6 575.6 1542.9 576.8 1493.7 575.8 1485.5 571.9 1481.6 564.5 1475.8 560.8 1471.2 557.1 1465.9 551.5 1461.8 546 1456.3 542.3 1452.3 538.6 1451.9 534.9 1451.1 533.1 1449.9 531.2 1447 529.4 1444.5 528.3 1404.1 522.9 1395.4 521.4 1382.4 520.1 1374.7 518.3 1366.3 514.6 1363.8 512.7 1362.2 510.9 1351.2 505.3 1347.9 502.6 1343 497 1334.1 492.4 1327 486.9 1320.9 483.2 1316.9 479.5 1315.9 468.4 1317.3 466.5 1322.9 461 1340.2 459.1 1333.6 457.3Z M1098.8 513.7 1100.3 513.3 1120.6 516.4 1152.7 518.3 1159.1 519.2 1171.1 522 1177.1 522.9 1206.8 526.6 1227.3 531.2 1247.8 532.5 1263.2 531.2 1287.7 524.7 1297 523 1334.4 523.8 1343 524.7 1351.4 526.6 1353.7 527.5 1356.2 529.4 1359.4 533.1 1346.2 536.8 1337 543.2 1330.5 546.9 1322.2 550.6 1311.5 554.3 1309.3 557.1 1306.3 563.6 1305.4 564.5 1297 569 1271.8 571.9 1247.8 575.6 1198.6 577 1188.4 571.9 1179.1 564.5 1162.4 558.9 1156.4 556.2 1149.4 552.1 1100.3 543.8 1051.1 551.5 1043.9 548.8 1038.2 546 1033.4 542.3 1035.5 536.8 1040.2 535.8 1055.1 534 1063.2 532.1 1065.5 531.2 1066.9 527.5 1077.7 523.8 1086.6 522 1095.4 514.6Z M963.1 519.2 963.1 518.8 974 521 991.3 527.5 980.3 531.2 963.1 536.3Z"/><path fill="#ebf50a" d="M1329.5 449.9 1483.8 449.9 1483.9 457.3 1482.4 459.1 1485.9 462.8 1486.1 497.9 1483.2 503.5 1483.4 509 1482.9 510.9 1483.8 512.7 1485.4 514.6 1486.8 515.5 1489.3 516.4 1497.6 518.3 1513.2 526.6 1520.4 531.2 1524.2 533.1 1539.6 535.8 1542.9 536.3 1592.1 536.5 1595.8 535.8 1602.5 534 1604.1 533.1 1607.6 530.3 1610.5 526.6 1614.5 524.7 1630.5 518.3 1636.9 516.4 1641.3 515.8 1666.2 520.1 1690.5 523.1 1739.7 521.2 1744.6 522 1755.8 526.6 1760.6 529.4 1764.2 534 1769.3 534.9 1778.3 535.8 1788.8 536.5 1808.5 535.8 1822.3 534.9 1829.8 534 1838.6 532.3 1838.6 575 1788.8 571.1 1756.9 566.3 1739.7 564.3 1690.5 562.6 1672.7 553.4 1657.2 550.6 1641.3 546 1626.2 549.7 1618.2 553.4 1600.2 557.1 1592.1 561.7 1581.2 566.3 1574.7 568.2 1565.9 570 1542.9 574.3 1493.7 573.8 1489.6 571.9 1485.7 564.5 1479.4 560.8 1474.5 557.1 1468.7 551.5 1464.2 546 1458.4 542.3 1454.1 538.6 1454.4 534.9 1453.9 531.2 1450.6 528.4 1444.5 526 1404.9 521 1374.9 514.6 1370.4 512.7 1367.6 510.9 1353.1 504.4 1349.6 501.6 1347.2 498.9 1346.2 496.9 1336.8 492.4 1329.2 486.9 1325.5 485 1321.3 482.2 1318.2 479.5 1317.2 468.4 1319.5 465.6 1324.7 461 1343.2 459.1 1336.1 457.3Z M1099.1 515.5 1100.3 514.6 1107 516.4 1115 517.4 1149.4 518.5 1172.5 522.9 1202.7 526.6 1223.2 531.2 1234.9 532.1 1247.8 532.8 1266.3 531.2 1291.1 524.7 1297 523.6 1326 524.7 1334.1 525.7 1339 526.6 1344.6 528.4 1348.5 530.3 1352.8 533.1 1346.2 534.9 1336.8 541.4 1324.8 547.8 1318 550.6 1306.6 554.3 1304.8 557.1 1301.8 563.6 1300.9 564.5 1297 566.5 1279.2 568.2 1247.8 572.3 1198.6 574.3 1193.9 571.9 1185.7 564.5 1173 560.8 1165.4 558 1157.4 554.3 1149.4 549.3 1121.7 544.1 1100.3 541.2 1085.2 543.2 1051.1 549 1044.2 546 1039.3 542.3 1043.3 536.8 1058.6 534.9 1067 533.1 1070.5 531.2 1069.5 527.5 1081.3 523.8 1091.2 522Z M963.1 521 963.1 520.2 970.3 522 978.8 525.7 980.7 527.5 971.7 531.2 963.1 533.8Z"/><path fill="#fff500" d="M1331.6 449.9 1483.2 449.9 1483.3 457.3 1481.7 459.1 1485.4 462.8 1485.6 497.9 1482.5 503.5 1482.1 509 1481.2 510.9 1481.8 513.7 1482.7 515.5 1483.7 516.4 1493.7 518.3 1511.8 527.5 1517.7 531.2 1521.8 533.1 1537 535.8 1542.9 536.8 1592.1 537.7 1598 536.8 1602.1 535.8 1607.4 534 1610.4 531.2 1613.3 526.6 1628.9 520.1 1641.3 516.4 1660.9 520.1 1690.5 523.8 1739.7 521.8 1748.7 524.7 1756.4 528.4 1758 529.4 1761.8 534 1766.4 534.9 1774.8 535.8 1788.8 536.8 1815.2 535.8 1827.2 534.9 1838.6 533.1 1838.6 571.5 1788.8 568.2 1780.9 566.3 1769.8 564.5 1739.7 561.3 1716.4 559.9 1690.5 558.9 1681.6 553.4 1668.7 551.5 1659.7 549.7 1641.3 544.1 1635.2 545.1 1621.2 548.8 1616.7 550.6 1611.7 553.4 1592.1 557.1 1570.2 566.3 1564.1 568.2 1559.5 569.1 1542.9 571.9 1493.7 571.9 1489.7 564.5 1483 560.8 1477.7 557.1 1471.4 551.5 1466.7 546 1460.5 542.3 1455.9 538.6 1457.8 531.2 1456.1 528.4 1454 526.6 1449.5 524.7 1444.5 523.8 1423 522 1410.1 520.1 1401.5 518.3 1395.4 516.4 1383.4 514.6 1377 512.7 1363.9 507.2 1358.3 505.3 1354.6 503.5 1351 500.7 1346.2 495.6 1337.8 491.5 1331.3 486.9 1327.4 485 1322.9 482.2 1319.6 479.5 1318.5 468.4 1321 465.6 1326.5 461 1346.2 459.1 1338.6 457.3Z M1099.1 519.2 1100.3 518.3 1149.4 519.2 1167.9 522.9 1198.6 526.6 1219.1 531.2 1247.8 533.1 1269.3 531.2 1297 524.3 1309.1 524.7 1321.3 525.7 1333.6 527.5 1342 530.3 1346.2 533.1 1335.3 540.5 1325.1 546 1316.3 549.7 1301.8 554.3 1297 563.8 1266.4 566.3 1247.8 569.1 1218.9 570 1198.6 571.3 1192.3 564.5 1175.8 559.9 1165.8 556.2 1160 553.4 1149.4 546.4 1131.1 542.3 1100.3 538.6 1079.8 539.5 1074.8 540.5 1071.3 542.3 1051.1 546.4 1045.2 542.3 1047.7 539.5 1051.1 536.8 1066 535.8 1070.5 534.9 1074 533.1 1075.4 531.2 1073.2 529.4 1072 527.5 1084.8 523.8 1095.7 522Z M963.1 522 963.7 522 971 525.7 970.2 527.5 963.1 531.2Z"/><path fill="#ffd200" d="M1333.7 449.9 1482.6 449.9 1482.6 457.3 1481 459.1 1484.9 462.8 1485.1 497.9 1481.8 503.5 1480.8 509 1479.4 510.9 1478.9 514.6 1478.1 516.4 1487.4 519.2 1493.7 520.1 1500.6 523.8 1508.8 527.5 1515.1 531.2 1519.5 533.1 1540.2 536.8 1542.9 537.5 1577.6 538.6 1592.1 539.8 1605.5 536.8 1610.7 534.9 1612.3 534 1613.7 532.1 1616.1 526.6 1632.3 520.1 1641.3 517.4 1661.4 521 1690.5 524.9 1739.7 522.7 1747.8 525.7 1755.4 529.4 1759.3 534 1763.6 534.9 1771.2 535.8 1784 536.8 1788.8 537.5 1821.9 535.8 1832.1 534.9 1838.6 533.9 1838.6 568.2 1811.5 566.3 1797.4 564.5 1788.8 562.6 1765 561.7 1754.9 560.8 1749.8 559.9 1744.3 558 1741.5 556.2 1739.7 554.3 1690.5 553.4 1682.5 552.5 1665.9 549.7 1647.4 544.1 1641.3 543 1625.5 544.1 1621.6 546 1611 549.7 1605.2 553.4 1592.1 555.9 1582.3 557.1 1559.3 566.3 1553.5 568.2 1542.9 570 1521.1 569.1 1510.1 568.2 1500.8 566.3 1493.7 564.5 1483.6 558.9 1476.2 553.4 1469.1 546 1462.6 542.3 1457.7 538.6 1459.7 534 1461.8 531.2 1461.6 526.6 1460.9 523.8 1435.3 522 1420 520.1 1383.5 512.7 1368.4 507.2 1361.8 505.3 1357.5 503.5 1350.9 498.9 1346.2 494.3 1340.3 491.5 1333.4 486.9 1329.2 485 1324.5 482.2 1321 479.5 1319.8 468.4 1322.4 465.6 1328.3 461 1348.1 459.1 1341.1 457.3Z M1110.1 521 1149.4 520.1 1169.1 523.8 1194.5 526.6 1215 531.2 1240.8 533.1 1247.8 534.2 1251.5 533.1 1272.4 531.2 1297 525 1308.5 525.7 1325 527.5 1333.4 529.4 1342.5 533.1 1340 535.8 1338.6 536.8 1323.5 545.1 1312.3 549.7 1296.8 554.3 1295.1 556.2 1292.5 558 1288.4 559.9 1285.2 560.8 1273.6 562.6 1247.8 564.3 1198.6 564.4 1178.3 558.9 1166.3 554.3 1164.3 553.4 1154.8 546.9 1149.4 541.8 1118 538.6 1100.3 537.1 1090.4 536.8 1084.3 535.8 1082.4 534.9 1081.5 534 1080.4 531.2 1076.6 529.4 1074.6 527.5 1088.4 523.8 1100.3 522Z"/><path fill="#ffb400" d="M1342 449.9 1480 449.9 1480.1 457.3 1478.1 459.1 1480.9 461 1482.9 462.8 1483.1 497.9 1481.3 500.7 1479 503.5 1477.1 507.2 1475.6 509 1468.5 513.7 1462.3 515.5 1444.5 518.5 1430.5 516.4 1419.9 515.5 1407.3 513.7 1400.2 511.8 1395.4 509.8 1386.4 507.2 1375.9 505.3 1369.2 503.5 1356.4 497.9 1350.6 494.3 1346.2 489.4 1341.9 486.9 1332.7 483.2 1326.6 479.5 1325.1 468.4 1330.8 463.8 1335.4 461 1356 459.1 1349.5 457.3 1346.2 453.6Z M1639.9 522 1641.3 521.5 1674.6 526.6 1684.1 528.4 1690.5 529.1 1739.7 527.1 1744.9 529.4 1749.5 534 1752.2 534.9 1764.7 536.8 1778 539.5 1788.8 540.7 1809.2 539.5 1838.6 537 1838.6 558.9 1788.8 558.9 1779.9 558 1764.7 555.2 1749.5 550.6 1739.7 546.6 1690.5 549.7 1672 544.1 1658.9 541.4 1641.3 538.6 1635.5 536.8 1632.8 534.9 1630.2 532.1 1627.3 526.6Z M1097 524.7 1100.3 524.2 1149.4 523.8 1160.2 524.7 1178.1 526.6 1188.6 528.4 1194.7 530.3 1203.8 532.1 1212.7 533.1 1221.1 534.9 1232.2 536.8 1247.8 538.6 1251.2 537.7 1258 534.9 1261.8 534 1266.2 533.1 1284.7 531.2 1297 528.1 1307.5 529.4 1323.6 532.1 1327.8 533.1 1330.4 534.9 1330.2 535.8 1320.8 540.5 1307.3 546 1297 549.4 1270.2 553.4 1257.7 556.2 1247.8 557.8 1198.6 558.7 1189.5 556.2 1181.5 553.4 1173 546 1169.5 542.3 1169.6 541.4 1168.7 540.5 1163.9 537.7 1156.7 535.8 1149.4 534.9 1122.2 534 1110.6 533.1 1094.2 530.3 1090.1 529.4 1084.9 527.5Z M1491.8 526.6 1493.7 526.3 1504.4 531.2 1510.1 533.1 1529.3 536.8 1542.9 540.7 1563.5 542.3 1582.3 546 1582.3 549.7 1578.3 551.5 1572.4 553.4 1542.9 557.1 1493.7 557.1 1485.4 551.5 1479 546 1470.9 542.3 1464.9 538.6 1467.8 535.8 1472.4 533.1 1477.8 531.2 1484 528.4Z"/><path fill="#ff9100" d="M1350.6 449.9 1477.5 449.9 1477.5 457.3 1475.2 459.1 1478.5 461 1480.9 462.8 1481 497.9 1474 506.3 1470.4 509 1461.1 512.7 1457.8 513.7 1444.5 515.6 1423.9 513.7 1413.2 511.8 1405.4 510 1395.4 506.1 1380.8 503.5 1362.9 497.9 1355.1 494.3 1351.2 490.6 1348 486.9 1346.2 485.6 1339.4 483.2 1332.2 479.5 1330.4 468.4 1335.6 464.7 1342.6 461 1363.9 459.1 1356 457.3 1353.7 453.6Z M1133 525.7 1149.4 525.4 1169.1 527.5 1180.2 529.4 1177.5 531.2 1174 532.1 1161.7 533.1 1149.4 533.3 1130.1 532.1 1104.7 529.4 1095.1 527.5 1100.3 526.4Z M1641 525.7 1648 526.6 1646.2 527.5 1641.3 529 1638.5 526.6Z M1289.7 532.1 1297 531.2 1306.4 532.1 1317 534 1319.9 534.9 1320.4 535.8 1311.6 539.5 1297 544.7 1280.8 547.8 1258.3 550.6 1247.8 551.5 1209.5 552.5 1198.6 553.4 1188.9 542.3 1193.4 539.5 1198.6 537.7 1203.1 538.6 1211.6 539.5 1233.6 540.5 1247.8 540.7 1262.5 539.5 1266.9 538.6 1267.7 535.8 1270.3 534.9 1281 533.1Z M1488.6 532.1 1493.7 531.2 1504.7 534 1521.9 537.7 1525.4 538.6 1527.5 540.5 1532 542.3 1534 544.1 1536.4 545.1 1547.3 546.9 1556 549.7 1542.9 552.2 1493.7 549.7 1488.8 546 1479.2 542.3 1472.1 538.6 1475 536.8 1479 534.9Z M1690.5 534.9 1739.7 534 1742.5 535.8 1751 538.6 1745.7 540.5 1739.7 541.3 1690.5 542.3 1674.1 538.6 1678.8 536.8Z M1785.4 544.1 1795.8 544.1 1818.6 545.1 1827.5 546 1835.2 547.8 1838.6 549.7 1829.6 551.5 1815.3 553.4 1788.8 555.2 1771.4 551.5 1764.7 549.7 1763.3 548.8 1766.8 546.9 1769.5 546 1774 545.1Z"/><path fill="#ff6e00" d="M1359.6 449.9 1475 449.9 1475 457.3 1472.2 459.1 1476.2 461 1478.9 462.8 1479 497.9 1475.7 501.6 1470.3 506.3 1467.3 508.1 1462.4 510 1455.7 511.8 1444.5 514.1 1426.2 511.8 1410.9 509 1395.4 504 1388 502.6 1378.1 499.8 1369.4 497.9 1361.5 495.2 1358.4 493.3 1351.6 486.9 1349.1 485 1346.2 483.2 1337.8 479.5 1335.6 468.4 1341.6 464.7 1349.7 461 1371.8 459.1 1362.6 457.3Z M1129.8 527.5 1149.4 527 1167.9 529.4 1163.7 530.3 1149.4 531.7 1122.6 529.4 1124.3 528.4Z M1295.7 533.1 1297 532.9 1304.7 534 1309.3 534.9 1310.6 535.8 1297 540.6 1288.8 539.5 1283.3 537.7 1279.9 535.8 1282.6 534.9Z M1492.4 534 1493.7 533.7 1514.8 538.6 1513.3 540.5 1510.1 542.3 1505.6 543.2 1493.7 544.5 1485.2 541.4 1479.3 538.6 1485.8 535.8Z M1234.7 543.2 1247.8 542.8 1258.6 543.2 1268.3 544.1 1272.3 545.1 1269.9 546 1263.7 546.9 1246.4 548.8 1231.7 547.8 1217.8 546 1216.7 545.1 1222.2 544.1Z M1786.2 547.8 1788.8 547.4 1802.4 548.8 1802.1 549.7 1788.8 551.2 1782.4 549.7 1781.7 548.8Z"/><path fill="#ff4b00" d="M1368.5 449.9 1472.4 449.9 1472.5 457.3 1469.3 459.1 1473.8 461 1476.8 462.8 1477 497.9 1473.2 501.6 1464.9 507.2 1460.1 509 1444.5 512.5 1425 510 1415.1 508.1 1401.6 504.4 1395.4 501.9 1386.7 499.8 1375.9 497.9 1369.1 496.1 1364 494.3 1351.7 484.1 1347.3 481.3 1343.4 479.5 1340.9 468.4 1350.5 462.8 1356.7 461 1379.6 459.1 1369.1 457.3Z M1140.5 529.4 1149.4 528.6 1155.6 529.4 1149.4 530.2Z M1294.9 534.9 1297 534.6 1298.8 534.9 1300.8 535.8 1297 537.2 1292.2 535.8Z M1491.7 536.8 1493.7 536.1 1504.3 538.6 1499.1 540.5 1493.7 541.6 1486.5 538.6Z M1245.7 545.1 1249.5 545.1 1248.8 546 1247.8 546.1 1246.5 546Z"/><path fill="#ff2300" d="M1377.5 449.9 1469.9 449.9 1469.9 457.3 1466.4 459.1 1471.4 461 1474.8 462.8 1475 497.9 1469.3 502.6 1460.8 507.2 1454.9 509 1444.5 510.9 1434.8 510 1422.4 508.1 1406.9 504.4 1401.4 502.6 1395.4 499.8 1382.4 497.9 1374.3 496.1 1368.5 494.3 1363.2 490.6 1354.6 483.2 1348.7 479.5 1346.2 468.4 1355.5 462.8 1358.9 461.9 1363.7 461 1387.5 459.1 1375.7 457.3Z"/><path fill="#ff0000" d="M1386.4 449.9 1467.4 449.9 1467.4 457.3 1463.5 459.1 1469 461 1472.8 462.8 1472.9 497.9 1468.2 501.6 1459.3 506.3 1453.7 508.1 1444.5 510 1429.8 508.1 1420.1 506.3 1408.9 503.5 1399.2 499.8 1383.8 497 1373 494.3 1366 489.6 1358.8 483.2 1353.6 479.5 1352 468.4 1360.5 462.8 1364.8 461.9 1370.8 461 1395.4 459.1 1382.2 457.3 1384 453.6Z"/><path fill="#d70000" d="M1394.3 450.8 1395.4 449.9 1464.8 449.9 1464.9 457.3 1460.6 459.1 1466.6 461 1470.8 462.8 1470.9 497.9 1465.7 501.6 1460.2 504.4 1452.7 507.2 1444.5 509 1431.4 507.2 1417.5 504.4 1410.6 502.6 1403.1 499.8 1377.4 494.3 1372.7 491.5 1366.2 486.9 1363 483.2 1358.6 479.5 1357.8 468.4 1365.5 462.8 1377.8 461 1402.9 459.1 1388.8 457.3 1391.6 453.6Z"/><path fill="#af0000" d="M1401.5 449.9 1462.3 449.9 1462.3 457.3 1457.7 459.1 1464.2 461 1468.8 462.8 1468.9 497.9 1463.2 501.6 1457.2 504.4 1451.9 506.3 1444.5 508.1 1422.8 504.4 1415.2 502.6 1406.9 499.8 1381.9 494.3 1376.8 491.5 1371.1 487.8 1369.9 486.9 1367.2 483.2 1363.6 479.5 1363.6 468.4 1370.5 462.8 1384.8 461 1410.5 459.1 1395.4 457.3Z"/><path fill="#960000" d="M1407.7 449.9 1459.8 449.9 1459.8 457.3 1454.7 459.1 1461.8 461 1466.8 462.8 1466.8 497.9 1462.5 500.7 1458.7 502.6 1454.1 504.4 1444.5 507.2 1423.6 503.5 1410.8 499.8 1386.4 494.3 1379.3 490.6 1373.5 486.9 1371.4 483.2 1368.6 479.5 1369.4 468.4 1375.4 462.8 1391.8 461 1418.1 459.1 1402.4 457.3Z"/></g><path d="M455.4 449.9V819.5 M449.6 456.2L455.4 450.5L461.2 456.2 M449.6 813.2L455.4 818.9L461.2 813.2" fill="none" stroke="#000" stroke-width="2.7" stroke-linejoin="miter"/><path d="M492.3 449.9V819.5 M486.5 456.2L492.3 450.5L498.1 456.2 M486.5 813.2L492.3 818.9L498.1 813.2" fill="none" stroke="#000" stroke-width="2.7" stroke-linejoin="miter"/><path d="M1327.5 449.9V819.5 M1321.7 456.2L1327.5 450.5L1333.3 456.2 M1321.7 813.2L1327.5 818.9L1333.3 813.2" fill="none" stroke="#000" stroke-width="2.7" stroke-linejoin="miter"/><path d="M1366.1 449.9V819.5 M1360.3 456.2L1366.1 450.5L1371.9 456.2 M1360.3 813.2L1366.1 818.9L1371.9 813.2" fill="none" stroke="#000" stroke-width="2.7" stroke-linejoin="miter"/><polyline points="104.5,612.4 143.9,604.4 190.9,627.9 238,627.9 285,594.8 332.1,607.7 379.1,621.9 426.2,596.1 473.2,571.6 520.3,566.5 567.4,581.9 614.4,592.3 661.4,593.5 708.5,602.6 755.5,583.2 802.6,611.6 849.6,633.5 896.7,627.1 946.5,624.5" fill="none" stroke="#000000" stroke-width="8.5" stroke-linejoin="miter" stroke-miterlimit="10" stroke-linecap="butt"/><polyline points="104.5,523.1 143.9,529 190.9,535 238,526.5 285,533.4 332.1,507.6 379.1,473.5 426.2,498.1 473.2,512.3 520.3,465.8 567.4,471 614.4,473 661.4,494.2 708.5,536 755.5,473.5 802.6,521.3 849.6,511 896.7,538.6 946.5,538.1" fill="none" stroke="#0000ff" stroke-width="7.6" stroke-linejoin="miter" stroke-miterlimit="10" stroke-linecap="butt"/><polyline points="104.5,498.8 143.9,495.5 190.9,517.4 238,501.9 285,521.3 332.1,451.6 379.1,459.4 426.2,497.3 473.2,492.9 520.3,460 567.4,452.4 614.4,457.5 661.4,464.5 708.5,473 755.5,451.6 802.6,450.8 849.6,478.7 896.7,490.3 946.5,485.2" fill="none" stroke="#00ff00" stroke-width="7.6" stroke-linejoin="miter" stroke-miterlimit="10" stroke-linecap="butt"/><polyline points="104.5,473.5 143.9,482.6 190.9,465.8 238,473 285,461.9 332.1,505.8 379.1,463.2 426.2,449.8 473.2,470.5 520.3,453.1 567.4,465.3 614.4,464.5 661.4,478.7 708.5,513.5 755.5,468.4 802.6,518.7 849.6,481.3 896.7,498.1 946.5,501.9" fill="none" stroke="#00ffff" stroke-width="7.6" stroke-linejoin="miter" stroke-miterlimit="10" stroke-linecap="butt"/><rect x="106.8" y="449.9" width="837.5" height="369.6" fill="none" stroke="#000" stroke-width="2.6"/><rect x="963.1" y="449.9" width="875.5" height="369.6" fill="none" stroke="#000" stroke-width="2.6"/><text x="87" y="463.9" font-family="'Liberation Sans', Arial, Helvetica, sans-serif" font-size="39" font-weight="normal" text-anchor="end" fill="#000" letter-spacing="0" stroke="#fff" stroke-width="1.1" paint-order="fill stroke">0</text><text x="90.6" y="611.7" font-family="'Liberation Sans', Arial, Helvetica, sans-serif" font-size="39" font-weight="normal" text-anchor="end" fill="#000" letter-spacing="3.6" stroke="#fff" stroke-width="1.1" paint-order="fill stroke">80</text><text x="89.4" y="759.6" font-family="'Liberation Sans', Arial, Helvetica, sans-serif" font-size="39" font-weight="normal" text-anchor="end" fill="#000" letter-spacing="2.4" stroke="#fff" stroke-width="1.1" paint-order="fill stroke">160</text><text x="203.2" y="796.1" font-family="'Liberation Serif', 'Times New Roman', serif" font-size="43" font-weight="bold" text-anchor="start" fill="#000" textLength="173.7" lengthAdjust="spacingAndGlyphs" stroke="#000" stroke-width="0.25">HUDHUD</text><text x="1096.2" y="797.2" font-family="'Liberation Serif', 'Times New Roman', serif" font-size="43" font-weight="bold" text-anchor="start" fill="#000" textLength="174" lengthAdjust="spacingAndGlyphs" stroke="#000" stroke-width="0.25">HUDHUD</text><text x="149.1" y="838.4" font-family="'Liberation Sans', Arial, Helvetica, sans-serif" font-size="21.5" font-weight="normal" text-anchor="middle" fill="#000" stroke="#000" stroke-width="0.55">5</text><text x="196.7" y="838.4" font-family="'Liberation Sans', Arial, Helvetica, sans-serif" font-size="21.5" font-weight="normal" text-anchor="middle" fill="#000" stroke="#000" stroke-width="0.55">10</text><text x="244" y="838.4" font-family="'Liberation Sans', Arial, Helvetica, sans-serif" font-size="21.5" font-weight="normal" text-anchor="middle" fill="#000" stroke="#000" stroke-width="0.55">15</text><text x="290.6" y="838.4" font-family="'Liberation Sans', Arial, Helvetica, sans-serif" font-size="21.5" font-weight="normal" text-anchor="middle" fill="#000" stroke="#000" stroke-width="0.55">20</text><text x="337.5" y="838.4" font-family="'Liberation Sans', Arial, Helvetica, sans-serif" font-size="21.5" font-weight="normal" text-anchor="middle" fill="#000" stroke="#000" stroke-width="0.55">25</text><text x="384.6" y="838.4" font-family="'Liberation Sans', Arial, Helvetica, sans-serif" font-size="21.5" font-weight="normal" text-anchor="middle" fill="#000" stroke="#000" stroke-width="0.55">30</text><text x="430.9" y="838.4" font-family="'Liberation Sans', Arial, Helvetica, sans-serif" font-size="21.5" font-weight="normal" text-anchor="middle" fill="#000" stroke="#000" stroke-width="0.55">5</text><text x="479.3" y="838.4" font-family="'Liberation Sans', Arial, Helvetica, sans-serif" font-size="21.5" font-weight="normal" text-anchor="middle" fill="#000" stroke="#000" stroke-width="0.55">10</text><text x="526.2" y="838.4" font-family="'Liberation Sans', Arial, Helvetica, sans-serif" font-size="21.5" font-weight="normal" text-anchor="middle" fill="#000" stroke="#000" stroke-width="0.55">15</text><text x="572.8" y="838.4" font-family="'Liberation Sans', Arial, Helvetica, sans-serif" font-size="21.5" font-weight="normal" text-anchor="middle" fill="#000" stroke="#000" stroke-width="0.55">20</text><text x="619.6" y="838.4" font-family="'Liberation Sans', Arial, Helvetica, sans-serif" font-size="21.5" font-weight="normal" text-anchor="middle" fill="#000" stroke="#000" stroke-width="0.55">25</text><text x="666.5" y="838.4" font-family="'Liberation Sans', Arial, Helvetica, sans-serif" font-size="21.5" font-weight="normal" text-anchor="middle" fill="#000" stroke="#000" stroke-width="0.55">30</text><text x="722.5" y="838.4" font-family="'Liberation Sans', Arial, Helvetica, sans-serif" font-size="21.5" font-weight="normal" text-anchor="middle" fill="#000" stroke="#000" stroke-width="0.55">5</text><text x="770.9" y="838.4" font-family="'Liberation Sans', Arial, Helvetica, sans-serif" font-size="21.5" font-weight="normal" text-anchor="middle" fill="#000" stroke="#000" stroke-width="0.55">10</text><text x="817.2" y="838.4" font-family="'Liberation Sans', Arial, Helvetica, sans-serif" font-size="21.5" font-weight="normal" text-anchor="middle" fill="#000" stroke="#000" stroke-width="0.55">15</text><text x="864.3" y="838.4" font-family="'Liberation Sans', Arial, Helvetica, sans-serif" font-size="21.5" font-weight="normal" text-anchor="middle" fill="#000" stroke="#000" stroke-width="0.55">20</text><text x="911.2" y="838.4" font-family="'Liberation Sans', Arial, Helvetica, sans-serif" font-size="21.5" font-weight="normal" text-anchor="middle" fill="#000" stroke="#000" stroke-width="0.55">25</text><text x="1006.8" y="838.4" font-family="'Liberation Sans', Arial, Helvetica, sans-serif" font-size="21.5" font-weight="normal" text-anchor="middle" fill="#000" stroke="#000" stroke-width="0.55">5</text><text x="1056.7" y="838.4" font-family="'Liberation Sans', Arial, Helvetica, sans-serif" font-size="21.5" font-weight="normal" text-anchor="middle" fill="#000" stroke="#000" stroke-width="0.55">10</text><text x="1105.8" y="838.4" font-family="'Liberation Sans', Arial, Helvetica, sans-serif" font-size="21.5" font-weight="normal" text-anchor="middle" fill="#000" stroke="#000" stroke-width="0.55">15</text><text x="1154.9" y="838.4" font-family="'Liberation Sans', Arial, Helvetica, sans-serif" font-size="21.5" font-weight="normal" text-anchor="middle" fill="#000" stroke="#000" stroke-width="0.55">20</text><text x="1204.2" y="838.4" font-family="'Liberation Sans', Arial, Helvetica, sans-serif" font-size="21.5" font-weight="normal" text-anchor="middle" fill="#000" stroke="#000" stroke-width="0.55">25</text><text x="1253" y="838.4" font-family="'Liberation Sans', Arial, Helvetica, sans-serif" font-size="21.5" font-weight="normal" text-anchor="middle" fill="#000" stroke="#000" stroke-width="0.55">30</text><text x="1302.1" y="838.4" font-family="'Liberation Sans', Arial, Helvetica, sans-serif" font-size="21.5" font-weight="normal" text-anchor="middle" fill="#000" stroke="#000" stroke-width="0.55">5</text><text x="1352.5" y="838.4" font-family="'Liberation Sans', Arial, Helvetica, sans-serif" font-size="21.5" font-weight="normal" text-anchor="middle" fill="#000" stroke="#000" stroke-width="0.55">10</text><text x="1401.7" y="838.4" font-family="'Liberation Sans', Arial, Helvetica, sans-serif" font-size="21.5" font-weight="normal" text-anchor="middle" fill="#000" stroke="#000" stroke-width="0.55">15</text><text x="1450.3" y="838.4" font-family="'Liberation Sans', Arial, Helvetica, sans-serif" font-size="21.5" font-weight="normal" text-anchor="middle" fill="#000" stroke="#000" stroke-width="0.55">20</text><text x="1499.4" y="838.4" font-family="'Liberation Sans', Arial, Helvetica, sans-serif" font-size="21.5" font-weight="normal" text-anchor="middle" fill="#000" stroke="#000" stroke-width="0.55">25</text><text x="1548.2" y="838.4" font-family="'Liberation Sans', Arial, Helvetica, sans-serif" font-size="21.5" font-weight="normal" text-anchor="middle" fill="#000" stroke="#000" stroke-width="0.55">30</text><text x="1607" y="838.4" font-family="'Liberation Sans', Arial, Helvetica, sans-serif" font-size="21.5" font-weight="normal" text-anchor="middle" fill="#000" stroke="#000" stroke-width="0.55">5</text><text x="1657.1" y="838.4" font-family="'Liberation Sans', Arial, Helvetica, sans-serif" font-size="21.5" font-weight="normal" text-anchor="middle" fill="#000" stroke="#000" stroke-width="0.55">10</text><text x="1706.2" y="838.4" font-family="'Liberation Sans', Arial, Helvetica, sans-serif" font-size="21.5" font-weight="normal" text-anchor="middle" fill="#000" stroke="#000" stroke-width="0.55">15</text><text x="1755" y="838.4" font-family="'Liberation Sans', Arial, Helvetica, sans-serif" font-size="21.5" font-weight="normal" text-anchor="middle" fill="#000" stroke="#000" stroke-width="0.55">20</text><text x="1804.1" y="838.4" font-family="'Liberation Sans', Arial, Helvetica, sans-serif" font-size="21.5" font-weight="normal" text-anchor="middle" fill="#000" stroke="#000" stroke-width="0.55">25</text><text x="220.1" y="873" font-family="'Liberation Sans', Arial, Helvetica, sans-serif" font-size="30.5" font-weight="normal" text-anchor="start" fill="#000" textLength="55.8" lengthAdjust="spacingAndGlyphs" stroke="#fff" stroke-width="0.6" paint-order="fill stroke">SEP</text><text x="507.7" y="873" font-family="'Liberation Sans', Arial, Helvetica, sans-serif" font-size="30.5" font-weight="normal" text-anchor="start" fill="#000" textLength="56.1" lengthAdjust="spacingAndGlyphs" stroke="#fff" stroke-width="0.6" paint-order="fill stroke">OCT</text><text x="789.5" y="873" font-family="'Liberation Sans', Arial, Helvetica, sans-serif" font-size="30.5" font-weight="normal" text-anchor="start" fill="#000" textLength="57.3" lengthAdjust="spacingAndGlyphs" stroke="#fff" stroke-width="0.6" paint-order="fill stroke">NOV</text><text x="1082.6" y="873" font-family="'Liberation Sans', Arial, Helvetica, sans-serif" font-size="30.5" font-weight="normal" text-anchor="start" fill="#000" textLength="55.8" lengthAdjust="spacingAndGlyphs" stroke="#fff" stroke-width="0.6" paint-order="fill stroke">SEP</text><text x="1383.5" y="873" font-family="'Liberation Sans', Arial, Helvetica, sans-serif" font-size="30.5" font-weight="normal" text-anchor="start" fill="#000" textLength="56.1" lengthAdjust="spacingAndGlyphs" stroke="#fff" stroke-width="0.6" paint-order="fill stroke">OCT</text><text x="1677.8" y="873" font-family="'Liberation Sans', Arial, Helvetica, sans-serif" font-size="30.5" font-weight="normal" text-anchor="start" fill="#000" textLength="57.3" lengthAdjust="spacingAndGlyphs" stroke="#fff" stroke-width="0.6" paint-order="fill stroke">NOV</text><g clip-path="url(#ct2)"><rect x="106.8" y="885" width="837.5" height="369.6" fill="#4637a5"/><path fill="#553ca0" d="M106.8 885 944.3 885 944.3 1254.6 341.3 1254.6 323.5 1247.2 294.2 1237.1 247.1 1241.5 200 1240.7 168.9 1244.4 106.8 1254.6Z"/><path fill="#6441a0" d="M106.8 885 944.3 885 944.3 1254.6 388.4 1254.6 376.6 1246.3 362.7 1240.7 354.7 1238 319.2 1227.8 294.2 1219 247.1 1221.8 200 1219.9 152.9 1225.4 106.8 1228Z"/><path fill="#69469b" d="M106.8 885 944.3 885 944.3 1234.7 908.8 1238.9 867.1 1246.3 859.4 1248 812.3 1243.2 765.2 1243.9 759.4 1247.2 751.7 1254.6 482.6 1254.6 455.2 1245.4 435.5 1241.6 413.8 1236.1 388.4 1231.4 378.8 1228.7 362.5 1225 341.3 1221 313.8 1212.1 294.2 1204 247.1 1206.3 200 1203.5 152.9 1209.6 106.8 1210.7Z"/><path fill="#734b96" d="M106.8 885 944.3 885 944.3 1221.9 906.5 1223.6 859.4 1230 812.3 1226.2 765.2 1227.8 752.8 1232.4 736.8 1239.8 725 1247.2 718.1 1254.6 576.8 1254.6 563.9 1245.4 542.7 1236.1 529.7 1231.5 482.6 1227.5 435.5 1222.1 416.5 1219.5 388.4 1216.4 367.4 1213 341.3 1209.7 316.8 1201 305.9 1196.4 294.2 1190.8 247.1 1192.7 200 1189 152.9 1195.7 106.8 1195.9Z"/><path fill="#785096" d="M106.8 885 944.3 885 944.3 1210.8 906.5 1210.8 859.4 1216.6 812.3 1212.7 765.2 1215.1 738.3 1223.2 718.1 1231 712.1 1238.9 708.4 1245.4 705 1254.6 610.4 1254.6 604.4 1247.2 602.4 1245.4 591.5 1237 576.8 1227.2 549 1218.6 529.7 1213.2 388.4 1203.4 341.3 1199.4 330.4 1195.5 316.9 1189.9 303.3 1183.5 294.2 1178.6 247.1 1180.1 200 1175.8 152.9 1183.1 106.8 1182.5Z"/><path fill="#825096" d="M106.8 885 944.3 885 944.3 1200.9 906.5 1199.3 859.4 1205 812.3 1200.9 765.2 1204 741.5 1209.3 718.1 1215.8 709.5 1224.1 704 1230.6 700.1 1236.1 694.5 1246.3 691.9 1254.6 636.7 1254.6 632.3 1246.3 626.6 1239.8 623.9 1237.4 614.6 1231.5 576.8 1209.5 529.7 1197.7 470 1194.5 341.3 1189.9 317.4 1179.8 304.8 1173.3 294.2 1167.1 247.1 1168.4 200 1163.4 152.9 1171.3 106.8 1170Z"/><path fill="#8c5291" d="M106.8 885 944.3 885 944.3 1191.5 906.5 1188.7 859.4 1194.3 812.3 1190 765.2 1193.7 744.5 1197.3 726.2 1201 718.1 1202.9 716.8 1203.8 706 1212.1 696.7 1221.3 690.1 1229.7 684.9 1238 681.1 1246.3 678.9 1254.6 658.2 1254.6 654.4 1246.3 646.9 1237 637.5 1228.7 631.1 1224.1 623.9 1219.8 576.8 1194.5 529.7 1183.9 482.6 1181.5 435.5 1180.7 341.3 1180.9 326.1 1174.2 315 1168.7 303.6 1162.2 294.2 1156.2 247.1 1157.2 200 1151.6 152.9 1160.1 106.8 1158.3Z"/><path fill="#94558c" d="M106.8 885 944.3 885 944.3 1182.7 906.5 1178.8 859.4 1184.4 812.3 1179.8 765.2 1184.1 742.4 1187.1 718.1 1191 710.4 1195.5 703.3 1200.1 695.1 1206.6 689.2 1212.1 683.3 1218.6 679.1 1224.1 675.4 1229.7 671 1238 665.3 1231.5 660.4 1226.9 652.2 1220.4 645.1 1215.8 635 1210.2 623.9 1205.3 606.3 1196.4 576.8 1180.7 529.7 1170.9 482.6 1168.8 435.5 1169.1 341.3 1172.3 327.6 1165.9 315.5 1159.4 303.3 1152 294.2 1145.7 247.1 1146.6 200 1140.3 152.9 1149.5 106.8 1147Z"/><path fill="#9b588c" d="M106.8 885 944.3 885 944.3 1174.4 906.5 1169.3 859.4 1175 812.3 1170.1 744.7 1177 718.1 1180.1 705 1186.2 691.5 1194.5 680.2 1203.8 671 1213.8 662.6 1208.4 654 1203.8 638.9 1197.3 623.9 1192.3 598.8 1179.8 576.8 1167.9 529.7 1158.9 482.6 1156.9 435.5 1158 388.4 1160.8 341.3 1164.1 328.2 1157.6 315.2 1150.2 303.9 1142.8 294.2 1135.6 247.1 1136.3 200 1129.4 152.9 1139.2 106.8 1136.3Z"/><path fill="#a35a87" d="M106.8 885 944.3 885 944.3 1166.4 906.5 1160.3 859.4 1166 812.3 1160.9 765.2 1166.3 718.1 1169.7 703.2 1175.1 691.5 1180.7 682 1186.2 671 1194.6 659.2 1189.9 648 1186.2 623.9 1180.4 598.7 1167.7 576.8 1155.8 529.7 1147.3 482.6 1145.5 435.5 1147.4 388.4 1151.4 341.3 1156.2 328.3 1149.3 316 1141.9 303.9 1133.6 294.2 1125.9 247.1 1126.4 200 1119 152.9 1129.3 106.8 1125.9Z"/><path fill="#ac5c84" d="M106.8 885 944.3 885 944.3 1158.6 906.5 1151.5 859.4 1157.3 812.3 1152 765.2 1157.9 718.1 1159.8 705.4 1163.1 691.6 1167.7 680.8 1172.4 671 1177.6 651.1 1173.3 623.9 1169.2 600.9 1157.6 576.8 1144.4 529.7 1136.3 482.6 1134.6 435.5 1137.3 388.4 1142.4 341.3 1148.5 327.9 1140.9 316.3 1133.6 303.6 1124.3 294.2 1116.5 247.1 1116.8 200 1108.8 152.9 1119.7 106.8 1115.8Z"/><path fill="#b45f80" d="M106.8 885 944.3 885 944.3 1151.1 925.6 1147.4 906.5 1143.1 859.4 1149 812.3 1143.4 765.2 1149.8 718.1 1150.3 703.2 1153 691.1 1155.7 681.2 1158.5 671 1162.1 652.4 1160.4 623.9 1158.5 596.9 1144.6 576.8 1133.3 529.7 1125.6 482.6 1124 435.5 1127.5 388.4 1133.6 367 1137.3 341.3 1141 328.7 1133.6 316.3 1125.2 305.3 1116.9 294.2 1107.3 247.1 1107.5 200 1098.9 152.9 1110.4 106.8 1106Z"/><path fill="#be627d" d="M106.8 885 944.3 885 944.3 1143.8 926.9 1140 906.5 1135 859.4 1140.9 812.3 1135.1 765.2 1142 718.1 1141.1 693.7 1143.7 671 1147.5 623.9 1148.3 599.1 1135.4 576.8 1122.7 529.7 1115.3 482.6 1113.8 435.5 1117.9 388.4 1125.1 364.2 1129.9 341.3 1133.7 329.1 1126.2 317.2 1117.8 305.5 1108.6 294.2 1098.4 247.1 1098.4 200 1089.3 152.9 1101.3 106.8 1096.5Z"/><path fill="#c66476" d="M106.8 885 944.3 885 944.3 1136.7 923.6 1131.7 906.5 1127 859.4 1133 812.3 1127 765.2 1134.3 718.1 1132.3 701.4 1132.6 671 1133.7 649.3 1136.3 623.9 1138.5 600.5 1126.2 576.8 1112.4 529.7 1105.3 482.6 1103.9 435.5 1108.7 388.4 1116.8 367.4 1121.5 341.3 1126.6 329.2 1118.8 316.5 1109.5 305.4 1100.3 294.2 1089.6 247.1 1089.5 200 1079.9 152.9 1092.5 106.8 1087.2Z"/><path fill="#d06770" d="M106.8 885 944.3 885 944.3 1129.8 926.8 1125.2 906.5 1119.2 859.4 1125.4 812.3 1119.1 765.2 1126.9 696.1 1122.5 671 1120.4 648.6 1125.2 623.9 1129 598.1 1115.1 576.8 1102.3 529.7 1095.5 482.6 1094.2 435.5 1099.7 414.2 1104 388.4 1108.7 366.7 1114.2 341.3 1119.6 327.8 1110.5 315.8 1101.2 303.6 1089.2 294.2 1081 247.1 1080.8 200 1070.7 152.9 1083.8 106.8 1078.1Z"/><path fill="#da6c6c" d="M106.8 885 944.3 885 944.3 1123 926 1117.8 906.5 1111.6 859.4 1117.9 812.3 1111.4 765.2 1119.6 734.6 1116.9 708.5 1114.2 689 1111.4 671 1107.7 650 1114.2 623.9 1119.8 598.6 1105.8 576.8 1092.6 529.7 1086 482.6 1084.8 435.5 1090.8 413.8 1095.7 388.4 1100.7 366.8 1106.8 341.3 1112.8 331.3 1105.8 322.8 1099.4 316.2 1092 309.7 1085.5 301.3 1078.1 294.2 1072.6 247.1 1072.2 200 1061.6 152.9 1075.3 106.8 1069.2Z"/><path fill="#e17364" d="M106.8 885 944.3 885 944.3 1116.3 924.8 1110.5 906.5 1104.2 859.4 1110.6 812.3 1103.8 765.2 1112.5 730.3 1108.6 711.1 1105.8 689.7 1101.2 671 1095.4 648.8 1104 636.4 1107.7 623.9 1110.9 608.1 1102.1 592.8 1092 576.8 1083 529.7 1076.7 482.6 1075.6 435.5 1082.2 414.3 1087.4 388.4 1092.9 378.4 1095.7 364 1100.3 341.3 1106.1 332 1099.4 321.6 1087.4 311.1 1077.2 303.2 1070.7 294.2 1064.3 247.1 1063.9 200 1052.7 174.9 1060.6 152.9 1066.9 106.8 1060.4Z"/><path fill="#e8785f" d="M106.8 885 944.3 885 944.3 1109.7 928 1103.1 906.5 1096.8 877.7 1100.3 859.4 1103.3 836.3 1099.4 812.3 1096.4 789.7 1100.3 765.2 1105.4 718.1 1098.9 671 1083.5 623.9 1102.1 612.6 1093.8 601.1 1086.4 589.6 1080 576.8 1073.8 550.2 1070.7 529.7 1067.6 482.6 1066.5 451.5 1070.7 411.8 1078.1 401.2 1080.9 387.3 1085.5 374 1088.3 360.4 1092 349.9 1095.7 341.3 1099.4 330.9 1086.4 320 1075.3 307.8 1065.2 294.2 1056.2 247.1 1055.6 224.2 1050.4 200 1044 175.8 1050.4 164.7 1054.1 152.9 1058.7 132.1 1055 106.8 1051.8Z"/><path fill="#ee8055" d="M106.8 885 944.3 885 944.3 1099.3 906.5 1086.3 859.4 1092.9 842.3 1091.1 812.3 1088.6 789.9 1092 765.2 1096.3 739.7 1092 718.1 1087.2 671 1072.2 646.8 1080.9 623.9 1089.8 614.7 1083.7 605.4 1078.1 596.6 1073.5 591.8 1071.6 576.8 1067 559.3 1064.3 546.4 1061.5 536.4 1058.7 529.7 1056.4 482.6 1056.5 458.8 1058.7 435.5 1061.4 411.6 1066.1 388.4 1071.3 366.3 1079 341.3 1086.9 332 1076.3 322.3 1067 315.4 1061.5 294.2 1046 247.1 1048.1 223 1042.1 200 1035.8 185.3 1038.4 172.5 1041.2 152.9 1046.7 106.8 1041.7Z"/><path fill="#f3874e" d="M106.8 885 944.3 885 944.3 1088.8 906.5 1075.6 859.4 1082.5 812.3 1080.8 789.4 1083.7 765.2 1087.2 748.5 1083.7 730.2 1079 671 1061 647.6 1068.9 623.9 1077.6 613.4 1071.6 602.1 1067 589.9 1063.3 564.8 1057.8 554.3 1055 540.9 1050.4 529.7 1045.2 482.6 1046.6 435.5 1049 410.7 1053.2 388.4 1057.4 365.3 1066.1 341.3 1074.3 333.4 1066.1 326 1059.6 308.5 1045.8 294.2 1035.7 272 1038.4 247.1 1040.6 224.7 1034.7 200 1027.6 173.2 1031 152.9 1034.7 106.8 1031.7Z"/><path fill="#f78f48" d="M106.8 885 944.3 885 944.3 1078.3 906.5 1065 859.4 1072 812.3 1073 765.2 1078 741.4 1071.6 729.9 1068 718.1 1063.6 671 1049.7 645.6 1057.8 623.9 1065.3 614 1061.5 604.3 1058.7 591.3 1055.9 576.8 1053.7 562 1049.5 551.9 1045.8 543.5 1042.1 536.6 1038.4 529.7 1034 482.6 1036.6 435.5 1036.7 409.2 1040.2 388.4 1043.4 364.5 1053.2 341.3 1061.7 330.8 1052.2 319.4 1043 306.8 1033.8 294.2 1025.5 275 1029.1 247.1 1033.1 223 1026.4 200 1019.4 175.7 1020.8 152.9 1022.7 106.8 1021.6Z"/><path fill="#f89641" d="M106.8 885 944.3 885 944.3 1067.8 906.5 1054.4 859.4 1061.5 839.8 1063.3 765.2 1068.9 752.8 1065.2 739.3 1060.6 718.1 1051.8 671 1038.5 646.4 1045.8 623.9 1053 615.5 1051.3 603.1 1049.5 576.8 1047 562.7 1042.1 550.4 1036.5 539.3 1030.1 529.7 1022.8 482.6 1026.7 435.5 1024.3 388.4 1029.5 365.9 1039.3 341.3 1049.1 330.8 1040.2 318.6 1031 306.3 1022.7 294.2 1015.2 272.3 1020.8 247.1 1025.5 224.5 1019 200 1011.3 152.9 1010.7 106.8 1011.5Z"/><path fill="#faa041" d="M106.8 885 944.3 885 944.3 1057.3 906.5 1043.7 846.6 1053.2 817.9 1056.9 812.3 1057.4 765.2 1059.7 751.7 1055 739.9 1050.4 729.5 1045.8 718.1 1040 671 1027.2 647.3 1033.8 623.9 1040.8 576.8 1040.3 563.1 1034.7 550.9 1028.2 537.4 1019 529.7 1011.5 482.6 1016.7 456.8 1014.4 435.5 1012 388.4 1015.5 365.2 1026.4 341.3 1036.5 330.8 1028.2 318.9 1019.9 307.3 1012.5 294.2 1005 274 1011.6 259.7 1015.3 247.1 1018 222.9 1010.7 200 1003.1 177.6 1001.4 152.9 998.8 106.8 1001.5Z"/><path fill="#faaa41" d="M106.8 885 944.3 885 944.3 1046.8 906.5 1033.1 859.4 1040.6 835.8 1045.8 812.3 1049.7 765.2 1050.5 753 1045.8 740.4 1040.2 731.1 1035.6 718.1 1028.3 671 1016 620.6 1029.1 599.7 1031.9 576.8 1033.7 563.4 1027.3 546.3 1017.1 540.4 1012.5 534.5 1005.1 529.7 1000.3 482.6 1006.7 457.1 1003.3 435.5 999.6 388.4 1001.5 364.5 1013.4 341.3 1023.9 330.7 1016.2 319.4 1008.8 311.7 1004.2 304.4 1001.4 300.6 999.6 297.7 997.7 294.2 994.8 290.3 996.8 272.4 1003.3 260.5 1007 247.1 1010.5 204.5 996.8 200 994.9 174.5 991.3 152.9 986.8 106.8 991.4Z"/><path fill="#fab441" d="M106.8 885 944.3 885 944.3 1036.3 906.5 1022.5 859.4 1030.1 837 1036.5 812.3 1041.9 765.2 1041.4 754 1036.5 744.9 1031.9 733.1 1025.4 725 1019.9 718.1 1016.5 671 1004.7 663.5 1007 649.5 1009.7 623.9 1016.3 617.4 1019 607.6 1021.8 593.5 1024.5 576.8 1027 560.6 1019 550.3 1012.5 549.3 1011.6 545 1004.2 540.6 998.7 536 994 529.7 989.1 482.6 996.8 442.7 989.4 435.5 987.3 388.4 987.6 383.3 994 379.6 996.8 376.2 998.7 368.5 1001.4 356.4 1004.2 341.3 1011.3 330.7 1004.2 317 1000.5 311.9 998.7 306.3 995.9 302.1 993.1 294.2 984.5 291.3 987.6 287.6 990.3 280.1 994 270.6 996.8 261 998.7 247.1 1003 233.7 998.7 223.9 996.8 213.8 994 205.3 990.3 200 986.7 162.3 979.2 157.2 977.4 152.9 974.8 130 978.3 106.8 981.3Z"/><path fill="#fabe41" d="M106.8 885 944.3 885 944.3 1025.6 926.6 1019 917.9 1014.4 912.3 1012.5 906.5 1011.2 879.6 1014.4 859.4 1017.5 851.2 1020.8 840.5 1026.4 828 1030.1 812.3 1034 765.2 1031.9 751.4 1024.5 748.6 1019.9 745.5 1016.2 740.9 1012.5 735.8 1009.7 732.4 1008.8 718.1 1006.8 704.2 1004.2 692.8 1001.4 681.1 997.7 671 995.7 654.9 1001.4 648.1 1003.3 638.9 1005.1 623.9 1007.2 615.7 1008.8 610.1 1012.5 602.7 1015.3 592.6 1018.1 576.8 1021 566.6 1016.2 559.2 1011.6 555.9 1003.3 552.4 996.8 548.4 991.3 543.8 986.6 539 982.9 536.7 982 529.7 980.6 504 986.6 482.6 989.2 469 987.6 458.9 985.7 449.2 982.9 442.9 980.2 435.5 978.4 388.4 977.8 383.3 979.2 378.6 985.7 374.9 992.2 370.6 995 363.9 997.7 357.5 999.6 341.3 1002.5 331.6 1000.5 324.8 998.7 319.5 996.8 313.3 994 310.5 992.2 306.1 985.7 300.2 979.2 299 978.3 294.2 977.3 289.6 978.3 285.9 982 281.3 987.6 275.9 990.3 264.9 994 256.4 995.9 247.1 997.4 233.2 995 219.8 991.3 211.4 987.6 205.1 982 202 981.1 181.7 978.3 170.4 975.6 162.1 971.9 160.7 970.9 158.2 968.2 156.3 967.2 152.9 966.5 148.2 967.2 139.4 970 130.6 971.9 123.7 972.8 106.8 974.2Z"/><path fill="#fac644" d="M106.8 885 749.5 885 742.5 997.7 740.1 998.7 718.1 1000.3 711.3 998.7 709.5 997.7 707.5 995.9 704.1 994 697.8 992.2 692 991.3 681.5 990.3 671 989.8 663 991.3 656 993.1 651.1 995 646 997.7 636.1 1000.5 623.9 1002.9 611.2 1004.2 601.5 1006 594.1 1008.8 592.4 1011.6 590.3 1012.5 576.8 1015.9 570.1 1012.5 569 1011.6 567.3 1002.3 565.3 995 562.8 988.5 559.7 982.9 556.7 981.1 551.2 979.2 541.4 977.4 533.2 976.5 529.7 976.2 522 977.4 510.3 980.2 482.6 985.2 466.5 982 451.6 977.4 442 975.6 435.5 974.7 388.4 974.5 378.8 976.5 370.6 979.2 367.3 985.7 364.7 992.2 363.5 993.1 353.2 996.8 341.3 999.5 331 996.8 321.1 993.1 319.8 992.2 316.2 984.8 311.8 978.3 305.4 976.5 294.2 974.4 283.6 976.5 277.5 978.3 271.4 987.6 269.3 988.5 257.9 992.2 247.1 994.5 232.5 991.3 221.8 987.6 217.1 982 214.9 981.1 207.9 979.2 191.5 976.5 179.7 973.7 172.2 970.9 170.2 968.2 168.8 967.2 162.3 965.4 152.9 963.6 117.1 970 106.8 971.3Z M796.6 885 819 885 812.3 1025.5Z"/><path fill="#f8d046" d="M106.8 885 561.1 885 554.4 929.4 547.3 970.9 512.6 972.8 505.2 973.7 497.7 975.6 493.9 977.4 491.6 979.2 488.7 980.2 482.6 981.3 477.7 980.2 475.4 979.2 472.5 976.5 468.8 974.6 460.9 972.8 452.3 971.9 435.5 971 388.4 971.1 381.8 971.9 375.6 972.8 367.6 974.6 362.6 976.5 359.2 978.3 357.9 979.2 354.5 992.2 353.1 993.1 350.3 994 341.3 996.5 333.1 994 329.2 992.2 327.1 984.8 324.5 978.3 320.9 976.5 315.4 974.6 305.7 972.8 294.2 971.6 278.6 973.7 271.5 975.6 265.4 978.3 262.1 986.6 261.4 987.6 247.1 991.7 232.2 987.6 229.1 982 223.5 979.2 217 977.4 200 975 186.6 971.9 183.7 970.9 182.8 970 182.1 968.2 181.3 967.2 179.5 966.3 174.7 964.5 167.1 962.6 152.9 960.8 139 962.6 130.8 964.5 106.8 968.5Z M588.6 885 644.1 885 637.8 986.6 633.9 988.5 631.4 990.3 629.3 993.1 627.6 997.7 623.9 998.7 599.7 997.7Z"/><path fill="#f5d74b" d="M106.8 885 388.4 885 377.4 967.2 375.9 968.2 362.5 969.1 356.6 970 353.3 970.9 349.6 972.8 347 975.6 345.3 979.2 344.4 992.2 341.3 993.5 338.5 992.2 337.3 978.3 335.1 974.6 332.7 972.8 330.7 971.9 327.5 970.9 321.7 970 307.5 969.1 294.2 968.7 272.3 970 262.1 971.9 257.8 973.7 254.5 976.5 253.3 978.3 252.1 986.6 251.5 987.6 247.1 988.8 242.5 987.6 241.9 986.6 240.6 981.1 238.2 978.3 235.3 976.5 229.8 974.6 224.5 973.7 214.6 972.8 200 972.1 195.2 970.9 194.3 970 193.7 967.2 192.4 965.4 190.4 963.5 186.9 961.7 179.7 959.8 172 958.9 152.9 957.9 134.1 958.9 126.5 959.8 122.3 960.8 119.5 961.7 113.8 964.5 106.8 965.6Z"/></g><path d="M812.4 969.8H824.6" stroke="#f9dc8e" stroke-width="1.1"/><path d="M765.5 955.2H795.8" stroke="#f9dc8e" stroke-width="1.1"/><path d="M624.2 955.2H642.3" stroke="#f9dc8e" stroke-width="1.1"/><g clip-path="url(#cc2)"><rect x="963.1" y="885" width="875.5" height="369.6" fill="#a014ff"/><path fill="#7d23ff" d="M963.1 885 1838.6 885 1838.6 1141.7 1799.1 1141.7 1773.6 1139.1 1764.7 1137.3 1757.8 1134.5 1753.9 1131.7 1749.8 1126.7 1747.2 1129.9 1744 1132.6 1740.9 1134.5 1736.4 1136.3 1729.5 1138.2 1724.3 1139.1 1700.6 1141.6 1662.6 1140 1655.3 1139.1 1651.4 1138.2 1631.8 1136.3 1626.4 1135.4 1619.4 1133.6 1615 1131.7 1610.8 1128.9 1608.1 1126.2 1605.8 1122.5 1603.8 1117.8 1602.1 1111.4 1576.3 1110.5 1567.6 1109.5 1563.2 1108.6 1558.8 1106.8 1555.8 1104 1554 1100.3 1552.9 1095.7 1550.2 1109.5 1548.3 1115.1 1546.1 1119.7 1543.4 1123.4 1540.5 1126.2 1536.4 1128.9 1532.5 1130.8 1526.9 1132.6 1518.4 1134.5 1503.7 1136.3 1475 1135.4 1465.4 1134.5 1457.7 1132.6 1454.4 1130.8 1452.7 1135.4 1450.6 1139.1 1448.2 1141.9 1444.4 1144.6 1440.2 1146.5 1433.2 1148.3 1419.2 1150.2 1405.2 1151.1 1388.1 1150.2 1373.3 1148.3 1366.6 1146.5 1361.4 1143.7 1358.6 1140.9 1356 1136.3 1306.7 1136.3 1276 1135.4 1267.1 1134.5 1262.8 1133.6 1260.3 1132.6 1257.5 1130.8 1254.2 1135.4 1250.4 1139.1 1246.4 1141.9 1240.7 1144.6 1235.3 1146.5 1227.7 1148.3 1208.2 1151.1 1190.5 1149.3 1176.6 1146.5 1171.1 1144.6 1165.5 1141.9 1161.7 1139.1 1159 1136.3 1109.8 1136.3 1095.2 1135.4 1080.6 1133.6 1073.2 1131.7 1067.3 1128.9 1063.8 1126.2 1060.5 1121.5 1056.5 1125.2 1052.7 1128 1048 1130.8 1042 1133.6 1030.9 1137.3 1011.3 1141.5 1002 1138.2 993.7 1134.5 987.3 1130.8 981.2 1126.2 975.6 1120.6 971.3 1115.1 967.5 1108.6 963.1 1099.3Z"/><path fill="#4b32ff" d="M963.1 885 1088.7 885 1093.5 889.6 1097.2 894.2 1109.8 931.7 1116.3 917.3 1121.9 906.3 1128.1 895.2 1134.4 885 1838.6 885 1838.6 1106.8 1799.1 1106.8 1785.3 1102.1 1773.3 1097.5 1760.8 1092 1749.8 1086.4 1744.7 1089.2 1738.3 1092 1723.8 1096.6 1711.4 1099.4 1700.6 1101.2 1677.1 1106.8 1651.4 1111.4 1642.5 1106.8 1632.6 1103.1 1618.6 1099.4 1602.1 1096.4 1592.6 1092 1583.9 1087.4 1576.1 1082.7 1567.9 1077.2 1552.9 1071.6 1544.1 1074.4 1537 1077.2 1519.6 1092 1515.5 1095.7 1509.3 1102.1 1503.7 1106.8 1454.4 1106.8 1438.4 1110.5 1424.6 1115.1 1415 1119.7 1405.2 1126.3 1396.4 1124.3 1389.4 1123.4 1377.9 1122.5 1356 1121.5 1348.2 1118.8 1337.5 1116 1321.9 1113.2 1306.7 1111.4 1291.7 1104.9 1279.8 1098.4 1267.8 1090.1 1257.5 1080.9 1255.2 1084.6 1252.4 1087.4 1247.3 1091.1 1242.1 1093.8 1237.4 1095.7 1231 1097.5 1215.9 1100.3 1208.2 1101.2 1109.8 1101.2 1094.2 1100.3 1074 1098.4 1046.8 1094.7 1037 1092.9 1027.9 1090.1 1022.1 1087.4 1015.8 1082.7 1011.3 1076.9 963.1 1076.7Z"/><path fill="#4141e1" d="M963.1 885 1044.1 885 1060.5 888.1 1071 894.2 1083 931.2 1085.3 934.9 1093.2 944.1 1100.7 946.9 1104.7 949.7 1107.3 952.5 1109.8 956.4 1111.7 952.5 1113.8 949.7 1117.9 946.9 1124.9 940.4 1132.4 934.9 1145.8 926.6 1152 916.4 1159 906 1186 912.7 1208.2 919.4 1257.5 919.2 1261.4 885 1838.6 885 1838.6 1080.9 1818.9 1080 1809.8 1079 1799.1 1076.7 1784.1 1078.1 1700.6 1080.9 1651.4 1080.9 1624.7 1080 1614.6 1079 1609.2 1078.1 1606 1077.2 1602.1 1075.3 1585 1070.7 1571.4 1066.1 1552.9 1062.6 1532.1 1066.1 1520.3 1068.9 1503.7 1071.6 1499.8 1074.4 1494.7 1077.2 1484.9 1080.9 1473.4 1083.7 1454.4 1086.4 1431.4 1084.6 1420.3 1082.7 1411.3 1080 1405.2 1076.6 1376 1074.4 1356 1071.6 1353.8 1073.5 1350.5 1075.3 1345.2 1077.2 1341.1 1078.1 1325.2 1080 1306.7 1080.9 1279.9 1075.3 1257.5 1069.8 1228.9 1082.7 1217.3 1086.4 1208.2 1088.3 1159 1092 1109.8 1088.3 1079.5 1086.4 1060.5 1084.6 1052.2 1082.7 1046 1080.9 1035.2 1076.3 1011.3 1071.3 963.1 1069.8Z"/><path fill="#3755c8" d="M963.1 885.9 963.1 885 974.5 894.2 982.3 901.6 989.1 909 995.1 916.4 1000.5 923.8 1005.8 932.1 1011.1 941.4 1056.9 942.3 1059.8 943.2 1060.5 944.1 1077.7 946.9 1087.1 949.7 1092.9 952.5 1099.6 957.1 1109.8 962.4 1111.4 960.8 1117.2 957.1 1121.3 953.4 1124.2 951.5 1130.8 948.8 1138.4 946.9 1147.9 940.4 1159 934.4 1208.2 942.9 1227.9 944.1 1257.5 944.8 1259.7 942.3 1260 941.4 1263.3 912.7 1267.8 885 1838.6 885 1838.6 1072.9 1799.1 1069.1 1749.8 1071.6 1700.6 1072.9 1683.2 1075.3 1651.4 1077.3 1640.4 1076.3 1623.1 1073.5 1615.6 1071.6 1602.1 1066.1 1552.9 1056.9 1528.2 1060.6 1503.7 1064.9 1478.3 1068 1464.2 1070.7 1454.4 1073.5 1437.8 1068.9 1425.8 1064.3 1413.3 1057.8 1409.3 1055 1405.2 1051.3 1356 1053.7 1346.6 1059.6 1336.1 1064.3 1324.2 1068 1306.7 1071.6 1257.5 1061.5 1234.1 1069.8 1208.2 1080.9 1109.8 1080.9 1060.5 1076.5 1043.1 1071.6 1017.9 1067 1011.3 1066.1 963.1 1061.5Z M1602.1 913.6 1599 916.4 1602.1 918.6 1608.7 916.4Z"/><path fill="#2d64af" d="M1274.3 885 1831.5 885 1835.4 890.5 1838.6 896.1 1838.6 1064.9 1799.1 1061.7 1749.8 1064.9 1700.6 1064.9 1688.8 1068 1671.8 1071.6 1651.4 1073.8 1637.9 1071.6 1602.1 1059.9 1577.2 1055 1566 1052.2 1552.9 1048.4 1531.4 1053.2 1503.7 1058.1 1454.4 1060.6 1444.9 1057.8 1435.4 1054.1 1417.8 1045.8 1405.2 1039 1356 1039.1 1340.3 1049.5 1331.9 1054.1 1321.1 1058.7 1306.7 1063.2 1257.5 1053.4 1232.1 1061.5 1208.2 1070.9 1159 1068.6 1109.8 1070.9 1060.5 1068.3 1011.3 1057.9 963.1 1053.4 963.1 944.1 1011.3 943.7 1034.6 945.1 1060.5 947.8 1072.9 950.6 1080.9 953.4 1099.1 961.7 1106 965.4 1109.8 968.2 1112.3 964.5 1115.6 961.7 1121.8 958.9 1129.7 954.3 1133.6 952.5 1142.5 949.7 1159 946.9 1177.4 947.8 1193.1 949.7 1197.2 950.6 1202.4 952.5 1205.6 954.3 1208.2 956.5 1215.4 954.3 1224.4 952.5 1240.2 950.6 1257.5 949.5 1263.9 942.3 1264.2 941.4 1268.3 913.6 1271.3 897.9Z M1602.1 906.7 1596.5 910.9 1591.2 916.4 1596 920.1 1602.1 924 1614.8 920.1 1625.2 916.4 1623.9 912.7 1623.1 911.8 1621.1 910.9 1611.5 908.1Z"/><path fill="#236e96" d="M1280.8 885 1632.4 885 1629.6 890.5 1625.6 894.2 1622 896.1 1615.8 897.9 1602.1 899.8 1600.1 900.7 1595.2 903.5 1591.4 906.3 1588.6 909 1585.6 912.7 1583.4 916.4 1592.5 923.8 1602.1 929.5 1621.9 923.8 1641.7 916.4 1646.5 913.6 1651.5 911.8 1656.5 907.2 1661.7 903.5 1668.5 899.8 1674.8 897 1685.7 893.3 1700.6 889.8 1726.5 887.8 1749.8 885 1824.5 885 1828.4 889.6 1832.2 895.2 1835.5 900.7 1838.6 907.2 1838.6 1056.9 1799.1 1054.3 1749.8 1058.1 1700.6 1056.9 1678.5 1063.3 1651.4 1069.3 1602.1 1053.8 1587.5 1050.4 1552.9 1039.9 1530.7 1045.8 1503.7 1051.3 1454.4 1051.3 1442.8 1046.7 1422 1037.5 1413.8 1032.8 1405.2 1026.7 1356 1026.7 1346.1 1034.7 1334.5 1042.1 1321.9 1048.5 1306.7 1054.7 1257.5 1045.3 1219 1056.9 1208.2 1060.9 1159 1056.2 1109.8 1060.9 1060.5 1060.1 1011.3 1049.8 963.1 1045.3 963.1 945.6 1011.3 945.7 1036.7 947.8 1057.8 950.6 1070.1 954.3 1085.4 959.8 1095.4 964.5 1100.6 966.3 1109.8 971.5 1115.2 965.4 1117.5 963.5 1120.8 961.7 1129.2 958.9 1141.7 953.4 1148 951.5 1159 949.3 1172.4 950.6 1178.8 951.5 1187.4 953.4 1193 955.2 1203.9 959.8 1206.9 961.7 1208.2 962.9 1209.6 961.7 1211.4 960.8 1215.2 959.8 1227.5 958.9 1243.5 956.1 1257.5 954.2 1265 946 1268.5 941.4 1273.3 914.6 1277.1 897.9Z"/><path fill="#197d82" d="M1287.3 885 1613.5 885 1606.9 888.7 1595 893.3 1589.1 897 1582.9 902.6 1580 906.3 1577.5 910.9 1575.6 916.4 1581.1 922 1587 926.6 1594.5 931.2 1602.1 934.9 1620.7 930.3 1635.6 925.7 1651.4 919.6 1673.6 912.7 1687.1 906.3 1700.6 901.6 1732.4 902.6 1749.8 903.5 1752.5 897.9 1755.5 893.3 1759.4 888.7 1763.5 885 1817.4 885 1824.2 892.4 1830.2 900.7 1834.8 909 1838.6 918.3 1838.6 1050.1 1799.1 1046.8 1749.8 1051.3 1726.6 1049.5 1700.6 1046.7 1696.3 1049.5 1679.7 1055.9 1666.7 1059.6 1651.4 1063.3 1610.3 1050.4 1605.5 1048.5 1602.1 1046.8 1568.1 1036.5 1552.9 1030.8 1542.5 1034.7 1533.6 1037.5 1519.5 1041.2 1503.7 1044.7 1454.4 1042.1 1441.3 1037.5 1429.2 1031.9 1421.2 1027.3 1413.4 1021.8 1410 1019.9 1405.2 1016 1356 1016 1343.4 1026.4 1332.4 1033.8 1321 1040.2 1306.7 1046.8 1257.5 1037.4 1208.2 1052.2 1159 1046.8 1109.8 1052.2 1060.5 1052.2 1011.3 1041.9 963.1 1037.4 963.1 947 1011.3 947.7 1031 949.7 1046.7 950.6 1052.8 951.5 1058.1 953.4 1060.5 955.2 1075.4 959.8 1086.7 964.5 1096.2 967.2 1104.2 970.9 1109.8 974.9 1112.8 970.9 1116.7 967.2 1120.3 964.5 1123.7 962.6 1128.7 960.8 1136.7 958.9 1148.8 954.3 1159 951.7 1175.3 954.3 1198.2 960.8 1202.2 962.6 1204.7 964.5 1206.4 966.3 1208.2 969.2 1209.6 966.3 1211.2 964.5 1214 962.6 1216.4 961.7 1220.7 960.8 1229.3 959.8 1257.5 958.9 1262.9 953.4 1269.4 946 1272.7 941.4 1275.3 927.5 1278.4 914.6 1283 897.9Z"/><path fill="#0f8c69" d="M1293.8 885 1577.5 885 1574 887.8 1571.6 892.4 1568.3 907.2 1567.7 916.4 1574.1 923.8 1581.9 930.3 1591.3 935.8 1602.1 940.4 1619.2 936.7 1636.5 932.1 1651.4 927.2 1668 922.9 1680.3 919.2 1700.6 911.7 1715.2 913.6 1749.8 919.5 1755.4 907.2 1760 899.8 1766.7 892.4 1771.3 888.7 1775.6 885.9 1777.2 885 1810.4 885 1818.9 893.3 1827.4 904.4 1832.1 912.7 1838.6 929.4 1838.6 1043.3 1799.1 1039.2 1749.8 1043.7 1722.4 1040.2 1700.6 1036.5 1698.6 1039.3 1695.9 1042.1 1692.1 1044.9 1688.6 1046.7 1680.4 1049.5 1671.4 1051.3 1663 1054.1 1651.4 1057.3 1632.4 1051.3 1623.1 1049.5 1616.6 1047.6 1608.4 1043.9 1602.1 1039.2 1579.5 1031.9 1571 1030.1 1564.7 1028.2 1558.5 1025.4 1552.9 1021.2 1546.5 1025.4 1540 1028.2 1503.7 1038.1 1454.4 1035.3 1441.9 1030.1 1434.7 1026.4 1427.1 1021.8 1421.9 1019.9 1416.3 1017.1 1410.2 1012.5 1405.2 1006.3 1356 1006.3 1345.9 1015.3 1331.8 1025.4 1317.4 1033.8 1306.7 1039.2 1257.5 1029.6 1253.1 1031.9 1248 1033.8 1234.3 1036.5 1208.2 1044.4 1159 1039.2 1109.8 1044.4 1060.5 1044.4 1011.3 1034.2 963.1 1029.6 963.1 948.5 1035.6 950.6 1045.1 951.5 1050.2 952.5 1055.5 954.3 1058.2 956.1 1060.5 958.3 1070.9 961.7 1078 964.5 1086.8 966.3 1097.5 970 1104.4 973.7 1109.8 978.3 1112.8 973.7 1115.3 970.9 1119.9 967.2 1124.2 964.5 1131.2 961.7 1144.1 958.9 1159 954.1 1169.7 956.1 1180.2 958.9 1190.7 960.8 1196.4 962.6 1201.3 965.4 1204.3 968.2 1206.3 970.9 1208.2 975.4 1209.2 970.9 1211.6 967.2 1215 964.5 1219.4 962.6 1229.9 960.8 1262.4 958.9 1264.2 957.1 1271.5 948.8 1276.9 941.4 1280 927.5 1283.5 914.6 1288.8 897.9Z"/><path fill="#009b46" d="M1300.2 885 1528.3 885 1541.4 891.5 1552.9 898.3 1554.5 900.7 1556.3 904.4 1560.5 917.3 1566.4 925.7 1573.1 932.1 1578.3 935.8 1581.7 937.7 1592.2 942.3 1602.1 946 1617.3 943.2 1634.2 939.5 1651.4 934.8 1679 928.4 1700.6 921.8 1726.5 926.6 1749.8 931.8 1755 922 1759 912.7 1760.5 909.9 1765 903.5 1770.4 897.9 1774.7 894.2 1780 890.5 1790.9 885 1803.3 885 1808.9 889.6 1813.7 894.2 1820.3 901.6 1825 908.1 1827.7 912.7 1832.9 927.5 1838.6 940.4 1838.6 1036.5 1819.9 1034.7 1799.1 1031.7 1749.8 1036.1 1700.6 1029.1 1697 1033.8 1692.3 1038.4 1688.7 1041.2 1683.8 1043.9 1676.5 1046.7 1669.3 1048.5 1651.4 1051.3 1633.7 1048.5 1623.2 1045.8 1616.2 1043 1611.3 1040.2 1606.5 1036.5 1602.1 1031.8 1580.7 1028.2 1573.9 1026.4 1568.8 1024.5 1563.4 1021.8 1559.4 1019 1555.6 1015.3 1552.9 1011.6 1549.5 1015.3 1546.3 1018.1 1538.7 1022.7 1532 1025.4 1526 1027.3 1513.4 1030.1 1503.7 1031.7 1470.4 1030.1 1454.4 1028.5 1440.7 1021.8 1428.5 1018.1 1424.2 1016.2 1419.3 1013.4 1414.5 1009.7 1411 1006 1407.7 1001.4 1405.2 996.7 1356 996.7 1353.1 1000.5 1350.4 1003.3 1333.7 1016.2 1319.1 1025.4 1306.7 1031.6 1278 1026.4 1257.5 1021.8 1254.5 1024.5 1250.3 1027.3 1241.7 1031 1230.3 1033.8 1208.2 1036.5 1186.7 1035.6 1175.3 1034.7 1168.3 1033.8 1159 1031.7 1148.8 1033.8 1129.9 1035.6 1109.8 1036.5 1060.5 1036.5 1034.9 1032.8 1022.5 1030.1 1011.3 1026.7 979.6 1024.5 972.4 1023.6 963.1 1021.8 963.1 949.9 1011.3 950.1 1024.6 950.6 1037.4 951.5 1044.3 952.5 1048.6 953.4 1053.3 955.2 1057.7 958 1060.5 961.4 1069.3 964.5 1083.7 967.2 1094.8 970.9 1103.3 975.6 1109.8 981.2 1115 973.7 1116.8 971.9 1120.3 969.1 1126.3 965.4 1130.5 963.5 1136.3 961.7 1151.6 958.9 1159 956.5 1169.6 958.9 1183.3 960.8 1190.7 962.6 1195.3 964.5 1199.8 967.2 1203.5 970.9 1205.3 973.7 1208.2 981.2 1209.8 977.4 1210.1 971.9 1210.6 970.9 1212.1 969.1 1215.4 966.3 1218.9 964.5 1224.8 962.6 1230.1 961.7 1239.1 960.8 1257.5 959.8 1267.3 958.9 1274.5 950.6 1280.7 942.3 1285.1 925.7 1288.6 914.6 1294.6 897.9Z"/><path fill="#1ea541" d="M1306.2 885.9 1306.7 885 1502.1 885 1503.7 891.3 1514.2 896.1 1525 901.6 1544.5 913.6 1552.9 918.3 1555.7 923.8 1558.6 928.4 1562.4 933 1566.3 936.7 1575.3 941.4 1583.7 945.1 1602.1 951.5 1630.3 946.9 1651.4 942.3 1675 938.6 1687.5 935.8 1700.6 932 1749.8 944.1 1758.6 928.4 1762.7 919.2 1765 912.7 1769.2 907.2 1775.7 900.7 1783.3 895.2 1791.2 890.5 1799.1 887 1805.7 892.4 1813.3 899.8 1818.2 905.3 1822.8 911.8 1823.4 912.7 1826.7 923.8 1830.1 933 1833.3 940.4 1838.6 948.4 1838.6 1031.5 1799.1 1027.6 1749.8 1029.7 1723.1 1026.4 1712.7 1024.5 1700.6 1021.8 1695.7 1029.1 1693.2 1031.9 1689 1035.6 1682.3 1040.2 1676.5 1043 1668.1 1045.8 1660.1 1047.6 1651.4 1049.1 1638.3 1046.7 1625.6 1043 1621.2 1041.2 1616 1038.4 1606.4 1031 1602.1 1029.1 1587.5 1026.4 1575.4 1022.7 1571.3 1020.8 1566.5 1018.1 1562.8 1015.3 1559.1 1011.6 1552.9 1010 1545.2 1011.6 1540.7 1015.3 1536.4 1018.1 1526.4 1022.7 1517.5 1025.4 1503.7 1028.4 1488.5 1027.3 1472.3 1025.4 1461.8 1023.6 1445.7 1019.9 1438.9 1018.1 1431.4 1015.3 1425.7 1012.5 1421.4 1009.7 1417 1006 1413.6 1002.3 1405.2 990 1387.4 991.3 1356 992.6 1349.8 996.8 1346 1000.5 1342.3 1003.3 1335.6 1007 1328.2 1012.5 1319.8 1018.1 1306.7 1025.3 1288.8 1021.8 1280.5 1020.8 1257.5 1019.2 1250.1 1021.8 1244.2 1025.4 1235.1 1029.1 1224 1031.9 1208.2 1034.3 1190.4 1032.8 1159 1028.7 1124.1 1032.8 1109.8 1034 1060.5 1032.4 1046.9 1030.1 1030.7 1026.4 1018.4 1024.5 993.1 1021.8 963.1 1019.2 963.1 951.4 1011.3 950.5 1029.8 951.5 1043.8 953.4 1049.7 955.2 1055.1 958 1058.3 960.8 1060.5 964.5 1073 966.3 1087.5 970 1092.5 971.9 1098.2 974.6 1102.5 977.4 1106.6 981.1 1109.8 981.8 1112.2 981.1 1117.2 973.7 1120.4 970.9 1126.3 967.2 1132.2 964.5 1141.5 961.7 1159 958.9 1168.9 959.8 1175.8 960.8 1184.9 962.6 1190.6 964.5 1194.6 966.3 1198.8 969.1 1201.6 971.9 1203 973.7 1206 981.1 1208.2 981.9 1211.2 981.1 1212.1 977.4 1211.4 971.9 1212 970.9 1213.9 969.1 1218.3 966.3 1222.7 964.5 1230.3 962.6 1237 961.7 1272.2 958.9 1279.1 950.6 1284.9 942.3 1289.5 926.6 1293.4 915.5 1300.4 897.9Z"/><path fill="#37af3c" d="M1312.2 885 1498.1 885 1503.7 907.2 1513.3 915.5 1522.6 922 1533.9 928.4 1543.7 933 1552.9 936.7 1560.6 941.4 1567.9 945.1 1583.8 951.5 1602.1 955.1 1615.3 954.3 1634.9 952.5 1651.4 949.7 1683 946.9 1700.6 944.3 1727.3 951.5 1749.8 958.7 1757.1 944.1 1764.2 931.2 1768.4 921 1771.1 912.7 1776.1 907.2 1782.6 901.6 1791.4 896.1 1799.1 892 1810.8 902.6 1814.9 907.2 1819.1 912.7 1824 930.3 1828.1 940.4 1833.2 948.8 1838.6 956.5 1838.6 1026.6 1799.1 1023.6 1749.8 1025.2 1728.6 1021.8 1700.6 1019 1695.7 1021.8 1690.8 1029.1 1687.8 1031.9 1684.2 1034.7 1678.3 1038.4 1672.4 1041.2 1667.4 1043 1660.9 1044.9 1651.4 1046.9 1638.1 1043.9 1629.6 1041.2 1621.6 1037.5 1611.9 1031 1602.1 1026.6 1592.5 1024.5 1583.1 1021.8 1578.4 1019.9 1572.9 1017.1 1568.6 1014.4 1565.2 1011.6 1552.9 1008.5 1537.5 1011.6 1530.3 1016.2 1522.2 1019.9 1514.1 1022.7 1503.7 1025.3 1488.8 1023.6 1477.4 1021.8 1454.4 1019.2 1449.4 1018.1 1440.3 1015.3 1433.5 1012.5 1428.3 1009.7 1423 1006 1416.4 999.6 1414.2 995.9 1405.2 983.3 1380.6 986.6 1356 988.6 1343.7 996.8 1337.5 1001.4 1332.3 1004.2 1325.8 1007 1316.3 1013.4 1306.7 1019.1 1295.1 1018.1 1257.5 1016.7 1242.7 1021.8 1237.4 1024.5 1230.1 1027.3 1219.6 1030.1 1208.2 1032.1 1181.8 1029.1 1159 1025.9 1109.8 1031.5 1081.6 1030.1 1060.5 1028.2 1040.7 1024.5 1011.3 1020.6 963.1 1016.7 963.1 952.8 982.1 951.5 1011.3 950.9 1022.1 951.5 1039 953.4 1043.4 954.3 1052.5 958 1056.4 960.8 1057.3 961.7 1058.5 964.5 1060.5 965.5 1075.4 968.2 1085.4 970.9 1096.2 975.6 1100.6 978.3 1103.9 981.1 1109.8 982.2 1114.2 981.1 1119.4 973.7 1122.9 970.9 1129.5 967.2 1136.2 964.5 1146.7 961.7 1159 959.7 1168.3 960.8 1182.9 963.5 1188.5 965.4 1192.6 967.2 1197 970 1200.7 973.7 1203.9 981.1 1208.2 982.3 1210.8 982 1214 981.1 1214.3 977.4 1213.2 974.6 1212.6 971.9 1215.8 969.1 1223.5 965.4 1230.4 963.5 1235.7 962.6 1277.2 958.9 1283.6 950.6 1289.1 942.3 1293.6 928.4 1297.4 918.3Z"/><path fill="#50b932" d="M1317.7 885 1494.1 885 1500.5 907.2 1503.7 936.7 1527.4 941.4 1552.9 945.5 1565.5 951.5 1571.4 953.4 1583.9 956.1 1602.1 958.7 1632.4 958 1651.4 957.1 1700.6 956.7 1720 962.6 1749.8 972.5 1754.3 964.5 1770.8 932.1 1774.5 922 1777.2 912.7 1781.9 908.1 1786.5 904.4 1792.1 900.7 1799.1 897 1807.5 904.4 1814.7 912.7 1819.2 931.2 1822.8 940.4 1830.4 953.4 1838.6 964.5 1838.6 1021.6 1799.1 1019.6 1749.8 1020.7 1727.1 1018.1 1700.6 1016.2 1690.8 1021.8 1685.8 1029.1 1681.1 1032.8 1676.6 1035.6 1671.3 1038.4 1664.3 1041.2 1651.4 1044.7 1641 1042.1 1630.7 1038.4 1625 1035.6 1617.4 1031 1607.6 1026.4 1602.1 1024.1 1593 1021.8 1584.9 1019 1577 1015.3 1571.4 1011.6 1552.9 1007 1542.1 1008.8 1529.8 1011.6 1525 1014.4 1519 1017.1 1511.5 1019.9 1503.7 1022.2 1477.3 1019 1454.4 1016.7 1452.4 1016.2 1443.7 1013.4 1437.1 1010.7 1430.3 1007 1425.2 1003.3 1421.2 999.6 1416.4 992.2 1405.2 977 1384.1 981.1 1356 984.6 1345.5 992.2 1333.4 999.6 1326 1003.3 1316 1007 1306.7 1012.8 1295 1013.4 1257.5 1014.2 1235.3 1021.8 1226.2 1025.4 1216.3 1028.2 1208.2 1029.9 1179.9 1026.4 1159 1023.1 1109.8 1029.1 1077.3 1026.4 1040 1020.8 1016.2 1018.1 963.1 1014.2 963.1 954.3 968.7 953.4 978.9 952.5 1011.3 951.4 1026.6 952.5 1039.4 954.3 1045.1 956.1 1051.8 958.9 1055.6 961.7 1056.5 964.5 1060.5 966.5 1069.7 968.2 1080.7 970.9 1092.6 975.6 1097.5 978.3 1101.2 981.1 1105 982 1109.8 982.4 1113.3 982 1116.3 981.1 1121.6 973.7 1127 970 1132.6 967.2 1143.4 963.5 1159 960.6 1167.9 961.7 1177.7 963.5 1184.2 965.4 1189 967.2 1194 970 1198.3 973.7 1201.9 981.1 1204.2 982 1208.2 982.6 1213.9 982 1216.7 981.1 1216.6 977.4 1214.8 974.6 1213.8 971.9 1217.7 969.1 1226.8 965.4 1234.9 963.5 1241.2 962.6 1274.9 959.8 1282.1 958.9 1288.1 950.6 1293.3 942.3 1301.5 920.1Z"/><path fill="#6ec828" d="M1323.1 885 1490.2 885 1497.4 907.2 1499 917.3 1501.2 936.7 1503.7 947.2 1525.1 950.6 1552.9 954.3 1558.3 956.1 1565.7 958 1584.1 960.8 1602.1 962.3 1638.3 963.5 1665.7 965.4 1686.2 967.2 1700 969.1 1722.9 976.5 1749.8 986 1753.6 977.4 1761.8 964.5 1777.9 932.1 1781 922 1783.3 912.7 1791.2 906.3 1799.1 901.4 1805.4 907.2 1810.4 912.7 1814.4 932.1 1817.6 940.4 1825.1 954.3 1832 964.5 1838.6 966.2 1838.6 1016.6 1799.1 1015.6 1749.8 1016.1 1723.3 1014.4 1700.6 1013.4 1685.8 1021.8 1680.9 1029.1 1675.5 1032.8 1664.2 1038.4 1651.4 1042.4 1643.4 1040.2 1635.6 1037.5 1609.6 1024.5 1602.1 1021.6 1588.4 1017.1 1582.3 1014.4 1577.5 1011.6 1564 1007.9 1552.9 1005.4 1537.7 1007.9 1525.4 1010.7 1522.1 1011.6 1512 1016.2 1503.7 1019.1 1477.1 1016.2 1454.4 1014.2 1446.5 1011.6 1440.1 1008.8 1433.4 1005.1 1428.2 1001.4 1425.3 998.7 1421.2 992.2 1415.1 984.8 1409.8 977.4 1408.7 976.5 1405.2 975.4 1383.4 976.5 1356 980.7 1352 983.9 1347.3 986.6 1338.4 993.1 1324.7 1000.5 1315.2 1004.2 1306.7 1006.8 1295.1 1008.8 1276.5 1010.7 1257.5 1011.7 1220.3 1024.5 1208.2 1027.7 1184.5 1024.5 1159 1020.2 1109.8 1026.6 1081.6 1023.6 1060.5 1019.9 1030 1016.2 1008.1 1014.4 963.1 1011.7 963.1 954.7 991.4 952.5 1011.3 951.8 1020.7 952.5 1035.4 954.3 1047.2 958 1051.3 959.8 1053.9 961.7 1054.5 964.5 1060.5 967.5 1072.5 970 1081.9 972.8 1091 976.5 1098.5 981.1 1101.9 982 1109.8 982.7 1115.5 982 1118.4 981.1 1123.8 973.7 1128 970.9 1133.6 968.2 1144.1 964.5 1159 961.4 1167.6 962.6 1176.6 964.5 1187.5 968.2 1192.6 970.9 1196 973.7 1199.8 981.1 1202 982 1208.2 982.9 1217 982 1219.4 981.1 1218.9 977.4 1216.3 974.6 1215 971.9 1217.6 970 1227 966.3 1234.3 964.5 1246.6 962.6 1271.5 960.8 1287 958.9 1292.7 950.6 1297.5 942.3 1305.2 922.9 1312.1 909Z"/><path fill="#87d223" d="M1328.6 885 1486.2 885 1494.5 908.1 1496.3 918.3 1498.7 936.7 1503.7 957.7 1529.6 960.8 1566.9 964.5 1602.1 965.9 1620.6 967.2 1636.8 969.1 1651.4 971.9 1668.3 972.8 1684.1 974.6 1691.7 976.5 1696 978.3 1700.6 981.7 1736.2 994 1749.8 995.9 1752.2 994 1753.2 988.5 1757.6 980.2 1760.8 975.6 1764.2 971.9 1769.2 964.5 1784.5 933 1786.6 925.7 1789.4 912.7 1799.1 905.7 1806 912.7 1809.7 933 1812.3 940.4 1814.9 946 1823 960.8 1825.4 964.5 1838.6 967.9 1838.6 1011.6 1749.8 1011.6 1700.6 1010.7 1690.2 1016.2 1680.9 1021.8 1676 1029.1 1673.2 1031 1664.3 1035.6 1651.4 1040.2 1637.9 1035.6 1624.1 1029.1 1613.9 1023.6 1607.1 1020.8 1593.6 1016.2 1583.7 1011.6 1571 1007.9 1552.9 1003.9 1537.8 1006 1524.2 1008.8 1514.4 1011.6 1503.7 1016 1454.4 1011.7 1442.7 1007 1437.6 1004.2 1432.1 1000.5 1430.1 998.7 1426 992.2 1419.5 984.8 1413.9 977.4 1412.8 976.5 1405.2 974.2 1369.1 975.6 1356 976.7 1350 982 1345.4 984.8 1341.5 986.6 1334.4 992.2 1321.8 998.7 1312.7 1002.3 1306.7 1004.2 1257.5 1009.2 1235 1017.1 1208.2 1025.4 1182.6 1021.8 1159 1017.4 1109.8 1024.1 1084.4 1020.8 1069.8 1018.1 1060.5 1015.7 1047.5 1014.4 1011.3 1011.6 963.1 1009.2 963.1 955.1 986.5 953.4 1011.3 952.2 1031.4 954.3 1044.6 958 1049.2 959.8 1052.2 961.7 1052.5 964.5 1055.2 966.3 1060.5 968.6 1071.3 970.9 1083.1 974.6 1089.6 977.4 1095.8 981.1 1098.8 982 1109.8 982.9 1117.7 982 1120.4 981.1 1126 973.7 1134.4 969.1 1144.7 965.4 1159 962.2 1171.9 964.5 1184.2 968.2 1189.8 970.9 1193.7 973.7 1197.7 981.1 1199.8 982 1208.2 983.2 1220.1 982 1222.2 981.1 1221.1 977.4 1217.9 974.6 1216.2 971.9 1219.2 970 1229.9 966.3 1243.9 963.5 1257.5 962.2 1278.6 960.8 1291.9 958.9 1297.2 950.6 1301.7 942.3 1306.7 930 1317.4 909 1323.9 894.2Z"/><path fill="#a0d71e" d="M1334.1 885 1482.2 885 1490.4 905.3 1492.4 911.8 1496.3 936.7 1499.5 949.7 1501.6 960.8 1503.7 968.2 1535.9 970 1552.9 971.9 1563.1 970.9 1581.9 970 1602.1 969.5 1621.7 971.9 1663.6 975.6 1678.9 978.3 1687 981.1 1690.5 982.9 1695.8 986.6 1698.3 989.4 1700.6 993.6 1705.1 995 1713.4 996.8 1726.4 998.7 1749.8 1000.5 1753.9 998.7 1756.9 995.9 1758.1 994 1757.4 988.5 1759 985.7 1764.4 978.3 1771.1 971.9 1776.7 964.5 1792 932.1 1795.4 912.7 1799.1 910.1 1801.7 912.7 1804.2 932.1 1807.1 940.4 1812.8 953.4 1818.8 964.5 1827 967.2 1838.6 969.7 1838.6 1009.2 1799.1 1009.2 1786.9 1008.8 1767 1007.9 1749.8 1006.4 1700.6 1007.9 1688.3 1014.4 1676 1021.8 1671.1 1029.1 1662.4 1033.8 1651.4 1038 1642 1034.7 1629.6 1029.1 1623.9 1025.4 1616.6 1021.8 1598.4 1015.3 1589.8 1011.6 1570.9 1006 1552.9 1002.3 1537.7 1004.2 1527 1006 1515.2 1008.8 1503.7 1012.8 1454.4 1009.2 1445 1005.1 1435.8 999.6 1430 991.3 1416.9 976.5 1405.2 973 1356 973.9 1347 981.1 1342.2 983.9 1335.7 986.6 1328.9 992.2 1317.4 997.7 1307.9 1001.4 1257.5 1006.7 1233.4 1015.3 1208.2 1023.2 1181.1 1019 1159 1014.6 1109.8 1021.6 1097.5 1019.9 1081.6 1017.1 1069.8 1014.4 1060.5 1011.6 1015.8 1008.8 963.1 1006.7 963.1 955.5 1011.3 952.6 1027.4 954.3 1044.9 958.9 1050.5 961.7 1050.4 964.5 1052.7 966.3 1054.6 967.2 1060.5 969.6 1070.3 971.9 1081.9 975.6 1088.2 978.3 1093.1 981.1 1095.8 982 1109.8 983.2 1120 982 1122.5 981.1 1128.2 973.7 1133 970.9 1139.6 968.2 1145.3 966.3 1159 963 1171.3 965.4 1183.2 969.1 1187.1 970.9 1191.4 973.7 1195.6 981.1 1197.6 982 1208.2 983.5 1223.2 982 1224.9 981.1 1223.4 977.4 1219.5 974.6 1217.4 971.9 1220.8 970 1232.8 966.3 1248.4 963.5 1285.6 960.8 1296.9 958.9 1302.2 949.7 1317.8 919.2 1322.8 909 1329.3 894.2Z"/><path fill="#b9e114" d="M1339.5 885 1478.2 885 1487.2 905.3 1489.5 911.8 1493.8 936.7 1497.1 949.7 1500.1 968.2 1503.7 972.8 1552.9 976.8 1577.6 974.6 1602.1 973.1 1630.5 975.6 1651.4 976.8 1661.8 978.3 1674 981.1 1685.9 985.7 1691.8 989.4 1694.6 992.2 1696.3 995 1698.6 999.6 1700.6 1005.1 1683 1014.4 1671.1 1021.8 1666.1 1029.1 1658.8 1032.8 1651.4 1035.8 1635 1029.1 1630 1025.4 1623.5 1021.8 1593.5 1010.7 1584.9 1007.9 1571.2 1004.2 1552.9 1000.8 1537.6 1002.3 1525 1004.2 1512.6 1007 1503.7 1009.7 1454.4 1006.7 1446.9 1003.3 1440.6 999.6 1434.8 991.3 1421 976.5 1405.2 971.8 1356 971 1351.1 975.6 1342.8 981.1 1337.3 983.9 1329.9 986.6 1323.3 992.2 1306.7 999.4 1257.5 1004.2 1254 1006 1248.9 1007.9 1238.1 1010.7 1229.2 1014.4 1208.2 1021 1179.7 1016.2 1159 1011.8 1109.8 1019.1 1097.5 1017.1 1083.6 1014.4 1072.8 1011.6 1060.5 1007.8 1011.3 1005.6 963.1 1004.2 963.1 955.9 1011.3 953 1023.3 954.3 1039.4 958 1045.1 959.8 1048.8 961.7 1048.4 964.5 1050.3 966.3 1053.9 968.2 1060.5 970.6 1069.3 972.8 1078.4 975.6 1085.2 978.3 1092.7 982 1109.8 983.5 1122.2 982 1124.5 981.1 1130.4 973.7 1133.7 971.9 1140 969.1 1145.4 967.2 1159 963.8 1174.4 967.2 1184.3 970.9 1189.1 973.7 1193.6 981.1 1195.4 982 1208.2 983.8 1219.9 982.9 1226.3 982 1227.7 981.1 1225.7 977.4 1221.1 974.6 1218.6 971.9 1222.4 970 1225.3 969.1 1235.7 966.3 1245.9 964.5 1257.5 963.1 1284.3 961.7 1292.6 960.8 1301.8 958.9 1306.7 949.7 1309.5 946 1311.7 942.3 1313.8 936.7 1323.3 919.2 1328.2 909 1334.6 894.2Z M1799 932.1 1805.3 949.7 1812.3 964.5 1816.2 966.3 1821.6 968.2 1829.5 970 1838.6 971.4 1838.6 1006.8 1799.1 1006.8 1775.5 1005.1 1760.4 1003.3 1762.8 1001.4 1763.9 999.6 1763.9 994 1761.6 988.5 1765 983.9 1769.2 979.2 1773.2 975.6 1778.1 971.9 1784.2 964.5Z"/><path fill="#d2eb0f" d="M1345 885 1474.3 885 1479.7 897 1484.5 906.3 1486.5 911.8 1491.4 936.7 1494.7 949.7 1496.6 968.2 1499.5 973.7 1501.2 975.6 1503.7 977.4 1552.9 981.7 1571.5 979.2 1602.1 976.6 1651.4 979.3 1664.7 982 1677.1 985.7 1683.7 988.5 1689.2 992.2 1694.3 999.6 1695.2 1005.1 1677.8 1014.4 1670.3 1019 1666.1 1021.8 1661.2 1029.1 1651.4 1033.6 1640.5 1029.1 1636.1 1025.4 1630.5 1021.8 1613.8 1015.3 1591.8 1007.9 1579.5 1004.2 1575.8 1003.3 1562.2 1001.4 1552.9 999.3 1537.4 1000.5 1522.2 1002.3 1512.3 1004.2 1503.7 1006.6 1454.4 1004.2 1445.4 999.6 1439.6 991.3 1433.8 985.7 1425.2 976.5 1405.2 970.6 1384 970 1356 968.2 1353.7 970 1350.6 973.7 1343.5 978.3 1334.7 982.9 1324.1 986.6 1317.8 992.2 1306.7 997 1257.5 1001.6 1253.9 1004.2 1249.5 1006 1239.6 1008.8 1230.7 1010.7 1222.2 1014.4 1208.2 1018.8 1183.1 1014.4 1159 1008.9 1109.8 1016.6 1097.5 1014.4 1085.1 1011.6 1060.5 1004.1 1011.3 1002.6 963.1 1001.6 963.1 956.3 1011.3 953.5 1024.5 955.2 1036.8 958 1043 959.8 1047.1 961.7 1046.4 964.5 1047.9 966.3 1051.2 968.2 1058.1 970.9 1077.5 976.5 1089.6 982 1097.5 982.9 1109.8 983.7 1124.4 982 1126.6 981.1 1132.6 973.7 1136.1 971.9 1145.6 968.2 1159 964.7 1174.1 968.2 1183.5 971.9 1186.8 973.7 1191.5 981.1 1193.2 982 1197.7 982.9 1208.2 984.2 1223.9 982.9 1229.3 982 1230.4 981.1 1228 977.4 1222.7 974.6 1219.9 971.9 1224 970 1238.6 966.3 1249.8 964.5 1257.5 963.5 1282.1 962.6 1293.3 961.7 1303.8 959.8 1306.7 958.9 1309.1 957.1 1312.5 953.4 1314.8 949.7 1317.5 943.2 1319.1 936.7 1328.7 919.2 1339.9 894.2Z M1798.8 948.8 1799.1 948.2 1805.7 964.5 1807 965.4 1812.6 968.2 1818.5 970 1827.7 971.9 1838.6 973.2 1838.6 1004.4 1799.1 1004.4 1786.9 1003.3 1779.1 1001.4 1774 998.7 1771.7 996.8 1767.4 991.3 1765.7 988.5 1768 985.7 1776.9 977.4 1785.1 971.9 1791.6 964.5Z"/><path fill="#ebf50a" d="M1350.5 885 1470.3 885 1476.1 897 1481.3 906.3 1483.6 911.8 1488.9 936.7 1492.4 949.7 1493.4 970 1495.1 975.6 1497.5 978.3 1500.1 980.2 1503.7 982 1552.9 986.6 1574 982.9 1602.1 979.8 1651.4 981.8 1668.3 985.7 1674.4 987.6 1682.3 991.3 1683.8 992.2 1686.4 995 1690 999.6 1689.8 1005.1 1672.5 1014.4 1663.9 1019.9 1661.2 1021.8 1656.3 1029.1 1651.4 1031.4 1645.9 1029.1 1642.2 1025.4 1637.5 1021.8 1629 1018.1 1619.1 1014.4 1584.6 1003.3 1575.6 1002.3 1563.6 1000.5 1552.9 997.7 1526 999.6 1511.8 1001.4 1503.7 1003.1 1454.4 1001.7 1450.3 999.6 1449.3 998.7 1444.4 991.3 1438.3 985.7 1429.3 976.5 1417.7 972.8 1405.2 969.4 1380.2 968.2 1356 965.4 1352.5 967.2 1350.2 970 1349 972.8 1345 975.6 1332.2 982 1324.8 984.8 1318.3 986.6 1312.3 992.2 1306.7 994.6 1257.5 999.1 1253.8 1002.3 1248 1005.1 1233.3 1008.8 1223.2 1010.7 1215.2 1014.4 1208.2 1016.6 1195.7 1014.4 1181 1010.7 1168.5 1008.8 1159 1006.1 1146.2 1007.9 1126.5 1011.6 1109.8 1014.1 1097.5 1011.6 1083.6 1007 1068.5 1003.3 1060.5 1000.4 963.1 999.1 963.1 956.7 1011.3 953.9 1020.9 955.2 1038 958.9 1043.4 960.8 1045.4 961.7 1044.4 964.5 1045.4 966.3 1050.2 969.1 1057.6 971.9 1074.1 976.5 1081.2 979.2 1086.6 982 1093.4 982.9 1109.8 984.1 1121.2 982.9 1126.7 982 1128.7 981.1 1134.8 973.7 1136.5 972.8 1145.6 969.1 1159 965.5 1173.8 969.1 1182.8 972.8 1184.5 973.7 1189.4 981.1 1191 982 1201.3 983.9 1208.2 984.5 1219.5 983.9 1228 982.9 1232.4 982 1233.2 981.1 1230.2 977.4 1224.3 974.6 1221.1 971.9 1225.6 970 1229.1 969.1 1241.5 966.3 1257.5 964 1294.4 962.6 1321.9 958.9 1321.2 957.1 1321.3 956.1 1323.3 947.8 1324.4 936.7 1334.2 919.2 1345.3 894.2Z M1798.2 965.4 1799.1 964.5 1802.2 967.2 1805.3 969.1 1813.4 971.9 1838.6 974.9 1838.6 1002 1799.1 1002 1795.3 1001.4 1790.7 1000.5 1781.5 997.7 1778 995.9 1773.3 992.2 1769.9 988.5 1770.7 987.6 1774.5 983.9 1781.5 978.3 1787 974.6 1792.1 971.9Z"/><path fill="#fff500" d="M1355.4 885.9 1356 885 1466.3 885 1472.5 897 1478.6 907.2 1480.7 911.8 1482.6 919.2 1486.4 936.7 1490 949.7 1490.1 966.3 1489.5 968.2 1488.8 976.5 1489.7 978.3 1491.9 981.1 1494.1 982.9 1497.6 984.8 1503.7 986.6 1552.9 990.6 1580.9 985.7 1602.1 982.9 1651.4 984.1 1667 987.6 1672.4 989.4 1678.4 992.2 1682.4 995.9 1685.7 999.6 1684.4 1005.1 1667.2 1014.4 1656.3 1021.8 1651.4 1029.1 1648.3 1025.4 1644.4 1021.8 1627.2 1014.4 1603.4 1007 1593.3 1003.3 1575.5 1001.4 1564.7 999.6 1559.9 997.7 1557.6 995.9 1552.9 993.8 1531.5 996.8 1503.7 999.6 1454.4 999 1449.2 991.3 1441.8 984.8 1434.6 977.4 1433.4 976.5 1425.1 973.7 1405.2 968.2 1377.3 965.4 1356 962.6 1337 961.7 1337 958.9 1333.3 957.1 1332.5 956.1 1331 948.8 1329.6 936.7 1339.6 919.2 1350.6 894.2Z M998.6 955.2 1011.3 954.3 1035.7 958.9 1043.7 961.7 1042.4 964.5 1043 966.3 1047.3 969.1 1053.9 971.9 1073.4 977.4 1080.3 980.2 1083.5 982 1089.3 982.9 1109.8 984.6 1124.1 982.9 1128.9 982 1130.7 981.1 1137 973.7 1145.7 970 1159 966.3 1170.7 969.1 1176.1 970.9 1182.1 973.7 1187.4 981.1 1188.8 982 1197.8 983.9 1208.2 984.8 1225.3 983.9 1232 982.9 1235.5 982 1235.9 981.1 1232.5 977.4 1225.8 974.6 1222.3 971.9 1227.2 970 1231 969.1 1244.4 966.3 1257.5 964.5 1306.7 962.6 1347.1 963.5 1347.1 968.2 1346.4 972.8 1343.6 974.6 1338.3 977.4 1327.8 982 1319.6 984.8 1312.5 986.6 1306.7 992.2 1284.7 993.1 1272.9 994 1257.5 996.4 1254.6 998.7 1252.5 1001.4 1246.9 1004.2 1240.3 1006 1227 1008.8 1215.7 1010.7 1208.2 1014.4 1194.6 1010.7 1178.5 1008.8 1165.1 1006 1162.3 1005.1 1159 1003.3 1131.1 1007 1121.3 1008.8 1109.8 1011.6 1096.7 1007 1086.7 1005.1 1075.5 1002.3 1067.2 999.6 1060.5 996.7 963.1 996.5 963.1 957.1Z M1797.1 972.8 1799.1 971.9 1816.3 974.6 1838.6 976.6 1838.6 999.6 1799.1 999.6 1794.1 998.7 1787.4 996.8 1783.1 995 1778.4 992.2 1774.1 988.5 1779.3 983.9 1787.2 978.3Z"/><path fill="#ffd200" d="M1363 885 1462.4 885 1468.9 897 1473.8 904.4 1477.7 911.8 1481 923.8 1484 936.7 1487.6 949.7 1486.9 966.3 1484.4 972.8 1482.1 976.5 1481.9 977.4 1482.6 986.6 1485.3 988.5 1489.1 989.4 1526 992.2 1527.5 994 1503.7 996.8 1474 995 1466.3 994 1464.6 993.1 1460.7 992.2 1454.4 991.8 1446.3 984.8 1437.5 976.5 1429.5 973.7 1410.1 968.2 1405.2 966 1382.4 963.5 1362.5 960.8 1348.4 958 1345.4 957.1 1343.8 956.1 1340.8 952.5 1338.8 948.8 1337 944.1 1334.9 936.7 1345.1 919.2 1356.9 892.4 1359.4 888.7Z M1006.2 955.2 1011.3 954.9 1013.7 955.2 1033.4 958.9 1039.6 960.8 1042 961.7 1040.3 964.5 1040.5 966.3 1046 970 1052.8 972.8 1070.2 977.4 1077.5 980.2 1079.5 981.1 1080.4 982 1085.1 982.9 1104 984.8 1109.8 985.9 1113.3 984.8 1127 982.9 1131.1 982 1132.8 981.1 1139.2 973.7 1148.3 970 1159 967.1 1170.7 970 1179.8 973.7 1185.3 981.1 1186.6 982 1194.2 983.9 1203.1 984.8 1206.3 986.6 1208.2 987.3 1213.3 986.6 1216.8 985.7 1218.6 984.8 1231.1 983.9 1236 982.9 1238.6 982 1238.6 981.1 1234.8 977.4 1227.4 974.6 1223.5 971.9 1228.8 970 1232.9 969.1 1247.3 966.3 1257.5 964.9 1306.7 963.2 1320.2 963.5 1333.6 964.5 1338.1 965.4 1341.7 967.2 1342.6 968.2 1343.7 972.8 1334.9 977.4 1323.4 982 1314.5 984.8 1306.7 986.6 1301.5 987.6 1289.6 988.5 1256.1 989.4 1252.2 990.3 1249.3 992.2 1250.9 993.1 1251.6 994 1252.2 996.8 1250.9 998.7 1249.9 1001.4 1248.1 1002.3 1240.1 1005.1 1215.1 1009.7 1208.2 1010.7 1196.8 1009.7 1188.4 1008.8 1171.2 1006 1167.4 1005.1 1162.8 1003.3 1160.6 1001.4 1159 999.3 1151.4 1001.4 1142.6 1003.3 1109.8 1007 1098.2 1005.1 1085.3 1002.3 1075.8 999.6 1068.4 996.8 1060.5 994.6 1025.1 993.1 1011.3 991.9 963.1 992.2 963.1 957.9Z M1797.9 975.6 1799.1 974.9 1811.4 976.5 1838.6 978.1 1838.6 998.3 1799.1 997.7 1792.1 995.9 1783.6 992.2 1778.2 988.5 1785.5 982.9Z M1597.7 986.6 1602.1 986 1651.4 985.8 1663 988.5 1673 992.2 1677.7 995.9 1681.4 999.6 1679 1005.1 1661.9 1014.4 1651.4 1021.8 1635.3 1014.4 1612.1 1007 1602.1 1003.3 1590.8 1002.3 1575.4 1000.5 1570 999.6 1567 997.7 1565.8 994 1564.3 992.2Z"/><path fill="#ffb400" d="M1391.1 885 1429.8 885 1436.7 886.8 1443.9 889.6 1448.8 892.4 1449.8 895.2 1450.9 896.1 1454.4 897 1460.8 904.4 1466 911.8 1470.6 924.7 1478.1 949.7 1476.1 958.9 1473.9 966.3 1469.7 970 1465.2 972.8 1461 974.6 1454.4 976.8 1444.4 972.8 1427.6 967.2 1416 961.7 1405.2 957.5 1386.9 954.3 1378.1 951.5 1368.4 946.9 1364.1 944.1 1359.6 940.4 1356 936.7 1363.1 927.5 1376.9 907.2 1385 901.6 1394.9 897 1383.9 895.2 1380.6 894.2 1376.2 892.4 1382.3 888.7Z M990.9 958 1011.3 957.1 1024.2 958.9 1035.1 961.7 1030.8 966.3 1033.4 970 1036.6 972.8 1040.3 974.6 1046.9 976.5 1060.5 978.3 1063.5 979.2 1068.7 981.1 1068.2 982 1069.8 983.9 1069.2 984.8 1060.5 986.6 1011.3 984.8 996.7 985.7 963.1 986.8 963.1 961 978.6 958.9Z M1273.9 966.3 1306.7 965.7 1313.4 966.3 1324.7 968.2 1329.2 970 1333.2 972.8 1324.1 976.5 1306.7 981.7 1257.5 984.5 1254.4 983.9 1252.2 982.9 1243.9 977.4 1233.7 974.6 1228.4 971.9 1235.1 970 1257.5 966.5Z M1155.8 970.9 1159 970 1170.6 973.7 1178.6 982.9 1180 983.9 1182.6 984.8 1174.8 986.6 1170.9 988.5 1167.8 989.4 1159 990.8 1151.6 990.3 1146 989.4 1143.6 988.5 1141.3 986.6 1134.6 984.8 1135.5 983.9 1140.1 982 1148 973.7Z M1836.2 983.9 1838.6 983.8 1838.6 991.3 1799.1 990.3 1794.9 988.5 1799.1 986 1815.5 984.8Z M1105.2 993.1 1109.8 992.6 1121.3 993.1 1127.9 994 1132.1 995.9 1109.8 999.6 1094.9 995.9 1100.2 994Z M1641.5 993.1 1651.4 992.2 1658.5 995.9 1664.2 999.6 1658.8 1004.2 1651.4 1008.4 1636.4 1003.3 1616.7 1001.4 1602.1 1000.8 1591.4 999.6 1595.1 997.7 1602.1 995.9Z M1191.3 994 1208.2 993.5 1223.8 995 1232.7 996.8 1236.5 998.7 1239.5 1001.4 1233.4 1003.3 1224.1 1005.1 1208.2 1007 1187.8 1005.1 1177.9 1003.3 1172.5 1001.4 1175.7 997.7 1178.8 995.9 1182.3 995Z"/><path fill="#ff9100" d="M1402.5 889.6 1405.2 888.7 1419.7 892.4 1405.2 894.2 1395.5 892.4Z M1404.3 908.1 1405.2 907.2 1425.3 909.9 1454.4 912.1 1461 927.5 1468.7 949.7 1465 958.9 1460.9 966.3 1454.4 969.8 1444.7 966.3 1436 960.8 1426.3 956.1 1412 950.6 1395.9 945.1 1385.6 940.4 1384.9 936.7 1392.4 922Z M1002 958.9 1011.3 958.4 1020.4 959.8 1028.3 961.7 1021 966.3 1020.5 971.9 1019.5 977.4 1011.3 978.9 983.6 982 963.1 983.4 963.1 964.9 969.7 963.5 974.7 961.7 989.9 959.8Z M1248 969.1 1257.5 968.2 1306.7 968.2 1315.1 970 1322.6 972.8 1314.5 975.6 1306.7 977.6 1257.5 979.8 1252.9 977.4 1240.1 974.6 1233.2 971.9 1241.5 970Z M1156.8 973.7 1159 973 1161.3 973.7 1168.8 981.1 1168.9 982 1165.7 983.9 1159 985.2 1151.5 983.9 1149.9 982.9 1149 982 1149.3 981.1Z M1202 996.8 1208.2 996.1 1213.1 996.8 1222 998.7 1229.1 1001.4 1220.8 1003.3 1208.2 1005.1 1193.1 1003.3 1184.4 1001.4 1192 998.7Z"/><path fill="#ff6e00" d="M1449 937.7 1454.4 936.7 1459.2 949.7 1454.4 958 1448.5 954.3 1439.4 949.7 1438.4 943.2 1436.5 940.4Z M1009.3 959.8 1011.3 959.7 1021.5 961.7 1016.1 964.5 1011.3 966.3 999.2 965.4 994.3 964.5 989.9 962.6 989.3 961.7Z M1255.6 969.1 1270.4 969.1 1296.3 970 1305 970.9 1312 972.8 1306.7 974.4 1293.8 975.6 1257.5 976.8 1246.4 974.6 1238.1 971.9 1247.9 970Z M963.1 970 963.1 969.5 976.9 970 986.7 970.9 990.6 971.9 976.5 974.6 963.1 976.8Z M1158.5 980.2 1159 979.7 1160.5 981.1 1160.1 982 1159 982.4 1157.9 982 1157.5 981.1Z M1203.8 999.6 1208.2 998.8 1218.7 1001.4 1208.2 1003.3 1196.3 1001.4Z"/><path fill="#ff4b00" d="M1004 961.7 1011.3 961 1014.7 961.7 1011.3 963.2Z M1254.3 970 1257.5 969.6 1287.7 970.9 1296.3 971.9 1297.8 972.8 1277.8 974.6 1257.5 975.6 1248.9 973.7 1242.9 971.9Z"/><path fill="#ff2300" d="M1253.3 970.9 1257.5 970.4 1283.4 971.9 1279.9 972.8 1257.5 974.3 1247.8 971.9Z"/><path fill="#ff0000" d="M1252.6 971.9 1257.5 971.1 1270.4 971.9 1257.5 973.1Z"/></g><path d="M426.5 885V1254.6 M420.7 891.3L426.5 885.6L432.3 891.3 M420.7 1248.3L426.5 1254L432.3 1248.3" fill="none" stroke="#000" stroke-width="2.7" stroke-linejoin="miter"/><path d="M473.4 885V1254.6 M467.6 891.3L473.4 885.6L479.2 891.3 M467.6 1248.3L473.4 1254L479.2 1248.3" fill="none" stroke="#000" stroke-width="2.7" stroke-linejoin="miter"/><path d="M1297.3 885V1254.6 M1291.5 891.3L1297.3 885.6L1303.1 891.3 M1291.5 1248.3L1297.3 1254L1303.1 1248.3" fill="none" stroke="#000" stroke-width="2.7" stroke-linejoin="miter"/><path d="M1346.3 885V1254.6 M1340.5 891.3L1346.3 885.6L1352.1 891.3 M1340.5 1248.3L1346.3 1254L1352.1 1248.3" fill="none" stroke="#000" stroke-width="2.7" stroke-linejoin="miter"/><polyline points="104.5,1051.8 152.9,1058.7 200,1044 247.1,1055.6 294.2,1056.2 341.3,1099.5 388.4,1085.3 435.5,1073.7 482.6,1066.5 529.7,1067.6 576.8,1073.7 623.9,1102.1 671,1083.5 718.1,1099 765.2,1105.5 812.3,1096.4 859.4,1103.4 906.5,1096.9 946.5,1109.8" fill="none" stroke="#000000" stroke-width="8.5" stroke-linejoin="miter" stroke-miterlimit="10" stroke-linecap="butt"/><polyline points="104.5,967.9 152.9,960.2 200,974.4 247.1,991.1 294.2,971 341.3,996.3 388.4,971.8 435.5,972.5 482.6,983.4 529.7,975 576.8,1015.6 623.9,1001.5 671,990.6 718.1,1002 765.2,1028.5 812.3,1029.8 859.4,1016.4 906.5,1008.7 946.5,1022.6" fill="none" stroke="#0000ff" stroke-width="7.6" stroke-linejoin="miter" stroke-miterlimit="10" stroke-linecap="butt"/><polyline points="104.5,956.3 152.9,956.3 200,924 247.1,967.9 294.2,957.1 341.3,984.7 388.4,930.5 435.5,894.4 482.6,890 529.7,973.7 576.8,984.7 623.9,981.3 671,980.8 718.1,974.4 765.2,992.4 812.3,1022.1 859.4,998.4 906.5,979.5 946.5,949.8" fill="none" stroke="#00ff00" stroke-width="7.6" stroke-linejoin="miter" stroke-miterlimit="10" stroke-linecap="butt"/><polyline points="104.5,896.9 152.9,887.9 200,935.6 247.1,907.3 294.2,899.5 341.3,896.9 388.4,924 435.5,964 482.6,978.2 529.7,887.2 576.8,915.8 623.9,904.7 671,893.1 718.1,913.7 765.2,920.2 812.3,892.5 859.4,900.8 906.5,913.7 946.5,955" fill="none" stroke="#00ffff" stroke-width="7.6" stroke-linejoin="miter" stroke-miterlimit="10" stroke-linecap="butt"/><rect x="106.8" y="885" width="837.5" height="369.6" fill="none" stroke="#000" stroke-width="2.6"/><rect x="963.1" y="885" width="875.5" height="369.6" fill="none" stroke="#000" stroke-width="2.6"/><text x="87" y="899" font-family="'Liberation Sans', Arial, Helvetica, sans-serif" font-size="39" font-weight="normal" text-anchor="end" fill="#000" letter-spacing="0" stroke="#fff" stroke-width="1.1" paint-order="fill stroke">0</text><text x="90.6" y="1046.8" font-family="'Liberation Sans', Arial, Helvetica, sans-serif" font-size="39" font-weight="normal" text-anchor="end" fill="#000" letter-spacing="3.6" stroke="#fff" stroke-width="1.1" paint-order="fill stroke">80</text><text x="89.4" y="1194.7" font-family="'Liberation Sans', Arial, Helvetica, sans-serif" font-size="39" font-weight="normal" text-anchor="end" fill="#000" letter-spacing="2.4" stroke="#fff" stroke-width="1.1" paint-order="fill stroke">160</text><text x="211" y="1231.1" font-family="'Liberation Serif', 'Times New Roman', serif" font-size="43" font-weight="bold" text-anchor="start" fill="#000" textLength="158.7" lengthAdjust="spacingAndGlyphs" stroke="#000" stroke-width="0.25">VARDAH</text><text x="1104" y="1232.8" font-family="'Liberation Serif', 'Times New Roman', serif" font-size="43" font-weight="bold" text-anchor="start" fill="#000" textLength="159.3" lengthAdjust="spacingAndGlyphs" stroke="#000" stroke-width="0.25">VARDAH</text><text x="129.9" y="1274.2" font-family="'Liberation Sans', Arial, Helvetica, sans-serif" font-size="21.5" font-weight="normal" text-anchor="middle" fill="#000" stroke="#000" stroke-width="0.55">5</text><text x="178" y="1274.2" font-family="'Liberation Sans', Arial, Helvetica, sans-serif" font-size="21.5" font-weight="normal" text-anchor="middle" fill="#000" stroke="#000" stroke-width="0.55">10</text><text x="224.6" y="1274.2" font-family="'Liberation Sans', Arial, Helvetica, sans-serif" font-size="21.5" font-weight="normal" text-anchor="middle" fill="#000" stroke="#000" stroke-width="0.55">15</text><text x="271.4" y="1274.2" font-family="'Liberation Sans', Arial, Helvetica, sans-serif" font-size="21.5" font-weight="normal" text-anchor="middle" fill="#000" stroke="#000" stroke-width="0.55">20</text><text x="318.5" y="1274.2" font-family="'Liberation Sans', Arial, Helvetica, sans-serif" font-size="21.5" font-weight="normal" text-anchor="middle" fill="#000" stroke="#000" stroke-width="0.55">25</text><text x="365.4" y="1274.2" font-family="'Liberation Sans', Arial, Helvetica, sans-serif" font-size="21.5" font-weight="normal" text-anchor="middle" fill="#000" stroke="#000" stroke-width="0.55">30</text><text x="412.2" y="1274.2" font-family="'Liberation Sans', Arial, Helvetica, sans-serif" font-size="21.5" font-weight="normal" text-anchor="middle" fill="#000" stroke="#000" stroke-width="0.55">5</text><text x="460.6" y="1274.2" font-family="'Liberation Sans', Arial, Helvetica, sans-serif" font-size="21.5" font-weight="normal" text-anchor="middle" fill="#000" stroke="#000" stroke-width="0.55">10</text><text x="507.4" y="1274.2" font-family="'Liberation Sans', Arial, Helvetica, sans-serif" font-size="21.5" font-weight="normal" text-anchor="middle" fill="#000" stroke="#000" stroke-width="0.55">15</text><text x="553.6" y="1274.2" font-family="'Liberation Sans', Arial, Helvetica, sans-serif" font-size="21.5" font-weight="normal" text-anchor="middle" fill="#000" stroke="#000" stroke-width="0.55">20</text><text x="600.9" y="1274.2" font-family="'Liberation Sans', Arial, Helvetica, sans-serif" font-size="21.5" font-weight="normal" text-anchor="middle" fill="#000" stroke="#000" stroke-width="0.55">25</text><text x="647.5" y="1274.2" font-family="'Liberation Sans', Arial, Helvetica, sans-serif" font-size="21.5" font-weight="normal" text-anchor="middle" fill="#000" stroke="#000" stroke-width="0.55">30</text><text x="703.8" y="1274.2" font-family="'Liberation Sans', Arial, Helvetica, sans-serif" font-size="21.5" font-weight="normal" text-anchor="middle" fill="#000" stroke="#000" stroke-width="0.55">5</text><text x="751.7" y="1274.2" font-family="'Liberation Sans', Arial, Helvetica, sans-serif" font-size="21.5" font-weight="normal" text-anchor="middle" fill="#000" stroke="#000" stroke-width="0.55">10</text><text x="798.5" y="1274.2" font-family="'Liberation Sans', Arial, Helvetica, sans-serif" font-size="21.5" font-weight="normal" text-anchor="middle" fill="#000" stroke="#000" stroke-width="0.55">15</text><text x="845.6" y="1274.2" font-family="'Liberation Sans', Arial, Helvetica, sans-serif" font-size="21.5" font-weight="normal" text-anchor="middle" fill="#000" stroke="#000" stroke-width="0.55">20</text><text x="892.5" y="1274.2" font-family="'Liberation Sans', Arial, Helvetica, sans-serif" font-size="21.5" font-weight="normal" text-anchor="middle" fill="#000" stroke="#000" stroke-width="0.55">25</text><text x="939.1" y="1274.2" font-family="'Liberation Sans', Arial, Helvetica, sans-serif" font-size="21.5" font-weight="normal" text-anchor="middle" fill="#000" stroke="#000" stroke-width="0.55">30</text><text x="987.4" y="1274.2" font-family="'Liberation Sans', Arial, Helvetica, sans-serif" font-size="21.5" font-weight="normal" text-anchor="middle" fill="#000" stroke="#000" stroke-width="0.55">5</text><text x="1037.2" y="1274.2" font-family="'Liberation Sans', Arial, Helvetica, sans-serif" font-size="21.5" font-weight="normal" text-anchor="middle" fill="#000" stroke="#000" stroke-width="0.55">10</text><text x="1086.6" y="1274.2" font-family="'Liberation Sans', Arial, Helvetica, sans-serif" font-size="21.5" font-weight="normal" text-anchor="middle" fill="#000" stroke="#000" stroke-width="0.55">15</text><text x="1135.2" y="1274.2" font-family="'Liberation Sans', Arial, Helvetica, sans-serif" font-size="21.5" font-weight="normal" text-anchor="middle" fill="#000" stroke="#000" stroke-width="0.55">20</text><text x="1184.3" y="1274.2" font-family="'Liberation Sans', Arial, Helvetica, sans-serif" font-size="21.5" font-weight="normal" text-anchor="middle" fill="#000" stroke="#000" stroke-width="0.55">25</text><text x="1233.6" y="1274.2" font-family="'Liberation Sans', Arial, Helvetica, sans-serif" font-size="21.5" font-weight="normal" text-anchor="middle" fill="#000" stroke="#000" stroke-width="0.55">30</text><text x="1282.2" y="1274.2" font-family="'Liberation Sans', Arial, Helvetica, sans-serif" font-size="21.5" font-weight="normal" text-anchor="middle" fill="#000" stroke="#000" stroke-width="0.55">5</text><text x="1332.5" y="1274.2" font-family="'Liberation Sans', Arial, Helvetica, sans-serif" font-size="21.5" font-weight="normal" text-anchor="middle" fill="#000" stroke="#000" stroke-width="0.55">10</text><text x="1381.6" y="1274.2" font-family="'Liberation Sans', Arial, Helvetica, sans-serif" font-size="21.5" font-weight="normal" text-anchor="middle" fill="#000" stroke="#000" stroke-width="0.55">15</text><text x="1430.4" y="1274.2" font-family="'Liberation Sans', Arial, Helvetica, sans-serif" font-size="21.5" font-weight="normal" text-anchor="middle" fill="#000" stroke="#000" stroke-width="0.55">20</text><text x="1479.4" y="1274.2" font-family="'Liberation Sans', Arial, Helvetica, sans-serif" font-size="21.5" font-weight="normal" text-anchor="middle" fill="#000" stroke="#000" stroke-width="0.55">25</text><text x="1528.5" y="1274.2" font-family="'Liberation Sans', Arial, Helvetica, sans-serif" font-size="21.5" font-weight="normal" text-anchor="middle" fill="#000" stroke="#000" stroke-width="0.55">30</text><text x="1587.3" y="1274.2" font-family="'Liberation Sans', Arial, Helvetica, sans-serif" font-size="21.5" font-weight="normal" text-anchor="middle" fill="#000" stroke="#000" stroke-width="0.55">5</text><text x="1637.2" y="1274.2" font-family="'Liberation Sans', Arial, Helvetica, sans-serif" font-size="21.5" font-weight="normal" text-anchor="middle" fill="#000" stroke="#000" stroke-width="0.55">10</text><text x="1686.3" y="1274.2" font-family="'Liberation Sans', Arial, Helvetica, sans-serif" font-size="21.5" font-weight="normal" text-anchor="middle" fill="#000" stroke="#000" stroke-width="0.55">15</text><text x="1735.4" y="1274.2" font-family="'Liberation Sans', Arial, Helvetica, sans-serif" font-size="21.5" font-weight="normal" text-anchor="middle" fill="#000" stroke="#000" stroke-width="0.55">20</text><text x="1784.2" y="1274.2" font-family="'Liberation Sans', Arial, Helvetica, sans-serif" font-size="21.5" font-weight="normal" text-anchor="middle" fill="#000" stroke="#000" stroke-width="0.55">25</text><text x="1833.3" y="1274.2" font-family="'Liberation Sans', Arial, Helvetica, sans-serif" font-size="21.5" font-weight="normal" text-anchor="middle" fill="#000" stroke="#000" stroke-width="0.55">30</text><text x="211.2" y="1308.3" font-family="'Liberation Sans', Arial, Helvetica, sans-serif" font-size="30.5" font-weight="normal" text-anchor="start" fill="#000" textLength="57.3" lengthAdjust="spacingAndGlyphs" stroke="#fff" stroke-width="0.6" paint-order="fill stroke">NOV</text><text x="487.8" y="1308.3" font-family="'Liberation Sans', Arial, Helvetica, sans-serif" font-size="30.5" font-weight="normal" text-anchor="start" fill="#000" textLength="57.3" lengthAdjust="spacingAndGlyphs" stroke="#fff" stroke-width="0.6" paint-order="fill stroke">DEC</text><text x="780.1" y="1308.3" font-family="'Liberation Sans', Arial, Helvetica, sans-serif" font-size="30.5" font-weight="normal" text-anchor="start" fill="#000" textLength="54.1" lengthAdjust="spacingAndGlyphs" stroke="#fff" stroke-width="0.6" paint-order="fill stroke">JAN</text><text x="1073.1" y="1308.3" font-family="'Liberation Sans', Arial, Helvetica, sans-serif" font-size="30.5" font-weight="normal" text-anchor="start" fill="#000" textLength="57.3" lengthAdjust="spacingAndGlyphs" stroke="#fff" stroke-width="0.6" paint-order="fill stroke">NOV</text><text x="1362.6" y="1308.3" font-family="'Liberation Sans', Arial, Helvetica, sans-serif" font-size="30.5" font-weight="normal" text-anchor="start" fill="#000" textLength="57.3" lengthAdjust="spacingAndGlyphs" stroke="#fff" stroke-width="0.6" paint-order="fill stroke">DEC</text><text x="1668" y="1308.3" font-family="'Liberation Sans', Arial, Helvetica, sans-serif" font-size="30.5" font-weight="normal" text-anchor="start" fill="#000" textLength="54.1" lengthAdjust="spacingAndGlyphs" stroke="#fff" stroke-width="0.6" paint-order="fill stroke">JAN</text><text x="129.4" y="52.5" font-family="'Liberation Serif', 'Times New Roman', serif" font-size="42" font-weight="bold" text-anchor="start" fill="#000">a</text><text x="983.9" y="52.3" font-family="'Liberation Serif', 'Times New Roman', serif" font-size="42" font-weight="bold" text-anchor="start" fill="#000">b</text><text x="130.5" y="167.8" font-family="'Liberation Serif', 'Times New Roman', serif" font-size="31.7" font-weight="bold" text-anchor="start" fill="#00ffff" textLength="58" lengthAdjust="spacingAndGlyphs" stroke="#00ffff" stroke-width="0.6">MLD</text><text x="264.2" y="167.9" font-family="'Liberation Serif', 'Times New Roman', serif" font-size="31.7" font-weight="bold" text-anchor="start" fill="#0000ff" textLength="45.8" lengthAdjust="spacingAndGlyphs" stroke="#0000ff" stroke-width="0.6">ILD</text><text x="389" y="168" font-family="'Liberation Serif', 'Times New Roman', serif" font-size="31.7" font-weight="bold" text-anchor="start" fill="#00ff00" textLength="53.5" lengthAdjust="spacingAndGlyphs" stroke="#00ff00" stroke-width="0.6">BLT</text><text x="517.1" y="168.4" font-family="'Liberation Serif', 'Times New Roman', serif" font-size="31.7" font-weight="bold" text-anchor="start" fill="#000" textLength="53.5" lengthAdjust="spacingAndGlyphs" stroke="#000" stroke-width="0.6">d23</text><text x="0" y="608" font-family="'Liberation Serif', 'Times New Roman', serif" font-size="36" font-weight="bold" text-anchor="start" fill="#000">m</text><polygon points="164.2,1360 124.1,1387 164.2,1414" fill="#082332" stroke="#000" stroke-width="2.6" stroke-linejoin="miter"/><polygon points="872.2,1360 911.8,1387 872.2,1414" fill="#e4f85a" stroke="#000" stroke-width="2.6" stroke-linejoin="miter"/><rect x="164.2" y="1360" width="17.7" height="54" fill="#072638" stroke="#000" stroke-width="2.6"/><rect x="181.9" y="1360" width="17.7" height="54" fill="#082a48" stroke="#000" stroke-width="2.6"/><rect x="199.6" y="1360" width="17.7" height="54" fill="#0a305a" stroke="#000" stroke-width="2.6"/><rect x="217.3" y="1360" width="17.7" height="54" fill="#123269" stroke="#000" stroke-width="2.6"/><rect x="235" y="1360" width="17.7" height="54" fill="#193778" stroke="#000" stroke-width="2.6"/><rect x="252.7" y="1360" width="17.7" height="54" fill="#213287" stroke="#000" stroke-width="2.6"/><rect x="270.4" y="1360" width="17.7" height="54" fill="#2d3291" stroke="#000" stroke-width="2.6"/><rect x="288.1" y="1360" width="17.7" height="54" fill="#3732a0" stroke="#000" stroke-width="2.6"/><rect x="305.8" y="1360" width="17.7" height="54" fill="#4637a5" stroke="#000" stroke-width="2.6"/><rect x="323.5" y="1360" width="17.7" height="54" fill="#553ca0" stroke="#000" stroke-width="2.6"/><rect x="341.2" y="1360" width="17.7" height="54" fill="#6441a0" stroke="#000" stroke-width="2.6"/><rect x="358.9" y="1360" width="17.7" height="54" fill="#69469b" stroke="#000" stroke-width="2.6"/><rect x="376.6" y="1360" width="17.7" height="54" fill="#734b96" stroke="#000" stroke-width="2.6"/><rect x="394.3" y="1360" width="17.7" height="54" fill="#785096" stroke="#000" stroke-width="2.6"/><rect x="412" y="1360" width="17.7" height="54" fill="#825096" stroke="#000" stroke-width="2.6"/><rect x="429.7" y="1360" width="17.7" height="54" fill="#8c5291" stroke="#000" stroke-width="2.6"/><rect x="447.4" y="1360" width="17.7" height="54" fill="#94558c" stroke="#000" stroke-width="2.6"/><rect x="465.1" y="1360" width="17.7" height="54" fill="#9b588c" stroke="#000" stroke-width="2.6"/><rect x="482.8" y="1360" width="17.7" height="54" fill="#a35a87" stroke="#000" stroke-width="2.6"/><rect x="500.5" y="1360" width="17.7" height="54" fill="#ac5c84" stroke="#000" stroke-width="2.6"/><rect x="518.2" y="1360" width="17.7" height="54" fill="#b45f80" stroke="#000" stroke-width="2.6"/><rect x="535.9" y="1360" width="17.7" height="54" fill="#be627d" stroke="#000" stroke-width="2.6"/><rect x="553.6" y="1360" width="17.7" height="54" fill="#c66476" stroke="#000" stroke-width="2.6"/><rect x="571.3" y="1360" width="17.7" height="54" fill="#d06770" stroke="#000" stroke-width="2.6"/><rect x="589" y="1360" width="17.7" height="54" fill="#da6c6c" stroke="#000" stroke-width="2.6"/><rect x="606.7" y="1360" width="17.7" height="54" fill="#e17364" stroke="#000" stroke-width="2.6"/><rect x="624.4" y="1360" width="17.7" height="54" fill="#e8785f" stroke="#000" stroke-width="2.6"/><rect x="642.1" y="1360" width="17.7" height="54" fill="#ee8055" stroke="#000" stroke-width="2.6"/><rect x="659.8" y="1360" width="17.7" height="54" fill="#f3874e" stroke="#000" stroke-width="2.6"/><rect x="677.5" y="1360" width="17.7" height="54" fill="#f78f48" stroke="#000" stroke-width="2.6"/><rect x="695.2" y="1360" width="17.7" height="54" fill="#f89641" stroke="#000" stroke-width="2.6"/><rect x="712.9" y="1360" width="17.7" height="54" fill="#faa041" stroke="#000" stroke-width="2.6"/><rect x="730.6" y="1360" width="17.7" height="54" fill="#faaa41" stroke="#000" stroke-width="2.6"/><rect x="748.3" y="1360" width="17.7" height="54" fill="#fab441" stroke="#000" stroke-width="2.6"/><rect x="766" y="1360" width="17.7" height="54" fill="#fabe41" stroke="#000" stroke-width="2.6"/><rect x="783.7" y="1360" width="17.7" height="54" fill="#fac644" stroke="#000" stroke-width="2.6"/><rect x="801.4" y="1360" width="17.7" height="54" fill="#f8d046" stroke="#000" stroke-width="2.6"/><rect x="819.1" y="1360" width="17.7" height="54" fill="#f5d74b" stroke="#000" stroke-width="2.6"/><rect x="836.8" y="1360" width="17.7" height="54" fill="#f0e150" stroke="#000" stroke-width="2.6"/><rect x="854.5" y="1360" width="17.7" height="54" fill="#ebee55" stroke="#000" stroke-width="2.6"/><polygon points="1017.2,1360.3 975.5,1387.3 1017.2,1414.4" fill="#c800ff" stroke="#000" stroke-width="2.6" stroke-linejoin="miter"/><polygon points="1759.9,1360.3 1801.2,1387.3 1759.9,1414.4" fill="#960000" stroke="#000" stroke-width="2.6" stroke-linejoin="miter"/><rect x="1017.2" y="1360.3" width="25.6" height="54.1" fill="#a014ff" stroke="#000" stroke-width="2.6"/><rect x="1042.8" y="1360.3" width="25.6" height="54.1" fill="#7d23ff" stroke="#000" stroke-width="2.6"/><rect x="1068.4" y="1360.3" width="25.6" height="54.1" fill="#4b32ff" stroke="#000" stroke-width="2.6"/><rect x="1094" y="1360.3" width="25.6" height="54.1" fill="#4141e1" stroke="#000" stroke-width="2.6"/><rect x="1119.6" y="1360.3" width="25.6" height="54.1" fill="#3755c8" stroke="#000" stroke-width="2.6"/><rect x="1145.2" y="1360.3" width="25.6" height="54.1" fill="#2d64af" stroke="#000" stroke-width="2.6"/><rect x="1170.9" y="1360.3" width="25.6" height="54.1" fill="#236e96" stroke="#000" stroke-width="2.6"/><rect x="1196.5" y="1360.3" width="25.6" height="54.1" fill="#197d82" stroke="#000" stroke-width="2.6"/><rect x="1222.1" y="1360.3" width="25.6" height="54.1" fill="#0f8c69" stroke="#000" stroke-width="2.6"/><rect x="1247.7" y="1360.3" width="25.6" height="54.1" fill="#009b46" stroke="#000" stroke-width="2.6"/><rect x="1273.3" y="1360.3" width="25.6" height="54.1" fill="#1ea541" stroke="#000" stroke-width="2.6"/><rect x="1298.9" y="1360.3" width="25.6" height="54.1" fill="#37af3c" stroke="#000" stroke-width="2.6"/><rect x="1324.5" y="1360.3" width="25.6" height="54.1" fill="#50b932" stroke="#000" stroke-width="2.6"/><rect x="1350.1" y="1360.3" width="25.6" height="54.1" fill="#6ec828" stroke="#000" stroke-width="2.6"/><rect x="1375.7" y="1360.3" width="25.6" height="54.1" fill="#87d223" stroke="#000" stroke-width="2.6"/><rect x="1401.3" y="1360.3" width="25.6" height="54.1" fill="#a0d71e" stroke="#000" stroke-width="2.6"/><rect x="1427" y="1360.3" width="25.6" height="54.1" fill="#b9e114" stroke="#000" stroke-width="2.6"/><rect x="1452.6" y="1360.3" width="25.6" height="54.1" fill="#d2eb0f" stroke="#000" stroke-width="2.6"/><rect x="1478.2" y="1360.3" width="25.6" height="54.1" fill="#ebf50a" stroke="#000" stroke-width="2.6"/><rect x="1503.8" y="1360.3" width="25.6" height="54.1" fill="#fff500" stroke="#000" stroke-width="2.6"/><rect x="1529.4" y="1360.3" width="25.6" height="54.1" fill="#ffd200" stroke="#000" stroke-width="2.6"/><rect x="1555" y="1360.3" width="25.6" height="54.1" fill="#ffb400" stroke="#000" stroke-width="2.6"/><rect x="1580.6" y="1360.3" width="25.6" height="54.1" fill="#ff9100" stroke="#000" stroke-width="2.6"/><rect x="1606.2" y="1360.3" width="25.6" height="54.1" fill="#ff6e00" stroke="#000" stroke-width="2.6"/><rect x="1631.8" y="1360.3" width="25.6" height="54.1" fill="#ff4b00" stroke="#000" stroke-width="2.6"/><rect x="1657.5" y="1360.3" width="25.6" height="54.1" fill="#ff2300" stroke="#000" stroke-width="2.6"/><rect x="1683.1" y="1360.3" width="25.6" height="54.1" fill="#ff0000" stroke="#000" stroke-width="2.6"/><rect x="1708.7" y="1360.3" width="25.6" height="54.1" fill="#d70000" stroke="#000" stroke-width="2.6"/><rect x="1734.3" y="1360.3" width="25.6" height="54.1" fill="#af0000" stroke="#000" stroke-width="2.6"/><text x="165" y="1450.4" font-family="'Liberation Sans', Arial, Helvetica, sans-serif" font-size="31.5" font-weight="normal" text-anchor="middle" fill="#000" letter-spacing="1.5" stroke="#fff" stroke-width="0.9" paint-order="fill stroke">10</text><text x="271" y="1450.4" font-family="'Liberation Sans', Arial, Helvetica, sans-serif" font-size="31.5" font-weight="normal" text-anchor="middle" fill="#000" letter-spacing="1.5" stroke="#fff" stroke-width="0.9" paint-order="fill stroke">13</text><text x="377.3" y="1450.4" font-family="'Liberation Sans', Arial, Helvetica, sans-serif" font-size="31.5" font-weight="normal" text-anchor="middle" fill="#000" letter-spacing="1.5" stroke="#fff" stroke-width="0.9" paint-order="fill stroke">16</text><text x="483.2" y="1450.4" font-family="'Liberation Sans', Arial, Helvetica, sans-serif" font-size="31.5" font-weight="normal" text-anchor="middle" fill="#000" letter-spacing="1.5" stroke="#fff" stroke-width="0.9" paint-order="fill stroke">19</text><text x="588.7" y="1450.4" font-family="'Liberation Sans', Arial, Helvetica, sans-serif" font-size="31.5" font-weight="normal" text-anchor="middle" fill="#000" letter-spacing="1.5" stroke="#fff" stroke-width="0.9" paint-order="fill stroke">22</text><text x="694.5" y="1450.4" font-family="'Liberation Sans', Arial, Helvetica, sans-serif" font-size="31.5" font-weight="normal" text-anchor="middle" fill="#000" letter-spacing="1.5" stroke="#fff" stroke-width="0.9" paint-order="fill stroke">25</text><text x="800.8" y="1450.4" font-family="'Liberation Sans', Arial, Helvetica, sans-serif" font-size="31.5" font-weight="normal" text-anchor="middle" fill="#000" letter-spacing="1.5" stroke="#fff" stroke-width="0.9" paint-order="fill stroke">28</text><text x="1011.8" y="1450.4" font-family="'Liberation Sans', Arial, Helvetica, sans-serif" font-size="31.5" font-weight="normal" text-anchor="middle" fill="#000" stroke="#fff" stroke-width="0.9" paint-order="fill stroke">0.0</text><text x="1113.7" y="1450.4" font-family="'Liberation Sans', Arial, Helvetica, sans-serif" font-size="31.5" font-weight="normal" text-anchor="middle" fill="#000" stroke="#fff" stroke-width="0.9" paint-order="fill stroke">0.2</text><text x="1216.3" y="1450.4" font-family="'Liberation Sans', Arial, Helvetica, sans-serif" font-size="31.5" font-weight="normal" text-anchor="middle" fill="#000" stroke="#fff" stroke-width="0.9" paint-order="fill stroke">0.4</text><text x="1318.8" y="1450.4" font-family="'Liberation Sans', Arial, Helvetica, sans-serif" font-size="31.5" font-weight="normal" text-anchor="middle" fill="#000" stroke="#fff" stroke-width="0.9" paint-order="fill stroke">0.6</text><text x="1421" y="1450.4" font-family="'Liberation Sans', Arial, Helvetica, sans-serif" font-size="31.5" font-weight="normal" text-anchor="middle" fill="#000" stroke="#fff" stroke-width="0.9" paint-order="fill stroke">0.8</text><text x="1524.1" y="1450.4" font-family="'Liberation Sans', Arial, Helvetica, sans-serif" font-size="31.5" font-weight="normal" text-anchor="middle" fill="#000" stroke="#fff" stroke-width="0.9" paint-order="fill stroke">1.0</text><text x="1627.2" y="1450.4" font-family="'Liberation Sans', Arial, Helvetica, sans-serif" font-size="31.5" font-weight="normal" text-anchor="middle" fill="#000" stroke="#fff" stroke-width="0.9" paint-order="fill stroke">1.8</text><text x="1728.5" y="1450.4" font-family="'Liberation Sans', Arial, Helvetica, sans-serif" font-size="31.5" font-weight="normal" text-anchor="middle" fill="#000" stroke="#fff" stroke-width="0.9" paint-order="fill stroke">2.6</text><text x="515.5" y="1483.3" font-family="'Liberation Serif', 'Times New Roman', serif" font-size="31" font-weight="bold" text-anchor="start" fill="#000" textLength="75.5" lengthAdjust="spacingAndGlyphs">DegC</text><text x="1382.6" y="1484.6" font-family="'Liberation Serif', 'Times New Roman', serif" font-size="34" font-weight="bold" text-anchor="start" fill="#000" textLength="96.2" lengthAdjust="spacingAndGlyphs">mg m</text><text x="1481.4" y="1472.4" font-family="'Liberation Serif', 'Times New Roman', serif" font-size="26" font-weight="bold" text-anchor="start" fill="#000" textLength="29.4" lengthAdjust="spacingAndGlyphs">−3</text></svg></body></html>
